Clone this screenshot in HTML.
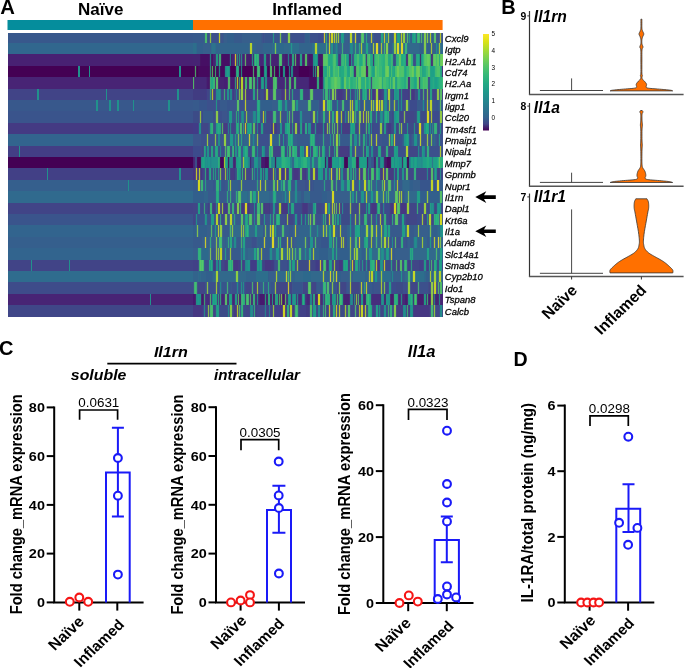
<!DOCTYPE html>
<html><head><meta charset="utf-8">
<style>
html,body{margin:0;padding:0;background:#fff;}
body{width:685px;height:668px;overflow:hidden;position:relative;}
svg{position:absolute;left:0;top:0;will-change:transform;}
text{font-family:"Liberation Sans",sans-serif;}
.b{font-weight:bold;}
.gl text{font-style:italic;font-size:8.4px;stroke:#000;stroke-width:0.25px;}
.tk{font-weight:bold;font-size:13.6px;}
.pv{font-size:12.2px;}
.yl{font-weight:bold;font-size:15.6px;}
.xl{font-weight:bold;font-size:14.6px;}
.bi{font-weight:bold;font-style:italic;}
</style></head><body>
<svg width="685" height="668" viewBox="0 0 685 668">
<text class="b" x="0.2" y="14.2" style="font-size:20.3px">A</text>
<text class="b" x="100.7" y="15" text-anchor="middle" style="font-size:17px">Naïve</text>
<text class="b" x="307.1" y="14.6" text-anchor="middle" style="font-size:17px">Inflamed</text>
<rect x="7.5" y="20" width="185.5" height="10" fill="#058d9c"/>
<rect x="193" y="20" width="249.6" height="10" fill="#ff7000"/>
<g shape-rendering="crispEdges"><path fill="#38588c" d="M7.5 32.50h185.5v10.40h-185.5zM7.5 99.92h185.5v11.40h-185.5z"/><path fill="#31678e" d="M7.5 42.90h185.5v11.40h-185.5z"/><path fill="#482173" d="M7.5 54.30h185.5v11.40h-185.5z"/><path fill="#440154" d="M7.5 65.71h185.5v11.40h-185.5zM7.5 156.94h185.5v11.40h-185.5z"/><path fill="#482475" d="M7.5 77.11h185.5v11.40h-185.5zM7.5 293.79h185.5v11.40h-185.5z"/><path fill="#414487" d="M7.5 88.52h185.5v11.40h-185.5zM7.5 202.56h185.5v11.40h-185.5zM7.5 259.58h185.5v11.40h-185.5z"/><path fill="#3a548c" d="M7.5 111.33h185.5v11.40h-185.5zM7.5 213.96h185.5v11.40h-185.5z"/><path fill="#443a83" d="M7.5 122.73h185.5v11.40h-185.5z"/><path fill="#32648e" d="M7.5 134.13h185.5v11.40h-185.5zM7.5 225.37h185.5v11.40h-185.5zM7.5 248.18h185.5v11.40h-185.5z"/><path fill="#433e85" d="M7.5 145.54h185.5v11.40h-185.5z"/><path fill="#424086" d="M7.5 168.35h185.5v11.40h-185.5z"/><path fill="#355f8d" d="M7.5 179.75h185.5v11.40h-185.5zM7.5 236.77h185.5v11.40h-185.5z"/><path fill="#306a8e" d="M7.5 191.15h185.5v11.40h-185.5z"/><path fill="#2f6c8e" d="M7.5 270.98h185.5v11.40h-185.5z"/><path fill="#3e4c8a" d="M7.5 282.39h185.5v11.40h-185.5z"/><path fill="#404688" d="M7.5 305.20h185.5v11.40h-185.5z"/><path fill="#375a8c" d="M193.0 32.50h11.0v10.40h-11.0zM223.0 32.50h1.0v10.40h-1.0zM234.0 32.50h8.0v10.40h-8.0zM261.0 32.50h1.0v10.40h-1.0zM272.0 32.50h1.0v10.40h-1.0zM274.0 32.50h1.0v10.40h-1.0zM340.0 32.50h1.0v10.40h-1.0zM348.0 32.50h1.0v10.40h-1.0zM353.0 32.50h1.0v10.40h-1.0zM373.0 32.50h1.0v10.40h-1.0zM380.0 32.50h1.0v10.40h-1.0zM392.0 32.50h1.0v10.40h-1.0zM429.0 77.11h1.0v11.40h-1.0zM193.0 99.92h6.0v11.40h-6.0zM220.0 99.92h7.0v11.40h-7.0zM256.0 99.92h1.0v11.40h-1.0zM288.0 99.92h3.0v11.40h-3.0zM338.0 99.92h1.0v11.40h-1.0zM360.0 99.92h1.0v11.40h-1.0zM387.0 99.92h1.0v11.40h-1.0zM391.0 99.92h2.0v11.40h-2.0zM396.0 99.92h1.0v11.40h-1.0zM409.0 99.92h1.0v11.40h-1.0zM417.0 99.92h5.0v11.40h-5.0zM438.0 99.92h1.0v11.40h-1.0zM442.0 99.92h0.6v11.40h-0.6zM203.0 111.33h10.0v11.40h-10.0zM228.0 111.33h1.0v11.40h-1.0zM232.0 111.33h1.0v11.40h-1.0zM248.0 111.33h4.0v11.40h-4.0zM260.0 111.33h1.0v11.40h-1.0zM286.0 111.33h1.0v11.40h-1.0zM303.0 111.33h7.0v11.40h-7.0zM316.0 111.33h1.0v11.40h-1.0zM318.0 111.33h1.0v11.40h-1.0zM321.0 111.33h1.0v11.40h-1.0zM326.0 111.33h2.0v11.40h-2.0zM346.0 111.33h1.0v11.40h-1.0zM357.0 111.33h1.0v11.40h-1.0zM372.0 111.33h1.0v11.40h-1.0zM375.0 111.33h1.0v11.40h-1.0zM377.0 111.33h1.0v11.40h-1.0zM379.0 111.33h1.0v11.40h-1.0zM431.0 122.73h1.0v11.40h-1.0zM220.0 134.13h1.0v11.40h-1.0zM229.0 134.13h1.0v11.40h-1.0zM286.0 134.13h1.0v11.40h-1.0zM297.0 134.13h12.0v11.40h-12.0zM315.0 134.13h1.0v11.40h-1.0zM329.0 134.13h1.0v11.40h-1.0zM331.0 134.13h1.0v11.40h-1.0zM341.0 134.13h8.0v11.40h-8.0zM353.0 134.13h1.0v11.40h-1.0zM357.0 134.13h1.0v11.40h-1.0zM402.0 134.13h1.0v11.40h-1.0zM409.0 134.13h1.0v11.40h-1.0zM438.0 134.13h1.0v11.40h-1.0zM440.0 134.13h1.0v11.40h-1.0zM242.0 145.54h1.0v11.40h-1.0zM261.0 145.54h1.0v11.40h-1.0zM325.0 145.54h1.0v11.40h-1.0zM419.0 145.54h1.0v11.40h-1.0zM421.0 145.54h1.0v11.40h-1.0zM193.0 179.75h4.0v11.40h-4.0zM207.0 179.75h6.0v11.40h-6.0zM221.0 179.75h1.0v11.40h-1.0zM238.0 179.75h2.0v11.40h-2.0zM243.0 179.75h13.0v11.40h-13.0zM262.0 179.75h2.0v11.40h-2.0zM267.0 179.75h1.0v11.40h-1.0zM294.0 179.75h1.0v11.40h-1.0zM297.0 179.75h1.0v11.40h-1.0zM314.0 179.75h9.0v11.40h-9.0zM392.0 179.75h1.0v11.40h-1.0zM399.0 179.75h3.0v11.40h-3.0zM208.0 191.15h7.0v11.40h-7.0zM220.0 191.15h6.0v11.40h-6.0zM232.0 191.15h3.0v11.40h-3.0zM301.0 191.15h3.0v11.40h-3.0zM310.0 191.15h12.0v11.40h-12.0zM358.0 191.15h2.0v11.40h-2.0zM403.0 191.15h1.0v11.40h-1.0zM197.0 213.96h1.0v11.40h-1.0zM207.0 213.96h1.0v11.40h-1.0zM210.0 213.96h1.0v11.40h-1.0zM214.0 213.96h1.0v11.40h-1.0zM228.0 213.96h1.0v11.40h-1.0zM236.0 213.96h4.0v11.40h-4.0zM263.0 213.96h1.0v11.40h-1.0zM265.0 213.96h1.0v11.40h-1.0zM269.0 213.96h1.0v11.40h-1.0zM271.0 213.96h1.0v11.40h-1.0zM321.0 213.96h1.0v11.40h-1.0zM351.0 213.96h1.0v11.40h-1.0zM401.0 213.96h1.0v11.40h-1.0zM404.0 213.96h1.0v11.40h-1.0zM213.0 225.37h1.0v11.40h-1.0zM223.0 225.37h6.0v11.40h-6.0zM263.0 225.37h1.0v11.40h-1.0zM289.0 225.37h4.0v11.40h-4.0zM338.0 225.37h1.0v11.40h-1.0zM342.0 225.37h5.0v11.40h-5.0zM352.0 225.37h2.0v11.40h-2.0zM391.0 225.37h10.0v11.40h-10.0zM410.0 225.37h4.0v11.40h-4.0zM193.0 236.77h9.0v11.40h-9.0zM237.0 236.77h3.0v11.40h-3.0zM246.0 236.77h5.0v11.40h-5.0zM309.0 236.77h1.0v11.40h-1.0zM313.0 236.77h1.0v11.40h-1.0zM317.0 236.77h4.0v11.40h-4.0zM328.0 236.77h1.0v11.40h-1.0zM391.0 236.77h1.0v11.40h-1.0zM407.0 236.77h1.0v11.40h-1.0zM410.0 236.77h3.0v11.40h-3.0zM427.0 236.77h2.0v11.40h-2.0zM432.0 236.77h1.0v11.40h-1.0zM212.0 248.18h3.0v11.40h-3.0zM223.0 248.18h1.0v11.40h-1.0zM227.0 248.18h2.0v11.40h-2.0zM232.0 248.18h8.0v11.40h-8.0zM263.0 248.18h6.0v11.40h-6.0zM393.0 248.18h2.0v11.40h-2.0zM219.0 282.39h1.0v11.40h-1.0zM236.0 282.39h1.0v11.40h-1.0zM238.0 282.39h1.0v11.40h-1.0zM260.0 282.39h2.0v11.40h-2.0zM265.0 282.39h2.0v11.40h-2.0zM270.0 282.39h1.0v11.40h-1.0zM317.0 282.39h3.0v11.40h-3.0zM368.0 282.39h4.0v11.40h-4.0z"/><path fill="#376487" d="M204.0 32.50h1.0v10.40h-1.0zM416.0 32.50h1.0v10.40h-1.0z"/><path fill="#4bb96e" d="M205.0 32.50h2.0v10.40h-2.0zM251.0 191.15h1.0v11.40h-1.0zM282.0 225.37h2.0v11.40h-2.0zM355.0 236.77h2.0v11.40h-2.0z"/><path fill="#3c5a87" d="M207.0 32.50h1.0v10.40h-1.0zM353.0 54.30h1.0v11.40h-1.0zM428.0 77.11h1.0v11.40h-1.0zM235.0 111.33h1.0v11.40h-1.0zM389.0 111.33h1.0v11.40h-1.0zM213.0 122.73h1.0v11.40h-1.0zM280.0 134.13h1.0v11.40h-1.0zM362.0 134.13h1.0v11.40h-1.0zM251.0 145.54h1.0v11.40h-1.0zM255.0 145.54h1.0v11.40h-1.0zM288.0 145.54h1.0v11.40h-1.0zM320.0 145.54h1.0v11.40h-1.0zM328.0 145.54h1.0v11.40h-1.0zM362.0 145.54h1.0v11.40h-1.0zM426.0 145.54h1.0v11.40h-1.0zM429.0 145.54h1.0v11.40h-1.0zM253.0 168.35h1.0v11.40h-1.0zM274.0 213.96h1.0v11.40h-1.0zM307.0 213.96h1.0v11.40h-1.0zM367.0 213.96h1.0v11.40h-1.0zM383.0 213.96h1.0v11.40h-1.0zM386.0 213.96h1.0v11.40h-1.0zM393.0 213.96h1.0v11.40h-1.0zM400.0 236.77h1.0v11.40h-1.0zM204.0 259.58h1.0v11.40h-1.0zM277.0 259.58h1.0v11.40h-1.0zM280.0 259.58h1.0v11.40h-1.0zM419.0 282.39h1.0v11.40h-1.0zM312.0 305.20h1.0v11.40h-1.0z"/><path fill="#3c508c" d="M208.0 32.50h1.0v10.40h-1.0zM212.0 32.50h6.0v10.40h-6.0zM263.0 32.50h1.0v10.40h-1.0zM283.0 32.50h4.0v10.40h-4.0zM291.0 32.50h13.0v10.40h-13.0zM310.0 32.50h8.0v10.40h-8.0zM374.0 32.50h6.0v10.40h-6.0zM391.0 88.52h2.0v11.40h-2.0zM417.0 88.52h1.0v11.40h-1.0zM420.0 88.52h1.0v11.40h-1.0zM207.0 99.92h8.0v11.40h-8.0zM218.0 99.92h2.0v11.40h-2.0zM240.0 99.92h4.0v11.40h-4.0zM247.0 99.92h9.0v11.40h-9.0zM319.0 99.92h1.0v11.40h-1.0zM403.0 99.92h2.0v11.40h-2.0zM213.0 111.33h2.0v11.40h-2.0zM219.0 111.33h3.0v11.40h-3.0zM261.0 111.33h1.0v11.40h-1.0zM282.0 111.33h4.0v11.40h-4.0zM310.0 111.33h2.0v11.40h-2.0zM319.0 111.33h1.0v11.40h-1.0zM373.0 111.33h2.0v11.40h-2.0zM378.0 111.33h1.0v11.40h-1.0zM390.0 111.33h2.0v11.40h-2.0zM214.0 122.73h1.0v11.40h-1.0zM422.0 122.73h1.0v11.40h-1.0zM201.0 134.13h5.0v11.40h-5.0zM209.0 134.13h5.0v11.40h-5.0zM259.0 134.13h10.0v11.40h-10.0zM281.0 134.13h1.0v11.40h-1.0zM285.0 134.13h1.0v11.40h-1.0zM316.0 134.13h3.0v11.40h-3.0zM361.0 134.13h1.0v11.40h-1.0zM373.0 134.13h2.0v11.40h-2.0zM396.0 134.13h6.0v11.40h-6.0zM410.0 134.13h1.0v11.40h-1.0zM437.0 134.13h1.0v11.40h-1.0zM441.0 134.13h1.6v11.40h-1.6zM219.0 145.54h1.0v11.40h-1.0zM221.0 145.54h1.0v11.40h-1.0zM259.0 145.54h2.0v11.40h-2.0zM266.0 145.54h2.0v11.40h-2.0zM326.0 145.54h2.0v11.40h-2.0zM353.0 145.54h1.0v11.40h-1.0zM357.0 145.54h5.0v11.40h-5.0zM370.0 145.54h1.0v11.40h-1.0zM373.0 145.54h1.0v11.40h-1.0zM399.0 145.54h6.0v11.40h-6.0zM420.0 145.54h1.0v11.40h-1.0zM430.0 145.54h9.0v11.40h-9.0zM442.0 145.54h0.6v11.40h-0.6zM252.0 156.94h1.0v11.40h-1.0zM305.0 179.75h3.0v11.40h-3.0zM311.0 179.75h1.0v11.40h-1.0zM343.0 202.56h1.0v11.40h-1.0zM261.0 213.96h2.0v11.40h-2.0zM281.0 213.96h4.0v11.40h-4.0zM316.0 213.96h5.0v11.40h-5.0zM352.0 213.96h2.0v11.40h-2.0zM357.0 213.96h1.0v11.40h-1.0zM361.0 213.96h2.0v11.40h-2.0zM368.0 213.96h2.0v11.40h-2.0zM373.0 213.96h2.0v11.40h-2.0zM378.0 213.96h1.0v11.40h-1.0zM399.0 213.96h2.0v11.40h-2.0zM405.0 213.96h1.0v11.40h-1.0zM252.0 236.77h4.0v11.40h-4.0zM397.0 236.77h3.0v11.40h-3.0zM205.0 259.58h3.0v11.40h-3.0zM275.0 259.58h2.0v11.40h-2.0zM281.0 259.58h6.0v11.40h-6.0zM205.0 282.39h1.0v11.40h-1.0zM209.0 282.39h6.0v11.40h-6.0zM218.0 282.39h1.0v11.40h-1.0zM232.0 282.39h4.0v11.40h-4.0zM239.0 282.39h1.0v11.40h-1.0zM346.0 282.39h1.0v11.40h-1.0zM403.0 282.39h4.0v11.40h-4.0zM420.0 282.39h8.0v11.40h-8.0z"/><path fill="#465f82" d="M209.0 32.50h1.0v10.40h-1.0zM211.0 32.50h1.0v10.40h-1.0zM287.0 32.50h1.0v10.40h-1.0zM290.0 32.50h1.0v10.40h-1.0zM390.0 88.52h1.0v11.40h-1.0zM388.0 99.92h1.0v11.40h-1.0zM405.0 99.92h1.0v11.40h-1.0zM215.0 111.33h1.0v11.40h-1.0zM218.0 111.33h1.0v11.40h-1.0zM279.0 111.33h1.0v11.40h-1.0zM281.0 111.33h1.0v11.40h-1.0zM312.0 111.33h1.0v11.40h-1.0zM315.0 111.33h1.0v11.40h-1.0zM347.0 111.33h1.0v11.40h-1.0zM369.0 111.33h1.0v11.40h-1.0zM206.0 134.13h1.0v11.40h-1.0zM208.0 134.13h1.0v11.40h-1.0zM214.0 134.13h1.0v11.40h-1.0zM216.0 134.13h1.0v11.40h-1.0zM223.0 134.13h1.0v11.40h-1.0zM226.0 134.13h1.0v11.40h-1.0zM256.0 134.13h1.0v11.40h-1.0zM258.0 134.13h1.0v11.40h-1.0zM335.0 134.13h1.0v11.40h-1.0zM372.0 134.13h1.0v11.40h-1.0zM219.0 168.35h1.0v11.40h-1.0zM308.0 179.75h1.0v11.40h-1.0zM310.0 179.75h1.0v11.40h-1.0zM311.0 213.96h1.0v11.40h-1.0zM354.0 213.96h1.0v11.40h-1.0zM356.0 213.96h1.0v11.40h-1.0zM292.0 236.77h1.0v11.40h-1.0zM344.0 236.77h1.0v11.40h-1.0zM206.0 282.39h1.0v11.40h-1.0zM208.0 282.39h1.0v11.40h-1.0zM215.0 282.39h1.0v11.40h-1.0zM217.0 282.39h1.0v11.40h-1.0zM349.0 282.39h1.0v11.40h-1.0zM382.0 282.39h1.0v11.40h-1.0zM407.0 282.39h1.0v11.40h-1.0z"/><path fill="#91be46" d="M210.0 32.50h1.0v10.40h-1.0zM336.0 32.50h1.0v10.40h-1.0zM346.0 88.52h1.0v11.40h-1.0zM246.0 111.33h1.0v11.40h-1.0zM366.0 111.33h1.0v11.40h-1.0zM401.0 122.73h1.0v11.40h-1.0zM287.0 213.96h1.0v11.40h-1.0zM355.0 213.96h1.0v11.40h-1.0zM434.0 305.20h1.0v11.40h-1.0z"/><path fill="#4b5f7d" d="M218.0 32.50h1.0v10.40h-1.0zM244.0 99.92h1.0v11.40h-1.0zM246.0 99.92h1.0v11.40h-1.0zM262.0 111.33h1.0v11.40h-1.0zM264.0 111.33h1.0v11.40h-1.0zM328.0 122.73h1.0v11.40h-1.0zM340.0 168.35h1.0v11.40h-1.0zM428.0 213.96h1.0v11.40h-1.0z"/><path fill="#bec82d" d="M219.0 32.50h1.0v10.40h-1.0zM245.0 99.92h1.0v11.40h-1.0zM350.0 99.92h1.0v11.40h-1.0zM329.0 111.33h1.0v11.40h-1.0z"/><path fill="#4b6482" d="M220.0 32.50h1.0v10.40h-1.0zM439.0 32.50h1.0v10.40h-1.0zM441.0 32.50h1.0v10.40h-1.0zM325.0 99.92h1.0v11.40h-1.0zM349.0 99.92h1.0v11.40h-1.0zM328.0 111.33h1.0v11.40h-1.0zM330.0 111.33h1.0v11.40h-1.0zM335.0 111.33h1.0v11.40h-1.0zM338.0 111.33h1.0v11.40h-1.0zM375.0 134.13h1.0v11.40h-1.0zM377.0 134.13h1.0v11.40h-1.0zM421.0 134.13h1.0v11.40h-1.0zM197.0 179.75h1.0v11.40h-1.0zM259.0 179.75h1.0v11.40h-1.0zM351.0 179.75h1.0v11.40h-1.0zM354.0 179.75h1.0v11.40h-1.0zM436.0 179.75h1.0v11.40h-1.0zM442.0 213.96h0.6v11.40h-0.6zM286.0 236.77h1.0v11.40h-1.0zM288.0 236.77h1.0v11.40h-1.0zM360.0 282.39h1.0v11.40h-1.0z"/><path fill="#3c558c" d="M221.0 32.50h2.0v10.40h-2.0zM262.0 32.50h1.0v10.40h-1.0zM264.0 32.50h1.0v10.40h-1.0zM304.0 32.50h1.0v10.40h-1.0zM437.0 32.50h2.0v10.40h-2.0zM442.0 32.50h0.6v10.40h-0.6zM352.0 54.30h1.0v11.40h-1.0zM354.0 88.52h1.0v11.40h-1.0zM215.0 99.92h1.0v11.40h-1.0zM217.0 99.92h1.0v11.40h-1.0zM230.0 99.92h6.0v11.40h-6.0zM339.0 99.92h2.0v11.40h-2.0zM433.0 99.92h3.0v11.40h-3.0zM222.0 111.33h5.0v11.40h-5.0zM239.0 111.33h2.0v11.40h-2.0zM244.0 111.33h1.0v11.40h-1.0zM299.0 111.33h1.0v11.40h-1.0zM339.0 111.33h1.0v11.40h-1.0zM215.0 122.73h1.0v11.40h-1.0zM423.0 122.73h1.0v11.40h-1.0zM439.0 122.73h1.0v11.40h-1.0zM193.0 134.13h8.0v11.40h-8.0zM221.0 134.13h2.0v11.40h-2.0zM227.0 134.13h2.0v11.40h-2.0zM325.0 134.13h4.0v11.40h-4.0zM378.0 134.13h4.0v11.40h-4.0zM411.0 134.13h1.0v11.40h-1.0zM422.0 134.13h4.0v11.40h-4.0zM429.0 134.13h1.0v11.40h-1.0zM436.0 134.13h1.0v11.40h-1.0zM398.0 145.54h1.0v11.40h-1.0zM327.0 168.35h2.0v11.40h-2.0zM225.0 179.75h2.0v11.40h-2.0zM292.0 179.75h2.0v11.40h-2.0zM298.0 179.75h7.0v11.40h-7.0zM312.0 179.75h1.0v11.40h-1.0zM326.0 179.75h4.0v11.40h-4.0zM355.0 179.75h3.0v11.40h-3.0zM289.0 202.56h1.0v11.40h-1.0zM330.0 202.56h1.0v11.40h-1.0zM384.0 202.56h1.0v11.40h-1.0zM208.0 213.96h2.0v11.40h-2.0zM253.0 213.96h1.0v11.40h-1.0zM255.0 213.96h1.0v11.40h-1.0zM266.0 213.96h3.0v11.40h-3.0zM294.0 213.96h1.0v11.40h-1.0zM297.0 213.96h1.0v11.40h-1.0zM375.0 213.96h1.0v11.40h-1.0zM377.0 213.96h1.0v11.40h-1.0zM251.0 236.77h1.0v11.40h-1.0zM256.0 236.77h1.0v11.40h-1.0zM293.0 236.77h1.0v11.40h-1.0zM308.0 236.77h1.0v11.40h-1.0zM345.0 236.77h1.0v11.40h-1.0zM404.0 236.77h2.0v11.40h-2.0zM360.0 259.58h2.0v11.40h-2.0zM363.0 259.58h1.0v11.40h-1.0zM231.0 282.39h1.0v11.40h-1.0zM240.0 282.39h1.0v11.40h-1.0zM244.0 282.39h1.0v11.40h-1.0zM292.0 282.39h1.0v11.40h-1.0zM302.0 282.39h1.0v11.40h-1.0zM336.0 282.39h1.0v11.40h-1.0zM347.0 282.39h2.0v11.40h-2.0zM374.0 282.39h6.0v11.40h-6.0zM388.0 282.39h1.0v11.40h-1.0zM391.0 282.39h1.0v11.40h-1.0z"/><path fill="#375f8c" d="M224.0 32.50h3.0v10.40h-3.0zM242.0 32.50h19.0v10.40h-19.0zM309.0 32.50h1.0v10.40h-1.0zM345.0 32.50h3.0v10.40h-3.0zM368.0 32.50h2.0v10.40h-2.0zM203.0 42.90h8.0v11.40h-8.0zM256.0 42.90h7.0v11.40h-7.0zM339.0 42.90h2.0v11.40h-2.0zM344.0 42.90h5.0v11.40h-5.0zM433.0 42.90h2.0v11.40h-2.0zM272.0 99.92h5.0v11.40h-5.0zM283.0 99.92h1.0v11.40h-1.0zM299.0 99.92h8.0v11.40h-8.0zM318.0 99.92h1.0v11.40h-1.0zM332.0 99.92h1.0v11.40h-1.0zM336.0 99.92h1.0v11.40h-1.0zM354.0 99.92h1.0v11.40h-1.0zM252.0 111.33h1.0v11.40h-1.0zM302.0 111.33h1.0v11.40h-1.0zM322.0 111.33h1.0v11.40h-1.0zM325.0 111.33h1.0v11.40h-1.0zM331.0 111.33h1.0v11.40h-1.0zM334.0 111.33h1.0v11.40h-1.0zM383.0 111.33h1.0v11.40h-1.0zM294.0 134.13h3.0v11.40h-3.0zM322.0 134.13h1.0v11.40h-1.0zM324.0 134.13h1.0v11.40h-1.0zM340.0 134.13h1.0v11.40h-1.0zM349.0 134.13h1.0v11.40h-1.0zM365.0 134.13h1.0v11.40h-1.0zM412.0 134.13h1.0v11.40h-1.0zM237.0 145.54h1.0v11.40h-1.0zM241.0 156.94h1.0v11.40h-1.0zM204.0 179.75h1.0v11.40h-1.0zM206.0 179.75h1.0v11.40h-1.0zM215.0 179.75h1.0v11.40h-1.0zM227.0 179.75h1.0v11.40h-1.0zM291.0 179.75h1.0v11.40h-1.0zM323.0 179.75h1.0v11.40h-1.0zM325.0 179.75h1.0v11.40h-1.0zM340.0 179.75h1.0v11.40h-1.0zM350.0 179.75h1.0v11.40h-1.0zM358.0 179.75h1.0v11.40h-1.0zM361.0 179.75h2.0v11.40h-2.0zM373.0 179.75h2.0v11.40h-2.0zM378.0 179.75h3.0v11.40h-3.0zM386.0 179.75h1.0v11.40h-1.0zM393.0 179.75h1.0v11.40h-1.0zM395.0 179.75h1.0v11.40h-1.0zM413.0 179.75h7.0v11.40h-7.0zM440.0 179.75h2.6v11.40h-2.6zM215.0 191.15h1.0v11.40h-1.0zM219.0 191.15h1.0v11.40h-1.0zM327.0 191.15h4.0v11.40h-4.0zM335.0 191.15h14.0v11.40h-14.0zM204.0 213.96h1.0v11.40h-1.0zM244.0 213.96h1.0v11.40h-1.0zM322.0 213.96h1.0v11.40h-1.0zM207.0 225.37h3.0v11.40h-3.0zM278.0 225.37h3.0v11.40h-3.0zM285.0 225.37h4.0v11.40h-4.0zM293.0 225.37h1.0v11.40h-1.0zM297.0 225.37h2.0v11.40h-2.0zM336.0 225.37h2.0v11.40h-2.0zM390.0 225.37h1.0v11.40h-1.0zM401.0 225.37h1.0v11.40h-1.0zM414.0 225.37h3.0v11.40h-3.0zM420.0 225.37h8.0v11.40h-8.0zM202.0 236.77h2.0v11.40h-2.0zM207.0 236.77h2.0v11.40h-2.0zM212.0 236.77h3.0v11.40h-3.0zM223.0 236.77h2.0v11.40h-2.0zM257.0 236.77h1.0v11.40h-1.0zM275.0 236.77h2.0v11.40h-2.0zM281.0 236.77h1.0v11.40h-1.0zM294.0 236.77h3.0v11.40h-3.0zM335.0 236.77h1.0v11.40h-1.0zM337.0 236.77h1.0v11.40h-1.0zM352.0 236.77h2.0v11.40h-2.0zM361.0 236.77h2.0v11.40h-2.0zM369.0 236.77h1.0v11.40h-1.0zM373.0 236.77h1.0v11.40h-1.0zM403.0 236.77h1.0v11.40h-1.0zM408.0 236.77h2.0v11.40h-2.0zM420.0 236.77h1.0v11.40h-1.0zM193.0 248.18h4.0v11.40h-4.0zM224.0 248.18h1.0v11.40h-1.0zM226.0 248.18h1.0v11.40h-1.0zM240.0 248.18h1.0v11.40h-1.0zM338.0 248.18h2.0v11.40h-2.0zM395.0 248.18h14.0v11.40h-14.0zM358.0 259.58h1.0v11.40h-1.0zM269.0 270.98h6.0v11.40h-6.0zM341.0 270.98h8.0v11.40h-8.0zM352.0 270.98h1.0v11.40h-1.0zM394.0 270.98h6.0v11.40h-6.0zM403.0 270.98h1.0v11.40h-1.0zM221.0 282.39h1.0v11.40h-1.0zM242.0 282.39h1.0v11.40h-1.0zM262.0 282.39h1.0v11.40h-1.0zM264.0 282.39h1.0v11.40h-1.0zM267.0 282.39h1.0v11.40h-1.0zM269.0 282.39h1.0v11.40h-1.0zM322.0 282.39h1.0v11.40h-1.0zM363.0 282.39h1.0v11.40h-1.0z"/><path fill="#325f8c" d="M227.0 32.50h7.0v10.40h-7.0zM305.0 32.50h4.0v10.40h-4.0zM390.0 32.50h2.0v10.40h-2.0zM411.0 32.50h1.0v10.40h-1.0zM432.0 32.50h1.0v10.40h-1.0zM197.0 42.90h6.0v11.40h-6.0zM338.0 42.90h1.0v11.40h-1.0zM371.0 42.90h1.0v11.40h-1.0zM379.0 42.90h1.0v11.40h-1.0zM389.0 42.90h3.0v11.40h-3.0zM420.0 42.90h3.0v11.40h-3.0zM427.0 42.90h3.0v11.40h-3.0zM261.0 99.92h11.0v11.40h-11.0zM312.0 99.92h6.0v11.40h-6.0zM366.0 99.92h4.0v11.40h-4.0zM397.0 99.92h1.0v11.40h-1.0zM399.0 99.92h2.0v11.40h-2.0zM424.0 99.92h1.0v11.40h-1.0zM243.0 134.13h1.0v11.40h-1.0zM273.0 134.13h5.0v11.40h-5.0zM418.0 134.13h1.0v11.40h-1.0zM433.0 134.13h1.0v11.40h-1.0zM435.0 134.13h1.0v11.40h-1.0zM232.0 179.75h6.0v11.40h-6.0zM279.0 179.75h1.0v11.40h-1.0zM286.0 179.75h1.0v11.40h-1.0zM410.0 179.75h3.0v11.40h-3.0zM193.0 191.15h11.0v11.40h-11.0zM322.0 191.15h5.0v11.40h-5.0zM354.0 191.15h1.0v11.40h-1.0zM421.0 191.15h5.0v11.40h-5.0zM429.0 191.15h10.0v11.40h-10.0zM193.0 225.37h3.0v11.40h-3.0zM199.0 225.37h8.0v11.40h-8.0zM267.0 225.37h2.0v11.40h-2.0zM277.0 225.37h1.0v11.40h-1.0zM428.0 225.37h1.0v11.40h-1.0zM432.0 225.37h5.0v11.40h-5.0zM225.0 236.77h1.0v11.40h-1.0zM258.0 236.77h5.0v11.40h-5.0zM266.0 236.77h5.0v11.40h-5.0zM307.0 236.77h1.0v11.40h-1.0zM436.0 236.77h1.0v11.40h-1.0zM319.0 248.18h9.0v11.40h-9.0zM340.0 248.18h9.0v11.40h-9.0zM362.0 248.18h3.0v11.40h-3.0zM206.0 270.98h6.0v11.40h-6.0zM268.0 270.98h1.0v11.40h-1.0zM338.0 270.98h3.0v11.40h-3.0zM426.0 270.98h3.0v11.40h-3.0z"/><path fill="#37558c" d="M265.0 32.50h7.0v10.40h-7.0zM275.0 32.50h4.0v10.40h-4.0zM282.0 32.50h1.0v10.40h-1.0zM357.0 32.50h3.0v10.40h-3.0zM199.0 99.92h8.0v11.40h-8.0zM227.0 99.92h3.0v11.40h-3.0zM333.0 99.92h3.0v11.40h-3.0zM345.0 99.92h4.0v11.40h-4.0zM361.0 99.92h2.0v11.40h-2.0zM402.0 99.92h1.0v11.40h-1.0zM425.0 99.92h1.0v11.40h-1.0zM436.0 99.92h2.0v11.40h-2.0zM227.0 111.33h1.0v11.40h-1.0zM233.0 111.33h2.0v11.40h-2.0zM277.0 111.33h2.0v11.40h-2.0zM320.0 111.33h1.0v11.40h-1.0zM217.0 134.13h1.0v11.40h-1.0zM282.0 134.13h1.0v11.40h-1.0zM284.0 134.13h1.0v11.40h-1.0zM319.0 134.13h3.0v11.40h-3.0zM367.0 134.13h2.0v11.40h-2.0zM382.0 134.13h6.0v11.40h-6.0zM256.0 145.54h1.0v11.40h-1.0zM258.0 145.54h1.0v11.40h-1.0zM265.0 145.54h1.0v11.40h-1.0zM352.0 145.54h1.0v11.40h-1.0zM425.0 145.54h1.0v11.40h-1.0zM253.0 156.94h1.0v11.40h-1.0zM371.0 156.94h2.0v11.40h-2.0zM255.0 168.35h2.0v11.40h-2.0zM258.0 168.35h2.0v11.40h-2.0zM213.0 179.75h2.0v11.40h-2.0zM222.0 179.75h3.0v11.40h-3.0zM268.0 179.75h4.0v11.40h-4.0zM313.0 179.75h1.0v11.40h-1.0zM334.0 179.75h1.0v11.40h-1.0zM338.0 179.75h2.0v11.40h-2.0zM420.0 179.75h10.0v11.40h-10.0zM434.0 179.75h2.0v11.40h-2.0zM198.0 213.96h6.0v11.40h-6.0zM304.0 213.96h1.0v11.40h-1.0zM306.0 213.96h1.0v11.40h-1.0zM282.0 236.77h4.0v11.40h-4.0zM289.0 236.77h1.0v11.40h-1.0zM321.0 236.77h7.0v11.40h-7.0zM338.0 236.77h2.0v11.40h-2.0zM346.0 236.77h1.0v11.40h-1.0zM390.0 236.77h1.0v11.40h-1.0zM393.0 236.77h1.0v11.40h-1.0zM406.0 236.77h1.0v11.40h-1.0zM222.0 282.39h4.0v11.40h-4.0zM229.0 282.39h2.0v11.40h-2.0zM259.0 282.39h1.0v11.40h-1.0zM271.0 282.39h3.0v11.40h-3.0zM293.0 282.39h9.0v11.40h-9.0zM316.0 282.39h1.0v11.40h-1.0zM320.0 282.39h2.0v11.40h-2.0zM330.0 282.39h1.0v11.40h-1.0zM334.0 282.39h2.0v11.40h-2.0zM372.0 282.39h2.0v11.40h-2.0z"/><path fill="#289682" d="M273.0 32.50h1.0v10.40h-1.0zM329.0 88.52h1.0v11.40h-1.0zM287.0 145.54h1.0v11.40h-1.0zM213.0 168.35h1.0v11.40h-1.0z"/><path fill="#416487" d="M279.0 32.50h1.0v10.40h-1.0zM281.0 32.50h1.0v10.40h-1.0zM358.0 111.33h1.0v11.40h-1.0zM432.0 134.13h1.0v11.40h-1.0zM227.0 213.96h1.0v11.40h-1.0zM264.0 225.37h1.0v11.40h-1.0zM211.0 248.18h1.0v11.40h-1.0z"/><path fill="#7dbe55" d="M280.0 32.50h1.0v10.40h-1.0zM238.0 134.13h1.0v11.40h-1.0zM431.0 134.13h1.0v11.40h-1.0zM408.0 191.15h1.0v11.40h-1.0zM265.0 225.37h1.0v11.40h-1.0zM210.0 248.18h1.0v11.40h-1.0zM350.0 270.98h1.0v11.40h-1.0z"/><path fill="#87c84b" d="M288.0 32.50h2.0v10.40h-2.0zM359.0 111.33h2.0v11.40h-2.0z"/><path fill="#3c4b8c" d="M318.0 32.50h5.0v10.40h-5.0zM414.0 54.30h1.0v11.40h-1.0zM261.0 88.52h2.0v11.40h-2.0zM294.0 88.52h5.0v11.40h-5.0zM314.0 88.52h8.0v11.40h-8.0zM353.0 88.52h1.0v11.40h-1.0zM320.0 99.92h2.0v11.40h-2.0zM410.0 99.92h7.0v11.40h-7.0zM202.0 111.33h1.0v11.40h-1.0zM294.0 111.33h5.0v11.40h-5.0zM433.0 111.33h6.0v11.40h-6.0zM208.0 122.73h1.0v11.40h-1.0zM361.0 122.73h4.0v11.40h-4.0zM374.0 122.73h5.0v11.40h-5.0zM403.0 122.73h3.0v11.40h-3.0zM438.0 122.73h1.0v11.40h-1.0zM193.0 145.54h8.0v11.40h-8.0zM222.0 145.54h2.0v11.40h-2.0zM249.0 145.54h2.0v11.40h-2.0zM333.0 168.35h1.0v11.40h-1.0zM201.0 202.56h2.0v11.40h-2.0zM206.0 202.56h1.0v11.40h-1.0zM295.0 202.56h6.0v11.40h-6.0zM322.0 202.56h2.0v11.40h-2.0zM385.0 202.56h4.0v11.40h-4.0zM419.0 202.56h4.0v11.40h-4.0zM427.0 202.56h2.0v11.40h-2.0zM285.0 213.96h1.0v11.40h-1.0zM293.0 213.96h1.0v11.40h-1.0zM298.0 213.96h2.0v11.40h-2.0zM303.0 213.96h1.0v11.40h-1.0zM382.0 213.96h1.0v11.40h-1.0zM387.0 213.96h2.0v11.40h-2.0zM417.0 213.96h4.0v11.40h-4.0zM274.0 259.58h1.0v11.40h-1.0zM287.0 259.58h1.0v11.40h-1.0zM245.0 282.39h1.0v11.40h-1.0zM386.0 282.39h2.0v11.40h-2.0zM392.0 282.39h4.0v11.40h-4.0z"/><path fill="#505a7d" d="M323.0 32.50h1.0v10.40h-1.0zM322.0 99.92h1.0v11.40h-1.0zM426.0 111.33h1.0v11.40h-1.0zM429.0 111.33h1.0v11.40h-1.0zM418.0 122.73h1.0v11.40h-1.0zM305.0 145.54h1.0v11.40h-1.0zM308.0 145.54h1.0v11.40h-1.0zM324.0 202.56h1.0v11.40h-1.0zM328.0 213.96h1.0v11.40h-1.0zM330.0 213.96h1.0v11.40h-1.0zM308.0 259.58h1.0v11.40h-1.0zM310.0 259.58h1.0v11.40h-1.0zM385.0 259.58h1.0v11.40h-1.0zM337.0 305.20h1.0v11.40h-1.0zM364.0 305.20h1.0v11.40h-1.0z"/><path fill="#c8c832" d="M324.0 32.50h1.0v10.40h-1.0zM355.0 32.50h1.0v10.40h-1.0zM205.0 236.77h1.0v11.40h-1.0zM264.0 236.77h1.0v11.40h-1.0zM287.0 236.77h1.0v11.40h-1.0zM391.0 248.18h1.0v11.40h-1.0z"/><path fill="#4b647d" d="M325.0 32.50h1.0v10.40h-1.0zM439.0 88.52h1.0v11.40h-1.0zM400.0 122.73h1.0v11.40h-1.0zM330.0 168.35h1.0v11.40h-1.0zM327.0 202.56h1.0v11.40h-1.0zM335.0 305.20h1.0v11.40h-1.0z"/><path fill="#2d9b82" d="M326.0 32.50h1.0v10.40h-1.0zM210.0 88.52h1.0v11.40h-1.0zM292.0 88.52h1.0v11.40h-1.0zM323.0 88.52h1.0v11.40h-1.0zM357.0 88.52h1.0v11.40h-1.0zM324.0 179.75h1.0v11.40h-1.0zM323.0 213.96h1.0v11.40h-1.0zM391.0 259.58h1.0v11.40h-1.0z"/><path fill="#3c5587" d="M327.0 32.50h1.0v10.40h-1.0zM393.0 54.30h1.0v11.40h-1.0zM395.0 54.30h1.0v11.40h-1.0zM413.0 54.30h1.0v11.40h-1.0zM415.0 54.30h1.0v11.40h-1.0zM291.0 88.52h1.0v11.40h-1.0zM293.0 88.52h1.0v11.40h-1.0zM299.0 88.52h1.0v11.40h-1.0zM322.0 88.52h1.0v11.40h-1.0zM330.0 88.52h1.0v11.40h-1.0zM399.0 111.33h1.0v11.40h-1.0zM416.0 111.33h1.0v11.40h-1.0zM420.0 111.33h1.0v11.40h-1.0zM209.0 122.73h1.0v11.40h-1.0zM263.0 122.73h1.0v11.40h-1.0zM307.0 122.73h1.0v11.40h-1.0zM355.0 122.73h1.0v11.40h-1.0zM437.0 122.73h1.0v11.40h-1.0zM213.0 145.54h2.0v11.40h-2.0zM218.0 145.54h1.0v11.40h-1.0zM248.0 145.54h1.0v11.40h-1.0zM297.0 145.54h1.0v11.40h-1.0zM304.0 145.54h1.0v11.40h-1.0zM321.0 145.54h1.0v11.40h-1.0zM349.0 145.54h1.0v11.40h-1.0zM369.0 145.54h1.0v11.40h-1.0zM377.0 145.54h1.0v11.40h-1.0zM211.0 168.35h2.0v11.40h-2.0zM216.0 168.35h1.0v11.40h-1.0zM236.0 168.35h1.0v11.40h-1.0zM307.0 168.35h1.0v11.40h-1.0zM310.0 168.35h1.0v11.40h-1.0zM356.0 168.35h1.0v11.40h-1.0zM203.0 202.56h1.0v11.40h-1.0zM205.0 202.56h1.0v11.40h-1.0zM290.0 202.56h1.0v11.40h-1.0zM294.0 202.56h1.0v11.40h-1.0zM312.0 202.56h1.0v11.40h-1.0zM316.0 202.56h1.0v11.40h-1.0zM367.0 202.56h1.0v11.40h-1.0zM416.0 202.56h1.0v11.40h-1.0zM418.0 202.56h1.0v11.40h-1.0zM429.0 202.56h1.0v11.40h-1.0zM219.0 213.96h1.0v11.40h-1.0zM221.0 213.96h1.0v11.40h-1.0zM275.0 213.96h1.0v11.40h-1.0zM280.0 213.96h1.0v11.40h-1.0zM300.0 213.96h1.0v11.40h-1.0zM302.0 213.96h1.0v11.40h-1.0zM326.0 213.96h1.0v11.40h-1.0zM363.0 213.96h1.0v11.40h-1.0zM433.0 213.96h1.0v11.40h-1.0zM208.0 259.58h1.0v11.40h-1.0zM218.0 259.58h1.0v11.40h-1.0zM288.0 259.58h1.0v11.40h-1.0zM365.0 259.58h1.0v11.40h-1.0zM367.0 259.58h1.0v11.40h-1.0zM369.0 259.58h1.0v11.40h-1.0zM390.0 259.58h1.0v11.40h-1.0zM392.0 259.58h1.0v11.40h-1.0zM243.0 305.20h1.0v11.40h-1.0zM253.0 305.20h1.0v11.40h-1.0zM298.0 305.20h1.0v11.40h-1.0zM367.0 305.20h1.0v11.40h-1.0zM380.0 305.20h1.0v11.40h-1.0zM392.0 305.20h1.0v11.40h-1.0z"/><path fill="#4b5a7d" d="M328.0 32.50h1.0v10.40h-1.0zM430.0 111.33h1.0v11.40h-1.0zM432.0 111.33h1.0v11.40h-1.0zM274.0 168.35h1.0v11.40h-1.0zM331.0 202.56h1.0v11.40h-1.0zM335.0 202.56h1.0v11.40h-1.0zM215.0 213.96h1.0v11.40h-1.0zM218.0 213.96h1.0v11.40h-1.0zM209.0 305.20h1.0v11.40h-1.0zM338.0 305.20h1.0v11.40h-1.0zM340.0 305.20h1.0v11.40h-1.0zM344.0 305.20h1.0v11.40h-1.0zM346.0 305.20h1.0v11.40h-1.0zM366.0 305.20h1.0v11.40h-1.0z"/><path fill="#b9c332" d="M329.0 32.50h1.0v10.40h-1.0zM263.0 111.33h1.0v11.40h-1.0zM365.0 305.20h1.0v11.40h-1.0z"/><path fill="#5a6973" d="M330.0 32.50h1.0v10.40h-1.0z"/><path fill="#cdd223" d="M331.0 32.50h1.0v10.40h-1.0zM318.0 293.79h2.0v11.40h-2.0zM283.0 305.20h2.0v11.40h-2.0z"/><path fill="#c8d723" d="M332.0 32.50h1.0v10.40h-1.0z"/><path fill="#5a7373" d="M333.0 32.50h1.0v10.40h-1.0z"/><path fill="#afc832" d="M334.0 32.50h1.0v10.40h-1.0zM430.0 32.50h1.0v10.40h-1.0zM371.0 99.92h1.0v11.40h-1.0zM384.0 179.75h1.0v11.40h-1.0zM340.0 225.37h1.0v11.40h-1.0zM381.0 225.37h1.0v11.40h-1.0zM313.0 248.18h1.0v11.40h-1.0zM323.0 270.98h1.0v11.40h-1.0z"/><path fill="#557378" d="M335.0 32.50h1.0v10.40h-1.0zM342.0 236.77h1.0v11.40h-1.0z"/><path fill="#507378" d="M337.0 32.50h1.0v10.40h-1.0zM402.0 32.50h1.0v10.40h-1.0zM400.0 191.15h1.0v11.40h-1.0zM219.0 225.37h1.0v11.40h-1.0zM219.0 248.18h1.0v11.40h-1.0z"/><path fill="#96c341" d="M338.0 32.50h1.0v10.40h-1.0zM388.0 32.50h1.0v10.40h-1.0zM389.0 99.92h1.0v11.40h-1.0zM348.0 111.33h1.0v11.40h-1.0zM371.0 134.13h1.0v11.40h-1.0zM241.0 225.37h1.0v11.40h-1.0zM350.0 236.77h1.0v11.40h-1.0zM422.0 236.77h1.0v11.40h-1.0zM216.0 248.18h1.0v11.40h-1.0zM230.0 248.18h1.0v11.40h-1.0z"/><path fill="#466482" d="M339.0 32.50h1.0v10.40h-1.0zM387.0 88.52h1.0v11.40h-1.0zM353.0 99.92h1.0v11.40h-1.0zM426.0 99.92h1.0v11.40h-1.0zM428.0 99.92h2.0v11.40h-2.0zM432.0 99.92h1.0v11.40h-1.0zM340.0 111.33h1.0v11.40h-1.0zM370.0 134.13h1.0v11.40h-1.0zM388.0 134.13h1.0v11.40h-1.0zM426.0 134.13h1.0v11.40h-1.0zM428.0 134.13h1.0v11.40h-1.0zM242.0 156.94h1.0v11.40h-1.0zM231.0 179.75h1.0v11.40h-1.0zM276.0 179.75h1.0v11.40h-1.0zM396.0 179.75h1.0v11.40h-1.0zM398.0 179.75h1.0v11.40h-1.0zM430.0 179.75h1.0v11.40h-1.0zM433.0 179.75h1.0v11.40h-1.0zM402.0 191.15h1.0v11.40h-1.0zM339.0 225.37h1.0v11.40h-1.0zM341.0 225.37h1.0v11.40h-1.0zM409.0 225.37h1.0v11.40h-1.0zM290.0 236.77h1.0v11.40h-1.0zM340.0 236.77h1.0v11.40h-1.0zM386.0 236.77h2.0v11.40h-2.0zM389.0 236.77h1.0v11.40h-1.0zM215.0 248.18h1.0v11.40h-1.0zM222.0 248.18h1.0v11.40h-1.0zM229.0 248.18h1.0v11.40h-1.0zM231.0 248.18h1.0v11.40h-1.0zM274.0 282.39h1.0v11.40h-1.0zM362.0 282.39h1.0v11.40h-1.0zM367.0 282.39h1.0v11.40h-1.0zM380.0 282.39h1.0v11.40h-1.0z"/><path fill="#239b87" d="M341.0 32.50h1.0v10.40h-1.0zM397.0 32.50h1.0v10.40h-1.0zM399.0 32.50h1.0v10.40h-1.0zM430.0 77.11h1.0v11.40h-1.0zM394.0 88.52h1.0v11.40h-1.0zM398.0 88.52h1.0v11.40h-1.0zM384.0 111.33h1.0v11.40h-1.0zM216.0 122.73h1.0v11.40h-1.0zM247.0 122.73h1.0v11.40h-1.0zM261.0 122.73h2.0v11.40h-2.0zM285.0 122.73h1.0v11.40h-1.0zM262.0 145.54h1.0v11.40h-1.0zM300.0 145.54h1.0v11.40h-1.0zM317.0 145.54h1.0v11.40h-1.0zM324.0 145.54h1.0v11.40h-1.0zM350.0 145.54h2.0v11.40h-2.0zM394.0 145.54h1.0v11.40h-1.0zM397.0 145.54h1.0v11.40h-1.0zM431.0 156.94h1.0v11.40h-1.0zM433.0 156.94h1.0v11.40h-1.0zM209.0 168.35h1.0v11.40h-1.0zM325.0 168.35h2.0v11.40h-2.0zM397.0 168.35h2.0v11.40h-2.0zM255.0 191.15h1.0v11.40h-1.0zM417.0 191.15h1.0v11.40h-1.0zM419.0 191.15h1.0v11.40h-1.0zM198.0 202.56h2.0v11.40h-2.0zM369.0 202.56h1.0v11.40h-1.0zM430.0 202.56h1.0v11.40h-1.0zM211.0 213.96h1.0v11.40h-1.0zM213.0 213.96h1.0v11.40h-1.0zM255.0 225.37h2.0v11.40h-2.0zM329.0 225.37h2.0v11.40h-2.0zM402.0 225.37h1.0v11.40h-1.0zM404.0 225.37h1.0v11.40h-1.0zM364.0 236.77h1.0v11.40h-1.0zM332.0 248.18h2.0v11.40h-2.0zM411.0 248.18h1.0v11.40h-1.0zM347.0 259.58h1.0v11.40h-1.0zM439.0 259.58h1.0v11.40h-1.0zM389.0 282.39h2.0v11.40h-2.0zM276.0 293.79h1.0v11.40h-1.0zM218.0 305.20h1.0v11.40h-1.0zM315.0 305.20h1.0v11.40h-1.0zM376.0 305.20h2.0v11.40h-2.0z"/><path fill="#1e9b8c" d="M342.0 32.50h1.0v10.40h-1.0zM228.0 65.71h1.0v11.40h-1.0zM385.0 88.52h1.0v11.40h-1.0zM396.0 111.33h1.0v11.40h-1.0zM231.0 134.13h1.0v11.40h-1.0zM367.0 145.54h1.0v11.40h-1.0zM308.0 156.94h1.0v11.40h-1.0zM335.0 156.94h3.0v11.40h-3.0zM398.0 156.94h1.0v11.40h-1.0zM320.0 168.35h1.0v11.40h-1.0zM438.0 202.56h1.0v11.40h-1.0zM277.0 248.18h1.0v11.40h-1.0z"/><path fill="#239687" d="M343.0 32.50h1.0v10.40h-1.0zM412.0 32.50h1.0v10.40h-1.0zM415.0 32.50h1.0v10.40h-1.0zM264.0 54.30h1.0v11.40h-1.0zM337.0 54.30h1.0v11.40h-1.0zM417.0 111.33h1.0v11.40h-1.0zM419.0 111.33h1.0v11.40h-1.0zM300.0 122.73h1.0v11.40h-1.0zM384.0 122.73h2.0v11.40h-2.0zM235.0 134.13h1.0v11.40h-1.0zM243.0 145.54h1.0v11.40h-1.0zM303.0 145.54h1.0v11.40h-1.0zM422.0 145.54h1.0v11.40h-1.0zM236.0 156.94h1.0v11.40h-1.0zM332.0 156.94h1.0v11.40h-1.0zM260.0 168.35h2.0v11.40h-2.0zM322.0 168.35h1.0v11.40h-1.0zM351.0 168.35h1.0v11.40h-1.0zM379.0 168.35h1.0v11.40h-1.0zM403.0 168.35h1.0v11.40h-1.0zM313.0 202.56h1.0v11.40h-1.0zM368.0 202.56h1.0v11.40h-1.0zM205.0 213.96h1.0v11.40h-1.0zM338.0 213.96h1.0v11.40h-1.0zM215.0 225.37h1.0v11.40h-1.0zM430.0 236.77h1.0v11.40h-1.0zM386.0 248.18h1.0v11.40h-1.0zM388.0 248.18h1.0v11.40h-1.0zM220.0 259.58h1.0v11.40h-1.0zM257.0 259.58h1.0v11.40h-1.0zM261.0 259.58h1.0v11.40h-1.0zM292.0 259.58h1.0v11.40h-1.0zM294.0 259.58h1.0v11.40h-1.0zM329.0 259.58h1.0v11.40h-1.0zM331.0 259.58h1.0v11.40h-1.0zM424.0 259.58h2.0v11.40h-2.0zM441.0 259.58h1.0v11.40h-1.0zM229.0 293.79h1.0v11.40h-1.0zM235.0 293.79h2.0v11.40h-2.0zM361.0 293.79h2.0v11.40h-2.0zM216.0 305.20h1.0v11.40h-1.0z"/><path fill="#32648c" d="M344.0 32.50h1.0v10.40h-1.0zM365.0 32.50h1.0v10.40h-1.0zM367.0 32.50h1.0v10.40h-1.0zM410.0 32.50h1.0v10.40h-1.0zM216.0 42.90h33.0v11.40h-33.0zM253.0 42.90h3.0v11.40h-3.0zM263.0 42.90h9.0v11.40h-9.0zM299.0 42.90h13.0v11.40h-13.0zM333.0 42.90h1.0v11.40h-1.0zM419.0 42.90h1.0v11.40h-1.0zM435.0 42.90h1.0v11.40h-1.0zM277.0 99.92h1.0v11.40h-1.0zM282.0 99.92h1.0v11.40h-1.0zM284.0 99.92h1.0v11.40h-1.0zM287.0 99.92h1.0v11.40h-1.0zM298.0 99.92h1.0v11.40h-1.0zM422.0 99.92h1.0v11.40h-1.0zM256.0 111.33h1.0v11.40h-1.0zM233.0 134.13h2.0v11.40h-2.0zM236.0 134.13h1.0v11.40h-1.0zM244.0 134.13h4.0v11.40h-4.0zM251.0 134.13h1.0v11.40h-1.0zM255.0 134.13h1.0v11.40h-1.0zM293.0 134.13h1.0v11.40h-1.0zM309.0 134.13h1.0v11.40h-1.0zM403.0 134.13h1.0v11.40h-1.0zM413.0 134.13h1.0v11.40h-1.0zM417.0 134.13h1.0v11.40h-1.0zM434.0 134.13h1.0v11.40h-1.0zM369.0 156.94h2.0v11.40h-2.0zM345.0 179.75h1.0v11.40h-1.0zM360.0 179.75h1.0v11.40h-1.0zM375.0 179.75h1.0v11.40h-1.0zM377.0 179.75h1.0v11.40h-1.0zM402.0 179.75h1.0v11.40h-1.0zM409.0 179.75h1.0v11.40h-1.0zM204.0 191.15h4.0v11.40h-4.0zM256.0 191.15h1.0v11.40h-1.0zM269.0 191.15h3.0v11.40h-3.0zM277.0 191.15h5.0v11.40h-5.0zM291.0 191.15h3.0v11.40h-3.0zM298.0 191.15h3.0v11.40h-3.0zM360.0 191.15h1.0v11.40h-1.0zM364.0 191.15h1.0v11.40h-1.0zM390.0 191.15h4.0v11.40h-4.0zM404.0 191.15h1.0v11.40h-1.0zM420.0 191.15h1.0v11.40h-1.0zM214.0 225.37h1.0v11.40h-1.0zM216.0 225.37h1.0v11.40h-1.0zM299.0 225.37h10.0v11.40h-10.0zM312.0 225.37h4.0v11.40h-4.0zM319.0 225.37h3.0v11.40h-3.0zM347.0 225.37h2.0v11.40h-2.0zM351.0 225.37h1.0v11.40h-1.0zM360.0 225.37h1.0v11.40h-1.0zM374.0 225.37h1.0v11.40h-1.0zM378.0 225.37h2.0v11.40h-2.0zM437.0 225.37h1.0v11.40h-1.0zM226.0 236.77h1.0v11.40h-1.0zM232.0 236.77h2.0v11.40h-2.0zM236.0 236.77h1.0v11.40h-1.0zM245.0 236.77h1.0v11.40h-1.0zM297.0 236.77h7.0v11.40h-7.0zM347.0 236.77h2.0v11.40h-2.0zM363.0 236.77h1.0v11.40h-1.0zM368.0 236.77h1.0v11.40h-1.0zM374.0 236.77h1.0v11.40h-1.0zM378.0 236.77h2.0v11.40h-2.0zM413.0 236.77h1.0v11.40h-1.0zM418.0 236.77h2.0v11.40h-2.0zM424.0 236.77h3.0v11.40h-3.0zM429.0 236.77h1.0v11.40h-1.0zM431.0 236.77h1.0v11.40h-1.0zM442.0 236.77h0.6v11.40h-0.6zM242.0 248.18h1.0v11.40h-1.0zM246.0 248.18h2.0v11.40h-2.0zM273.0 248.18h2.0v11.40h-2.0zM297.0 248.18h1.0v11.40h-1.0zM302.0 248.18h2.0v11.40h-2.0zM307.0 248.18h1.0v11.40h-1.0zM315.0 248.18h4.0v11.40h-4.0zM334.0 248.18h1.0v11.40h-1.0zM352.0 248.18h1.0v11.40h-1.0zM361.0 248.18h1.0v11.40h-1.0zM389.0 248.18h1.0v11.40h-1.0zM193.0 270.98h5.0v11.40h-5.0zM201.0 270.98h5.0v11.40h-5.0zM212.0 270.98h1.0v11.40h-1.0zM246.0 270.98h10.0v11.40h-10.0zM292.0 270.98h3.0v11.40h-3.0zM325.0 270.98h4.0v11.40h-4.0zM365.0 270.98h3.0v11.40h-3.0zM378.0 270.98h2.0v11.40h-2.0zM391.0 270.98h1.0v11.40h-1.0zM393.0 270.98h1.0v11.40h-1.0zM400.0 270.98h1.0v11.40h-1.0zM402.0 270.98h1.0v11.40h-1.0zM404.0 270.98h1.0v11.40h-1.0zM425.0 270.98h1.0v11.40h-1.0zM432.0 270.98h1.0v11.40h-1.0zM437.0 270.98h1.0v11.40h-1.0zM442.0 270.98h0.6v11.40h-0.6z"/><path fill="#466982" d="M349.0 32.50h1.0v10.40h-1.0zM352.0 32.50h1.0v10.40h-1.0zM370.0 32.50h1.0v10.40h-1.0zM372.0 32.50h1.0v10.40h-1.0zM393.0 32.50h1.0v10.40h-1.0zM383.0 99.92h1.0v11.40h-1.0zM393.0 99.92h1.0v11.40h-1.0zM395.0 99.92h1.0v11.40h-1.0zM229.0 179.75h1.0v11.40h-1.0zM261.0 179.75h1.0v11.40h-1.0zM363.0 179.75h1.0v11.40h-1.0zM366.0 179.75h1.0v11.40h-1.0zM385.0 179.75h1.0v11.40h-1.0zM439.0 179.75h1.0v11.40h-1.0zM331.0 191.15h1.0v11.40h-1.0zM334.0 191.15h1.0v11.40h-1.0zM229.0 213.96h1.0v11.40h-1.0zM232.0 213.96h1.0v11.40h-1.0zM309.0 213.96h1.0v11.40h-1.0zM217.0 225.37h1.0v11.40h-1.0zM294.0 225.37h1.0v11.40h-1.0zM296.0 225.37h1.0v11.40h-1.0zM335.0 225.37h1.0v11.40h-1.0zM358.0 236.77h1.0v11.40h-1.0zM360.0 236.77h1.0v11.40h-1.0zM433.0 236.77h1.0v11.40h-1.0zM435.0 236.77h1.0v11.40h-1.0zM260.0 248.18h1.0v11.40h-1.0zM262.0 248.18h1.0v11.40h-1.0zM275.0 270.98h1.0v11.40h-1.0z"/><path fill="#b9d22d" d="M350.0 32.50h2.0v10.40h-2.0zM430.0 99.92h2.0v11.40h-2.0zM279.0 168.35h2.0v11.40h-2.0zM230.0 213.96h2.0v11.40h-2.0zM407.0 225.37h2.0v11.40h-2.0z"/><path fill="#4b6982" d="M354.0 32.50h1.0v10.40h-1.0zM356.0 32.50h1.0v10.40h-1.0zM392.0 248.18h1.0v11.40h-1.0z"/><path fill="#3c5f87" d="M360.0 32.50h1.0v10.40h-1.0zM324.0 88.52h1.0v11.40h-1.0zM328.0 88.52h1.0v11.40h-1.0zM236.0 99.92h1.0v11.40h-1.0zM239.0 99.92h1.0v11.40h-1.0zM341.0 99.92h1.0v11.40h-1.0zM344.0 99.92h1.0v11.40h-1.0zM276.0 111.33h1.0v11.40h-1.0zM288.0 111.33h1.0v11.40h-1.0zM239.0 122.73h1.0v11.40h-1.0zM433.0 122.73h1.0v11.40h-1.0zM332.0 134.13h1.0v11.40h-1.0zM334.0 134.13h1.0v11.40h-1.0zM352.0 168.35h1.0v11.40h-1.0zM354.0 168.35h1.0v11.40h-1.0zM272.0 179.75h1.0v11.40h-1.0zM275.0 179.75h1.0v11.40h-1.0zM330.0 179.75h1.0v11.40h-1.0zM335.0 179.75h1.0v11.40h-1.0zM337.0 179.75h1.0v11.40h-1.0zM243.0 213.96h1.0v11.40h-1.0zM272.0 213.96h1.0v11.40h-1.0zM291.0 259.58h1.0v11.40h-1.0zM226.0 282.39h1.0v11.40h-1.0zM228.0 282.39h1.0v11.40h-1.0zM329.0 282.39h1.0v11.40h-1.0zM240.0 305.20h1.0v11.40h-1.0zM389.0 305.20h1.0v11.40h-1.0z"/><path fill="#55b969" d="M361.0 32.50h1.0v10.40h-1.0zM440.0 88.52h1.0v11.40h-1.0zM431.0 168.35h2.0v11.40h-2.0zM331.0 179.75h2.0v11.40h-2.0zM228.0 202.56h2.0v11.40h-2.0zM261.0 202.56h2.0v11.40h-2.0zM332.0 213.96h2.0v11.40h-2.0zM400.0 259.58h2.0v11.40h-2.0zM308.0 282.39h1.0v11.40h-1.0zM310.0 282.39h1.0v11.40h-1.0zM225.0 293.79h2.0v11.40h-2.0zM348.0 305.20h2.0v11.40h-2.0z"/><path fill="#55c869" d="M362.0 32.50h1.0v10.40h-1.0zM324.0 54.30h2.0v11.40h-2.0zM363.0 54.30h1.0v11.40h-1.0zM425.0 54.30h1.0v11.40h-1.0zM202.0 259.58h1.0v11.40h-1.0zM309.0 282.39h1.0v11.40h-1.0z"/><path fill="#50be69" d="M363.0 32.50h1.0v10.40h-1.0zM299.0 248.18h2.0v11.40h-2.0zM408.0 270.98h2.0v11.40h-2.0z"/><path fill="#376987" d="M364.0 32.50h1.0v10.40h-1.0zM422.0 32.50h1.0v10.40h-1.0zM433.0 32.50h1.0v10.40h-1.0zM295.0 99.92h1.0v11.40h-1.0zM307.0 99.92h1.0v11.40h-1.0zM311.0 99.92h1.0v11.40h-1.0zM381.0 179.75h1.0v11.40h-1.0zM387.0 179.75h1.0v11.40h-1.0zM349.0 191.15h1.0v11.40h-1.0zM439.0 191.15h1.0v11.40h-1.0zM442.0 191.15h0.6v11.40h-0.6zM324.0 213.96h1.0v11.40h-1.0zM210.0 225.37h1.0v11.40h-1.0zM212.0 225.37h1.0v11.40h-1.0zM277.0 236.77h1.0v11.40h-1.0z"/><path fill="#2da082" d="M366.0 32.50h1.0v10.40h-1.0zM376.0 111.33h1.0v11.40h-1.0zM241.0 134.13h1.0v11.40h-1.0zM228.0 179.75h1.0v11.40h-1.0zM359.0 179.75h1.0v11.40h-1.0zM234.0 213.96h1.0v11.40h-1.0zM336.0 248.18h1.0v11.40h-1.0zM268.0 282.39h1.0v11.40h-1.0z"/><path fill="#c3c832" d="M371.0 32.50h1.0v10.40h-1.0zM329.0 42.90h1.0v11.40h-1.0zM364.0 99.92h1.0v11.40h-1.0zM270.0 225.37h1.0v11.40h-1.0z"/><path fill="#28a082" d="M381.0 32.50h1.0v10.40h-1.0zM405.0 54.30h1.0v11.40h-1.0zM416.0 54.30h1.0v11.40h-1.0zM253.0 88.52h2.0v11.40h-2.0zM366.0 88.52h1.0v11.40h-1.0zM430.0 88.52h2.0v11.40h-2.0zM398.0 111.33h1.0v11.40h-1.0zM210.0 122.73h1.0v11.40h-1.0zM220.0 122.73h1.0v11.40h-1.0zM236.0 122.73h1.0v11.40h-1.0zM238.0 122.73h1.0v11.40h-1.0zM301.0 122.73h1.0v11.40h-1.0zM314.0 134.13h1.0v11.40h-1.0zM204.0 145.54h1.0v11.40h-1.0zM211.0 145.54h2.0v11.40h-2.0zM215.0 145.54h1.0v11.40h-1.0zM217.0 145.54h1.0v11.40h-1.0zM247.0 145.54h1.0v11.40h-1.0zM284.0 145.54h1.0v11.40h-1.0zM366.0 145.54h1.0v11.40h-1.0zM378.0 145.54h1.0v11.40h-1.0zM380.0 145.54h1.0v11.40h-1.0zM291.0 202.56h1.0v11.40h-1.0zM293.0 202.56h1.0v11.40h-1.0zM245.0 225.37h1.0v11.40h-1.0zM209.0 259.58h1.0v11.40h-1.0zM289.0 259.58h1.0v11.40h-1.0zM355.0 259.58h1.0v11.40h-1.0zM357.0 259.58h1.0v11.40h-1.0zM374.0 259.58h1.0v11.40h-1.0zM339.0 293.79h1.0v11.40h-1.0zM371.0 305.20h1.0v11.40h-1.0z"/><path fill="#23a082" d="M382.0 32.50h1.0v10.40h-1.0zM354.0 122.73h1.0v11.40h-1.0zM377.0 156.94h1.0v11.40h-1.0zM245.0 213.96h1.0v11.40h-1.0zM247.0 213.96h1.0v11.40h-1.0z"/><path fill="#417382" d="M383.0 32.50h1.0v10.40h-1.0zM385.0 32.50h1.0v10.40h-1.0zM328.0 42.90h1.0v11.40h-1.0zM385.0 42.90h1.0v11.40h-1.0zM288.0 191.15h1.0v11.40h-1.0zM290.0 191.15h1.0v11.40h-1.0zM365.0 191.15h1.0v11.40h-1.0zM274.0 225.37h1.0v11.40h-1.0zM322.0 225.37h1.0v11.40h-1.0zM375.0 225.37h1.0v11.40h-1.0zM377.0 225.37h1.0v11.40h-1.0zM380.0 225.37h1.0v11.40h-1.0zM382.0 225.37h1.0v11.40h-1.0zM406.0 225.37h1.0v11.40h-1.0zM280.0 248.18h1.0v11.40h-1.0zM286.0 248.18h1.0v11.40h-1.0zM290.0 248.18h1.0v11.40h-1.0zM353.0 248.18h1.0v11.40h-1.0zM373.0 270.98h1.0v11.40h-1.0zM431.0 270.98h1.0v11.40h-1.0zM438.0 270.98h1.0v11.40h-1.0zM441.0 270.98h1.0v11.40h-1.0z"/><path fill="#b9c832" d="M384.0 32.50h1.0v10.40h-1.0zM379.0 99.92h1.0v11.40h-1.0zM376.0 134.13h1.0v11.40h-1.0zM218.0 225.37h1.0v11.40h-1.0zM295.0 225.37h1.0v11.40h-1.0zM376.0 225.37h1.0v11.40h-1.0zM369.0 270.98h1.0v11.40h-1.0zM361.0 282.39h1.0v11.40h-1.0z"/><path fill="#23918c" d="M386.0 32.50h1.0v10.40h-1.0zM331.0 42.90h2.0v11.40h-2.0zM226.0 65.71h1.0v11.40h-1.0zM219.0 88.52h1.0v11.40h-1.0zM227.0 88.52h2.0v11.40h-2.0zM384.0 88.52h1.0v11.40h-1.0zM386.0 88.52h1.0v11.40h-1.0zM396.0 88.52h1.0v11.40h-1.0zM418.0 88.52h2.0v11.40h-2.0zM285.0 99.92h2.0v11.40h-2.0zM296.0 99.92h2.0v11.40h-2.0zM398.0 99.92h1.0v11.40h-1.0zM242.0 111.33h1.0v11.40h-1.0zM300.0 111.33h2.0v11.40h-2.0zM381.0 111.33h1.0v11.40h-1.0zM394.0 111.33h1.0v11.40h-1.0zM280.0 122.73h2.0v11.40h-2.0zM308.0 122.73h2.0v11.40h-2.0zM394.0 122.73h2.0v11.40h-2.0zM424.0 122.73h1.0v11.40h-1.0zM404.0 134.13h1.0v11.40h-1.0zM414.0 134.13h1.0v11.40h-1.0zM416.0 134.13h1.0v11.40h-1.0zM205.0 145.54h1.0v11.40h-1.0zM207.0 145.54h2.0v11.40h-2.0zM263.0 145.54h1.0v11.40h-1.0zM368.0 145.54h1.0v11.40h-1.0zM206.0 156.94h1.0v11.40h-1.0zM212.0 156.94h6.0v11.40h-6.0zM254.0 156.94h1.0v11.40h-1.0zM338.0 156.94h1.0v11.40h-1.0zM351.0 156.94h1.0v11.40h-1.0zM381.0 156.94h2.0v11.40h-2.0zM400.0 156.94h1.0v11.40h-1.0zM413.0 156.94h1.0v11.40h-1.0zM418.0 156.94h3.0v11.40h-3.0zM422.0 156.94h1.0v11.40h-1.0zM319.0 168.35h1.0v11.40h-1.0zM402.0 168.35h1.0v11.40h-1.0zM341.0 179.75h1.0v11.40h-1.0zM343.0 179.75h1.0v11.40h-1.0zM285.0 191.15h1.0v11.40h-1.0zM361.0 191.15h1.0v11.40h-1.0zM363.0 191.15h1.0v11.40h-1.0zM273.0 202.56h2.0v11.40h-2.0zM328.0 202.56h2.0v11.40h-2.0zM432.0 202.56h1.0v11.40h-1.0zM437.0 202.56h1.0v11.40h-1.0zM295.0 213.96h2.0v11.40h-2.0zM441.0 225.37h1.0v11.40h-1.0zM310.0 236.77h1.0v11.40h-1.0zM312.0 236.77h1.0v11.40h-1.0zM243.0 248.18h2.0v11.40h-2.0zM369.0 248.18h1.0v11.40h-1.0zM371.0 248.18h1.0v11.40h-1.0zM382.0 248.18h1.0v11.40h-1.0zM219.0 259.58h1.0v11.40h-1.0zM249.0 259.58h1.0v11.40h-1.0zM401.0 270.98h1.0v11.40h-1.0zM382.0 293.79h1.0v11.40h-1.0zM388.0 293.79h1.0v11.40h-1.0zM313.0 305.20h1.0v11.40h-1.0zM384.0 305.20h2.0v11.40h-2.0z"/><path fill="#3c7382" d="M387.0 32.50h1.0v10.40h-1.0zM240.0 225.37h1.0v11.40h-1.0zM283.0 248.18h1.0v11.40h-1.0zM215.0 270.98h1.0v11.40h-1.0zM380.0 270.98h1.0v11.40h-1.0zM433.0 270.98h1.0v11.40h-1.0zM436.0 270.98h1.0v11.40h-1.0z"/><path fill="#416e82" d="M389.0 32.50h1.0v10.40h-1.0zM396.0 32.50h1.0v10.40h-1.0zM429.0 32.50h1.0v10.40h-1.0zM431.0 32.50h1.0v10.40h-1.0zM249.0 42.90h1.0v11.40h-1.0zM252.0 42.90h1.0v11.40h-1.0zM372.0 42.90h1.0v11.40h-1.0zM374.0 42.90h1.0v11.40h-1.0zM380.0 42.90h1.0v11.40h-1.0zM382.0 42.90h1.0v11.40h-1.0zM338.0 134.13h1.0v11.40h-1.0zM390.0 134.13h1.0v11.40h-1.0zM259.0 191.15h1.0v11.40h-1.0zM384.0 191.15h1.0v11.40h-1.0zM426.0 191.15h1.0v11.40h-1.0zM428.0 191.15h1.0v11.40h-1.0zM244.0 225.37h1.0v11.40h-1.0zM349.0 236.77h1.0v11.40h-1.0zM351.0 236.77h1.0v11.40h-1.0zM383.0 236.77h1.0v11.40h-1.0zM423.0 236.77h1.0v11.40h-1.0zM312.0 248.18h1.0v11.40h-1.0zM314.0 248.18h1.0v11.40h-1.0zM324.0 270.98h1.0v11.40h-1.0zM429.0 270.98h1.0v11.40h-1.0z"/><path fill="#bed228" d="M394.0 32.50h2.0v10.40h-2.0zM431.0 179.75h2.0v11.40h-2.0zM272.0 225.37h2.0v11.40h-2.0zM220.0 248.18h2.0v11.40h-2.0zM361.0 305.20h2.0v11.40h-2.0z"/><path fill="#1ea087" d="M398.0 32.50h1.0v10.40h-1.0zM413.0 32.50h1.0v10.40h-1.0zM315.0 54.30h2.0v11.40h-2.0zM347.0 54.30h1.0v11.40h-1.0zM227.0 65.71h1.0v11.40h-1.0zM265.0 65.71h1.0v11.40h-1.0zM373.0 65.71h1.0v11.40h-1.0zM431.0 65.71h3.0v11.40h-3.0zM262.0 77.11h1.0v11.40h-1.0zM342.0 77.11h1.0v11.40h-1.0zM435.0 77.11h2.0v11.40h-2.0zM397.0 111.33h1.0v11.40h-1.0zM418.0 111.33h1.0v11.40h-1.0zM248.0 122.73h2.0v11.40h-2.0zM286.0 122.73h1.0v11.40h-1.0zM352.0 122.73h2.0v11.40h-2.0zM406.0 134.13h1.0v11.40h-1.0zM244.0 145.54h1.0v11.40h-1.0zM395.0 145.54h1.0v11.40h-1.0zM202.0 156.94h1.0v11.40h-1.0zM204.0 156.94h1.0v11.40h-1.0zM237.0 156.94h1.0v11.40h-1.0zM245.0 156.94h2.0v11.40h-2.0zM333.0 156.94h2.0v11.40h-2.0zM341.0 156.94h1.0v11.40h-1.0zM360.0 156.94h6.0v11.40h-6.0zM392.0 156.94h2.0v11.40h-2.0zM395.0 156.94h2.0v11.40h-2.0zM411.0 156.94h2.0v11.40h-2.0zM414.0 156.94h1.0v11.40h-1.0zM416.0 156.94h1.0v11.40h-1.0zM423.0 156.94h3.0v11.40h-3.0zM429.0 156.94h2.0v11.40h-2.0zM434.0 156.94h3.0v11.40h-3.0zM238.0 168.35h1.0v11.40h-1.0zM418.0 191.15h1.0v11.40h-1.0zM212.0 213.96h1.0v11.40h-1.0zM356.0 225.37h1.0v11.40h-1.0zM403.0 225.37h1.0v11.40h-1.0zM387.0 248.18h1.0v11.40h-1.0zM260.0 259.58h1.0v11.40h-1.0zM293.0 259.58h1.0v11.40h-1.0zM330.0 259.58h1.0v11.40h-1.0zM345.0 259.58h1.0v11.40h-1.0zM440.0 259.58h1.0v11.40h-1.0zM214.0 293.79h1.0v11.40h-1.0zM230.0 293.79h1.0v11.40h-1.0zM289.0 293.79h1.0v11.40h-1.0zM409.0 293.79h1.0v11.40h-1.0zM217.0 305.20h1.0v11.40h-1.0z"/><path fill="#466e82" d="M400.0 32.50h1.0v10.40h-1.0zM375.0 42.90h1.0v11.40h-1.0zM378.0 42.90h1.0v11.40h-1.0zM363.0 99.92h1.0v11.40h-1.0zM365.0 99.92h1.0v11.40h-1.0zM370.0 99.92h1.0v11.40h-1.0zM375.0 99.92h1.0v11.40h-1.0zM354.0 111.33h1.0v11.40h-1.0zM269.0 134.13h1.0v11.40h-1.0zM272.0 134.13h1.0v11.40h-1.0zM419.0 134.13h1.0v11.40h-1.0zM278.0 179.75h1.0v11.40h-1.0zM269.0 225.37h1.0v11.40h-1.0zM204.0 236.77h1.0v11.40h-1.0zM206.0 236.77h1.0v11.40h-1.0zM263.0 236.77h1.0v11.40h-1.0zM265.0 236.77h1.0v11.40h-1.0zM271.0 236.77h1.0v11.40h-1.0zM274.0 236.77h1.0v11.40h-1.0zM437.0 236.77h1.0v11.40h-1.0zM390.0 248.18h1.0v11.40h-1.0zM329.0 270.98h1.0v11.40h-1.0zM331.0 270.98h1.0v11.40h-1.0zM335.0 270.98h1.0v11.40h-1.0zM337.0 270.98h1.0v11.40h-1.0zM368.0 270.98h1.0v11.40h-1.0zM365.0 282.39h1.0v11.40h-1.0z"/><path fill="#b4c832" d="M401.0 32.50h1.0v10.40h-1.0zM277.0 179.75h1.0v11.40h-1.0zM366.0 191.15h1.0v11.40h-1.0zM434.0 236.77h1.0v11.40h-1.0zM366.0 282.39h1.0v11.40h-1.0z"/><path fill="#91cd41" d="M403.0 32.50h2.0v10.40h-2.0zM394.0 42.90h2.0v11.40h-2.0zM356.0 248.18h2.0v11.40h-2.0zM408.0 282.39h2.0v11.40h-2.0z"/><path fill="#416982" d="M405.0 32.50h1.0v10.40h-1.0zM430.0 42.90h1.0v11.40h-1.0zM432.0 42.90h1.0v11.40h-1.0zM390.0 99.92h1.0v11.40h-1.0zM408.0 99.92h1.0v11.40h-1.0zM247.0 111.33h1.0v11.40h-1.0zM240.0 179.75h1.0v11.40h-1.0zM242.0 179.75h1.0v11.40h-1.0zM264.0 179.75h1.0v11.40h-1.0zM266.0 179.75h1.0v11.40h-1.0zM257.0 191.15h1.0v11.40h-1.0zM417.0 225.37h1.0v11.40h-1.0zM419.0 225.37h1.0v11.40h-1.0zM370.0 236.77h1.0v11.40h-1.0zM372.0 236.77h1.0v11.40h-1.0zM421.0 236.77h1.0v11.40h-1.0zM218.0 270.98h1.0v11.40h-1.0z"/><path fill="#3c6487" d="M406.0 32.50h1.0v10.40h-1.0zM291.0 99.92h1.0v11.40h-1.0zM326.0 99.92h1.0v11.40h-1.0zM439.0 99.92h1.0v11.40h-1.0zM441.0 99.92h1.0v11.40h-1.0zM333.0 179.75h1.0v11.40h-1.0zM391.0 179.75h1.0v11.40h-1.0zM394.0 191.15h1.0v11.40h-1.0zM240.0 213.96h1.0v11.40h-1.0zM334.0 213.96h1.0v11.40h-1.0zM314.0 236.77h1.0v11.40h-1.0zM316.0 236.77h1.0v11.40h-1.0zM334.0 236.77h1.0v11.40h-1.0z"/><path fill="#55b46e" d="M407.0 32.50h1.0v10.40h-1.0z"/><path fill="#376e87" d="M408.0 32.50h1.0v10.40h-1.0zM351.0 191.15h1.0v11.40h-1.0zM389.0 191.15h1.0v11.40h-1.0zM229.0 225.37h1.0v11.40h-1.0zM242.0 236.77h1.0v11.40h-1.0z"/><path fill="#239187" d="M409.0 32.50h1.0v10.40h-1.0zM348.0 54.30h1.0v11.40h-1.0zM421.0 54.30h1.0v11.40h-1.0zM261.0 77.11h1.0v11.40h-1.0zM263.0 77.11h1.0v11.40h-1.0zM362.0 88.52h1.0v11.40h-1.0zM216.0 99.92h1.0v11.40h-1.0zM337.0 99.92h1.0v11.40h-1.0zM238.0 111.33h1.0v11.40h-1.0zM287.0 111.33h1.0v11.40h-1.0zM251.0 122.73h1.0v11.40h-1.0zM407.0 122.73h1.0v11.40h-1.0zM235.0 145.54h1.0v11.40h-1.0zM359.0 156.94h1.0v11.40h-1.0zM366.0 156.94h1.0v11.40h-1.0zM240.0 168.35h1.0v11.40h-1.0zM318.0 168.35h1.0v11.40h-1.0zM329.0 168.35h1.0v11.40h-1.0zM350.0 168.35h1.0v11.40h-1.0zM305.0 213.96h1.0v11.40h-1.0zM376.0 213.96h1.0v11.40h-1.0zM350.0 225.37h1.0v11.40h-1.0zM212.0 259.58h1.0v11.40h-1.0zM343.0 259.58h1.0v11.40h-1.0zM436.0 259.58h1.0v11.40h-1.0zM241.0 282.39h1.0v11.40h-1.0zM200.0 293.79h1.0v11.40h-1.0zM288.0 293.79h1.0v11.40h-1.0zM290.0 293.79h1.0v11.40h-1.0zM295.0 293.79h1.0v11.40h-1.0zM304.0 293.79h1.0v11.40h-1.0zM332.0 293.79h1.0v11.40h-1.0zM335.0 293.79h1.0v11.40h-1.0zM389.0 293.79h1.0v11.40h-1.0z"/><path fill="#23a587" d="M414.0 32.50h1.0v10.40h-1.0zM371.0 54.30h1.0v11.40h-1.0zM422.0 54.30h1.0v11.40h-1.0zM324.0 65.71h1.0v11.40h-1.0zM331.0 65.71h1.0v11.40h-1.0zM347.0 65.71h1.0v11.40h-1.0zM405.0 65.71h1.0v11.40h-1.0zM423.0 65.71h1.0v11.40h-1.0zM434.0 65.71h1.0v11.40h-1.0zM341.0 77.11h1.0v11.40h-1.0zM414.0 77.11h1.0v11.40h-1.0zM432.0 77.11h1.0v11.40h-1.0zM364.0 88.52h1.0v11.40h-1.0zM280.0 99.92h1.0v11.40h-1.0zM258.0 111.33h1.0v11.40h-1.0zM219.0 122.73h1.0v11.40h-1.0zM351.0 122.73h1.0v11.40h-1.0zM290.0 134.13h1.0v11.40h-1.0zM239.0 156.94h1.0v11.40h-1.0zM281.0 156.94h1.0v11.40h-1.0zM288.0 156.94h2.0v11.40h-2.0zM295.0 156.94h1.0v11.40h-1.0zM321.0 156.94h3.0v11.40h-3.0zM404.0 156.94h2.0v11.40h-2.0zM437.0 156.94h1.0v11.40h-1.0zM292.0 202.56h1.0v11.40h-1.0zM385.0 225.37h1.0v11.40h-1.0z"/><path fill="#3caf78" d="M417.0 32.50h1.0v10.40h-1.0zM419.0 32.50h1.0v10.40h-1.0zM325.0 88.52h1.0v11.40h-1.0zM327.0 88.52h1.0v11.40h-1.0zM233.0 145.54h1.0v11.40h-1.0zM368.0 179.75h2.0v11.40h-2.0zM210.0 202.56h2.0v11.40h-2.0zM257.0 202.56h1.0v11.40h-1.0zM259.0 202.56h1.0v11.40h-1.0z"/><path fill="#3cb978" d="M418.0 32.50h1.0v10.40h-1.0zM336.0 65.71h1.0v11.40h-1.0zM344.0 65.71h1.0v11.40h-1.0zM346.0 65.71h1.0v11.40h-1.0zM427.0 65.71h1.0v11.40h-1.0zM406.0 77.11h1.0v11.40h-1.0zM442.0 77.11h0.6v11.40h-0.6z"/><path fill="#3c6987" d="M420.0 32.50h1.0v10.40h-1.0zM248.0 213.96h1.0v11.40h-1.0zM332.0 236.77h1.0v11.40h-1.0zM349.0 270.98h1.0v11.40h-1.0zM351.0 270.98h1.0v11.40h-1.0zM326.0 282.39h1.0v11.40h-1.0z"/><path fill="#50af6e" d="M421.0 32.50h1.0v10.40h-1.0zM225.0 145.54h1.0v11.40h-1.0zM315.0 236.77h1.0v11.40h-1.0z"/><path fill="#3c6e87" d="M423.0 32.50h1.0v10.40h-1.0zM428.0 32.50h1.0v10.40h-1.0zM388.0 42.90h1.0v11.40h-1.0zM423.0 42.90h1.0v11.40h-1.0zM426.0 42.90h1.0v11.40h-1.0zM374.0 99.92h1.0v11.40h-1.0zM237.0 134.13h1.0v11.40h-1.0zM239.0 134.13h1.0v11.40h-1.0zM196.0 225.37h1.0v11.40h-1.0zM198.0 225.37h1.0v11.40h-1.0zM266.0 225.37h1.0v11.40h-1.0zM373.0 225.37h1.0v11.40h-1.0zM429.0 225.37h1.0v11.40h-1.0zM431.0 225.37h1.0v11.40h-1.0zM304.0 236.77h1.0v11.40h-1.0zM306.0 236.77h1.0v11.40h-1.0zM380.0 236.77h1.0v11.40h-1.0zM382.0 236.77h1.0v11.40h-1.0zM441.0 236.77h1.0v11.40h-1.0zM293.0 248.18h1.0v11.40h-1.0zM349.0 248.18h1.0v11.40h-1.0zM351.0 248.18h1.0v11.40h-1.0zM365.0 248.18h1.0v11.40h-1.0zM367.0 248.18h1.0v11.40h-1.0zM291.0 270.98h1.0v11.40h-1.0zM332.0 270.98h1.0v11.40h-1.0zM334.0 270.98h1.0v11.40h-1.0z"/><path fill="#82c850" d="M424.0 32.50h2.0v10.40h-2.0zM424.0 42.90h2.0v11.40h-2.0zM332.0 88.52h2.0v11.40h-2.0zM237.0 202.56h2.0v11.40h-2.0z"/><path fill="#46787d" d="M426.0 32.50h1.0v10.40h-1.0z"/><path fill="#82c350" d="M427.0 32.50h1.0v10.40h-1.0z"/><path fill="#5abe69" d="M434.0 32.50h2.0v10.40h-2.0zM275.0 88.52h1.0v11.40h-1.0zM237.0 99.92h2.0v11.40h-2.0zM406.0 168.35h1.0v11.40h-1.0zM395.0 213.96h1.0v11.40h-1.0zM397.0 213.96h1.0v11.40h-1.0z"/><path fill="#415a87" d="M436.0 32.50h1.0v10.40h-1.0zM313.0 88.52h1.0v11.40h-1.0zM290.0 111.33h2.0v11.40h-2.0zM293.0 111.33h1.0v11.40h-1.0zM365.0 122.73h1.0v11.40h-1.0zM224.0 145.54h1.0v11.40h-1.0zM252.0 213.96h1.0v11.40h-1.0zM256.0 213.96h1.0v11.40h-1.0zM260.0 213.96h1.0v11.40h-1.0zM312.0 213.96h1.0v11.40h-1.0zM315.0 213.96h1.0v11.40h-1.0zM370.0 213.96h1.0v11.40h-1.0zM372.0 213.96h1.0v11.40h-1.0zM394.0 213.96h1.0v11.40h-1.0zM398.0 213.96h1.0v11.40h-1.0zM394.0 236.77h1.0v11.40h-1.0zM396.0 236.77h1.0v11.40h-1.0z"/><path fill="#b4c332" d="M440.0 32.50h1.0v10.40h-1.0zM273.0 122.73h1.0v11.40h-1.0zM339.0 168.35h1.0v11.40h-1.0zM339.0 305.20h1.0v11.40h-1.0z"/><path fill="#2d6e8c" d="M193.0 42.90h3.0v11.40h-3.0zM211.0 42.90h1.0v11.40h-1.0zM215.0 42.90h1.0v11.40h-1.0zM289.0 42.90h1.0v11.40h-1.0zM293.0 42.90h6.0v11.40h-6.0zM312.0 42.90h2.0v11.40h-2.0zM318.0 42.90h6.0v11.40h-6.0zM334.0 42.90h1.0v11.40h-1.0zM363.0 42.90h2.0v11.40h-2.0zM369.0 42.90h2.0v11.40h-2.0zM392.0 42.90h1.0v11.40h-1.0zM437.0 42.90h1.0v11.40h-1.0zM258.0 156.94h2.0v11.40h-2.0zM242.0 191.15h5.0v11.40h-5.0zM284.0 191.15h1.0v11.40h-1.0zM286.0 191.15h1.0v11.40h-1.0zM370.0 191.15h1.0v11.40h-1.0zM373.0 191.15h1.0v11.40h-1.0zM379.0 191.15h3.0v11.40h-3.0zM416.0 191.15h1.0v11.40h-1.0zM249.0 225.37h1.0v11.40h-1.0zM254.0 225.37h1.0v11.40h-1.0zM257.0 225.37h1.0v11.40h-1.0zM328.0 225.37h1.0v11.40h-1.0zM331.0 225.37h1.0v11.40h-1.0zM405.0 225.37h1.0v11.40h-1.0zM253.0 248.18h1.0v11.40h-1.0zM372.0 248.18h1.0v11.40h-1.0zM426.0 248.18h1.0v11.40h-1.0zM429.0 248.18h1.0v11.40h-1.0zM439.0 248.18h1.0v11.40h-1.0zM442.0 248.18h0.6v11.40h-0.6zM256.0 270.98h12.0v11.40h-12.0zM383.0 270.98h8.0v11.40h-8.0zM416.0 270.98h8.0v11.40h-8.0z"/><path fill="#2d698c" d="M196.0 42.90h1.0v11.40h-1.0zM273.0 42.90h1.0v11.40h-1.0zM277.0 42.90h7.0v11.40h-7.0zM441.0 42.90h1.6v11.40h-1.6zM247.0 191.15h1.0v11.40h-1.0zM283.0 191.15h1.0v11.40h-1.0zM362.0 225.37h3.0v11.40h-3.0zM369.0 225.37h1.0v11.40h-1.0zM439.0 225.37h1.0v11.40h-1.0zM202.0 248.18h6.0v11.40h-6.0zM199.0 270.98h1.0v11.40h-1.0zM303.0 270.98h8.0v11.40h-8.0zM411.0 270.98h1.0v11.40h-1.0zM424.0 270.98h1.0v11.40h-1.0z"/><path fill="#2d738c" d="M212.0 42.90h3.0v11.40h-3.0zM290.0 42.90h1.0v11.40h-1.0zM292.0 42.90h1.0v11.40h-1.0zM335.0 42.90h1.0v11.40h-1.0zM337.0 42.90h1.0v11.40h-1.0zM365.0 42.90h1.0v11.40h-1.0zM368.0 42.90h1.0v11.40h-1.0zM413.0 248.18h1.0v11.40h-1.0z"/><path fill="#b4d22d" d="M250.0 42.90h2.0v11.40h-2.0zM315.0 42.90h2.0v11.40h-2.0zM313.0 168.35h1.0v11.40h-1.0zM216.0 213.96h2.0v11.40h-2.0zM429.0 213.96h2.0v11.40h-2.0z"/><path fill="#32698c" d="M272.0 42.90h1.0v11.40h-1.0zM284.0 42.90h5.0v11.40h-5.0zM324.0 42.90h1.0v11.40h-1.0zM349.0 42.90h1.0v11.40h-1.0zM353.0 42.90h1.0v11.40h-1.0zM357.0 42.90h1.0v11.40h-1.0zM408.0 42.90h11.0v11.40h-11.0zM260.0 99.92h1.0v11.40h-1.0zM240.0 134.13h1.0v11.40h-1.0zM242.0 134.13h1.0v11.40h-1.0zM252.0 134.13h1.0v11.40h-1.0zM254.0 134.13h1.0v11.40h-1.0zM292.0 156.94h2.0v11.40h-2.0zM310.0 156.94h2.0v11.40h-2.0zM315.0 156.94h2.0v11.40h-2.0zM280.0 179.75h1.0v11.40h-1.0zM287.0 179.75h1.0v11.40h-1.0zM344.0 179.75h1.0v11.40h-1.0zM346.0 179.75h1.0v11.40h-1.0zM403.0 179.75h6.0v11.40h-6.0zM248.0 191.15h1.0v11.40h-1.0zM260.0 191.15h9.0v11.40h-9.0zM282.0 191.15h1.0v11.40h-1.0zM287.0 191.15h1.0v11.40h-1.0zM294.0 191.15h1.0v11.40h-1.0zM297.0 191.15h1.0v11.40h-1.0zM304.0 191.15h6.0v11.40h-6.0zM368.0 191.15h2.0v11.40h-2.0zM374.0 191.15h1.0v11.40h-1.0zM385.0 191.15h1.0v11.40h-1.0zM405.0 191.15h2.0v11.40h-2.0zM410.0 191.15h6.0v11.40h-6.0zM234.0 225.37h6.0v11.40h-6.0zM250.0 225.37h4.0v11.40h-4.0zM258.0 225.37h5.0v11.40h-5.0zM276.0 225.37h1.0v11.40h-1.0zM316.0 225.37h1.0v11.40h-1.0zM318.0 225.37h1.0v11.40h-1.0zM349.0 225.37h1.0v11.40h-1.0zM361.0 225.37h1.0v11.40h-1.0zM383.0 225.37h1.0v11.40h-1.0zM438.0 225.37h1.0v11.40h-1.0zM227.0 236.77h1.0v11.40h-1.0zM417.0 236.77h1.0v11.40h-1.0zM197.0 248.18h1.0v11.40h-1.0zM208.0 248.18h1.0v11.40h-1.0zM245.0 248.18h1.0v11.40h-1.0zM248.0 248.18h5.0v11.40h-5.0zM269.0 248.18h1.0v11.40h-1.0zM272.0 248.18h1.0v11.40h-1.0zM275.0 248.18h1.0v11.40h-1.0zM279.0 248.18h1.0v11.40h-1.0zM284.0 248.18h2.0v11.40h-2.0zM304.0 248.18h1.0v11.40h-1.0zM306.0 248.18h1.0v11.40h-1.0zM308.0 248.18h1.0v11.40h-1.0zM311.0 248.18h1.0v11.40h-1.0zM328.0 248.18h4.0v11.40h-4.0zM335.0 248.18h1.0v11.40h-1.0zM337.0 248.18h1.0v11.40h-1.0zM359.0 248.18h2.0v11.40h-2.0zM368.0 248.18h1.0v11.40h-1.0zM373.0 248.18h4.0v11.40h-4.0zM384.0 248.18h2.0v11.40h-2.0zM409.0 248.18h1.0v11.40h-1.0zM414.0 248.18h12.0v11.40h-12.0zM430.0 248.18h5.0v11.40h-5.0zM438.0 248.18h1.0v11.40h-1.0zM198.0 270.98h1.0v11.40h-1.0zM200.0 270.98h1.0v11.40h-1.0zM213.0 270.98h2.0v11.40h-2.0zM219.0 270.98h16.0v11.40h-16.0zM239.0 270.98h7.0v11.40h-7.0zM278.0 270.98h7.0v11.40h-7.0zM295.0 270.98h8.0v11.40h-8.0zM311.0 270.98h11.0v11.40h-11.0zM353.0 270.98h12.0v11.40h-12.0zM374.0 270.98h1.0v11.40h-1.0zM377.0 270.98h1.0v11.40h-1.0zM405.0 270.98h2.0v11.40h-2.0z"/><path fill="#377887" d="M274.0 42.90h1.0v11.40h-1.0zM276.0 42.90h1.0v11.40h-1.0zM393.0 42.90h1.0v11.40h-1.0zM378.0 191.15h1.0v11.40h-1.0zM387.0 191.15h1.0v11.40h-1.0z"/><path fill="#7dc350" d="M275.0 42.90h1.0v11.40h-1.0z"/><path fill="#23968c" d="M291.0 42.90h1.0v11.40h-1.0zM229.0 111.33h1.0v11.40h-1.0zM231.0 111.33h1.0v11.40h-1.0zM230.0 134.13h1.0v11.40h-1.0zM232.0 134.13h1.0v11.40h-1.0zM408.0 134.13h1.0v11.40h-1.0zM309.0 156.94h1.0v11.40h-1.0zM337.0 213.96h1.0v11.40h-1.0zM329.0 236.77h1.0v11.40h-1.0zM331.0 236.77h1.0v11.40h-1.0zM276.0 248.18h1.0v11.40h-1.0zM278.0 248.18h1.0v11.40h-1.0z"/><path fill="#3c7d82" d="M314.0 42.90h1.0v11.40h-1.0zM317.0 42.90h1.0v11.40h-1.0zM362.0 42.90h1.0v11.40h-1.0z"/><path fill="#326e8c" d="M325.0 42.90h1.0v11.40h-1.0zM327.0 42.90h1.0v11.40h-1.0zM354.0 42.90h1.0v11.40h-1.0zM356.0 42.90h1.0v11.40h-1.0zM358.0 42.90h1.0v11.40h-1.0zM314.0 156.94h1.0v11.40h-1.0zM317.0 156.94h1.0v11.40h-1.0zM272.0 191.15h1.0v11.40h-1.0zM276.0 191.15h1.0v11.40h-1.0zM309.0 225.37h1.0v11.40h-1.0zM311.0 225.37h1.0v11.40h-1.0zM387.0 225.37h1.0v11.40h-1.0zM229.0 236.77h1.0v11.40h-1.0z"/><path fill="#4baf73" d="M326.0 42.90h1.0v11.40h-1.0zM333.0 134.13h1.0v11.40h-1.0z"/><path fill="#467382" d="M330.0 42.90h1.0v11.40h-1.0zM248.0 134.13h1.0v11.40h-1.0zM250.0 134.13h1.0v11.40h-1.0z"/><path fill="#23878c" d="M336.0 42.90h1.0v11.40h-1.0zM350.0 42.90h1.0v11.40h-1.0zM352.0 42.90h1.0v11.40h-1.0zM216.0 88.52h1.0v11.40h-1.0zM230.0 88.52h2.0v11.40h-2.0zM359.0 99.92h1.0v11.40h-1.0zM384.0 99.92h1.0v11.40h-1.0zM386.0 99.92h1.0v11.40h-1.0zM241.0 111.33h1.0v11.40h-1.0zM243.0 111.33h1.0v11.40h-1.0zM253.0 111.33h1.0v11.40h-1.0zM255.0 111.33h1.0v11.40h-1.0zM380.0 111.33h1.0v11.40h-1.0zM382.0 111.33h1.0v11.40h-1.0zM430.0 122.73h1.0v11.40h-1.0zM218.0 134.13h2.0v11.40h-2.0zM253.0 134.13h1.0v11.40h-1.0zM257.0 145.54h1.0v11.40h-1.0zM264.0 145.54h1.0v11.40h-1.0zM424.0 145.54h1.0v11.40h-1.0zM210.0 156.94h1.0v11.40h-1.0zM248.0 156.94h1.0v11.40h-1.0zM272.0 156.94h1.0v11.40h-1.0zM290.0 156.94h1.0v11.40h-1.0zM380.0 156.94h1.0v11.40h-1.0zM410.0 156.94h1.0v11.40h-1.0zM254.0 168.35h1.0v11.40h-1.0zM434.0 168.35h1.0v11.40h-1.0zM254.0 202.56h1.0v11.40h-1.0zM433.0 202.56h1.0v11.40h-1.0zM254.0 213.96h1.0v11.40h-1.0zM392.0 236.77h1.0v11.40h-1.0zM414.0 236.77h1.0v11.40h-1.0zM416.0 236.77h1.0v11.40h-1.0zM216.0 259.58h2.0v11.40h-2.0zM392.0 270.98h1.0v11.40h-1.0zM220.0 282.39h1.0v11.40h-1.0zM237.0 282.39h1.0v11.40h-1.0zM381.0 293.79h1.0v11.40h-1.0zM383.0 293.79h1.0v11.40h-1.0zM228.0 305.20h1.0v11.40h-1.0zM252.0 305.20h1.0v11.40h-1.0zM318.0 305.20h2.0v11.40h-2.0zM403.0 305.20h1.0v11.40h-1.0zM405.0 305.20h1.0v11.40h-1.0zM440.0 305.20h1.0v11.40h-1.0z"/><path fill="#37698c" d="M341.0 42.90h1.0v11.40h-1.0zM343.0 42.90h1.0v11.40h-1.0zM383.0 42.90h1.0v11.40h-1.0zM278.0 134.13h1.0v11.40h-1.0zM358.0 134.13h1.0v11.40h-1.0zM360.0 134.13h1.0v11.40h-1.0zM285.0 179.75h1.0v11.40h-1.0zM367.0 179.75h1.0v11.40h-1.0zM372.0 179.75h1.0v11.40h-1.0zM281.0 225.37h1.0v11.40h-1.0zM284.0 225.37h1.0v11.40h-1.0zM209.0 236.77h1.0v11.40h-1.0zM211.0 236.77h1.0v11.40h-1.0zM218.0 236.77h1.0v11.40h-1.0zM222.0 236.77h1.0v11.40h-1.0zM354.0 236.77h1.0v11.40h-1.0zM357.0 236.77h1.0v11.40h-1.0z"/><path fill="#41aa78" d="M342.0 42.90h1.0v11.40h-1.0zM336.0 179.75h1.0v11.40h-1.0zM230.0 191.15h1.0v11.40h-1.0zM356.0 191.15h1.0v11.40h-1.0zM227.0 282.39h1.0v11.40h-1.0z"/><path fill="#238c8c" d="M351.0 42.90h1.0v11.40h-1.0zM436.0 42.90h1.0v11.40h-1.0zM217.0 88.52h2.0v11.40h-2.0zM385.0 99.92h1.0v11.40h-1.0zM401.0 99.92h1.0v11.40h-1.0zM423.0 99.92h1.0v11.40h-1.0zM254.0 111.33h1.0v11.40h-1.0zM199.0 122.73h2.0v11.40h-2.0zM310.0 122.73h1.0v11.40h-1.0zM350.0 122.73h1.0v11.40h-1.0zM330.0 134.13h1.0v11.40h-1.0zM354.0 134.13h1.0v11.40h-1.0zM356.0 134.13h1.0v11.40h-1.0zM236.0 145.54h1.0v11.40h-1.0zM371.0 145.54h2.0v11.40h-2.0zM211.0 156.94h1.0v11.40h-1.0zM230.0 156.94h2.0v11.40h-2.0zM271.0 156.94h1.0v11.40h-1.0zM273.0 156.94h1.0v11.40h-1.0zM349.0 156.94h2.0v11.40h-2.0zM394.0 156.94h1.0v11.40h-1.0zM421.0 156.94h1.0v11.40h-1.0zM257.0 168.35h1.0v11.40h-1.0zM265.0 168.35h1.0v11.40h-1.0zM267.0 168.35h1.0v11.40h-1.0zM341.0 168.35h2.0v11.40h-2.0zM436.0 168.35h1.0v11.40h-1.0zM220.0 179.75h1.0v11.40h-1.0zM295.0 179.75h2.0v11.40h-2.0zM376.0 179.75h1.0v11.40h-1.0zM394.0 179.75h1.0v11.40h-1.0zM295.0 191.15h2.0v11.40h-2.0zM352.0 191.15h2.0v11.40h-2.0zM431.0 202.56h1.0v11.40h-1.0zM440.0 202.56h1.0v11.40h-1.0zM196.0 213.96h1.0v11.40h-1.0zM206.0 213.96h1.0v11.40h-1.0zM350.0 213.96h1.0v11.40h-1.0zM317.0 225.37h1.0v11.40h-1.0zM440.0 225.37h1.0v11.40h-1.0zM234.0 236.77h2.0v11.40h-2.0zM415.0 236.77h1.0v11.40h-1.0zM270.0 248.18h2.0v11.40h-2.0zM305.0 248.18h1.0v11.40h-1.0zM381.0 248.18h1.0v11.40h-1.0zM383.0 248.18h1.0v11.40h-1.0zM246.0 259.58h2.0v11.40h-2.0zM259.0 259.58h1.0v11.40h-1.0zM380.0 259.58h1.0v11.40h-1.0zM382.0 259.58h1.0v11.40h-1.0zM243.0 282.39h1.0v11.40h-1.0zM351.0 293.79h1.0v11.40h-1.0zM251.0 305.20h1.0v11.40h-1.0zM404.0 305.20h1.0v11.40h-1.0zM410.0 305.20h1.0v11.40h-1.0zM412.0 305.20h1.0v11.40h-1.0zM441.0 305.20h1.0v11.40h-1.0z"/><path fill="#3caa78" d="M355.0 42.90h1.0v11.40h-1.0zM219.0 54.30h1.0v11.40h-1.0zM210.0 77.11h1.0v11.40h-1.0zM253.0 293.79h1.0v11.40h-1.0z"/><path fill="#2da582" d="M359.0 42.90h1.0v11.40h-1.0zM305.0 122.73h2.0v11.40h-2.0zM232.0 145.54h1.0v11.40h-1.0zM240.0 145.54h1.0v11.40h-1.0zM349.0 179.75h1.0v11.40h-1.0zM315.0 202.56h1.0v11.40h-1.0zM279.0 213.96h1.0v11.40h-1.0zM404.0 259.58h1.0v11.40h-1.0zM434.0 259.58h1.0v11.40h-1.0zM241.0 305.20h1.0v11.40h-1.0zM334.0 305.20h1.0v11.40h-1.0z"/><path fill="#417882" d="M360.0 42.90h1.0v11.40h-1.0zM399.0 42.90h2.0v11.40h-2.0zM403.0 42.90h1.0v11.40h-1.0zM367.0 191.15h1.0v11.40h-1.0zM324.0 225.37h1.0v11.40h-1.0zM332.0 225.37h1.0v11.40h-1.0zM277.0 270.98h1.0v11.40h-1.0zM285.0 270.98h1.0v11.40h-1.0zM289.0 270.98h1.0v11.40h-1.0zM322.0 270.98h1.0v11.40h-1.0zM412.0 270.98h1.0v11.40h-1.0zM415.0 270.98h1.0v11.40h-1.0z"/><path fill="#a5c837" d="M361.0 42.90h1.0v11.40h-1.0zM439.0 42.90h1.0v11.40h-1.0zM354.0 248.18h1.0v11.40h-1.0zM430.0 270.98h1.0v11.40h-1.0z"/><path fill="#23a582" d="M366.0 42.90h2.0v11.40h-2.0zM336.0 54.30h1.0v11.40h-1.0zM346.0 54.30h1.0v11.40h-1.0zM326.0 65.71h1.0v11.40h-1.0zM340.0 65.71h1.0v11.40h-1.0zM349.0 65.71h1.0v11.40h-1.0zM390.0 65.71h1.0v11.40h-1.0zM394.0 65.71h1.0v11.40h-1.0zM422.0 65.71h1.0v11.40h-1.0zM430.0 65.71h1.0v11.40h-1.0zM217.0 122.73h1.0v11.40h-1.0zM407.0 134.13h1.0v11.40h-1.0zM378.0 168.35h1.0v11.40h-1.0zM365.0 236.77h1.0v11.40h-1.0zM344.0 259.58h1.0v11.40h-1.0zM346.0 259.58h1.0v11.40h-1.0zM410.0 293.79h1.0v11.40h-1.0z"/><path fill="#aac837" d="M373.0 42.90h1.0v11.40h-1.0zM323.0 225.37h1.0v11.40h-1.0zM276.0 270.98h1.0v11.40h-1.0z"/><path fill="#dcd728" d="M376.0 42.90h2.0v11.40h-2.0zM401.0 42.90h2.0v11.40h-2.0zM376.0 99.92h1.0v11.40h-1.0zM270.0 134.13h2.0v11.40h-2.0zM306.0 145.54h2.0v11.40h-2.0zM437.0 179.75h2.0v11.40h-2.0zM272.0 236.77h2.0v11.40h-2.0z"/><path fill="#a0c33c" d="M381.0 42.90h1.0v11.40h-1.0zM431.0 42.90h1.0v11.40h-1.0zM394.0 99.92h1.0v11.40h-1.0zM230.0 179.75h1.0v11.40h-1.0zM258.0 191.15h1.0v11.40h-1.0zM401.0 191.15h1.0v11.40h-1.0zM422.0 213.96h1.0v11.40h-1.0zM343.0 236.77h1.0v11.40h-1.0zM371.0 236.77h1.0v11.40h-1.0zM216.0 282.39h1.0v11.40h-1.0z"/><path fill="#41af73" d="M384.0 42.90h1.0v11.40h-1.0zM214.0 77.11h1.0v11.40h-1.0zM289.0 145.54h2.0v11.40h-2.0zM199.0 259.58h1.0v11.40h-1.0zM232.0 259.58h1.0v11.40h-1.0zM194.0 282.39h1.0v11.40h-1.0zM196.0 282.39h1.0v11.40h-1.0zM295.0 305.20h1.0v11.40h-1.0zM297.0 305.20h1.0v11.40h-1.0z"/><path fill="#87cd4b" d="M386.0 42.90h2.0v11.40h-2.0z"/><path fill="#4b8278" d="M396.0 42.90h1.0v11.40h-1.0z"/><path fill="#d7d723" d="M397.0 42.90h2.0v11.40h-2.0zM427.0 111.33h2.0v11.40h-2.0zM419.0 122.73h2.0v11.40h-2.0z"/><path fill="#32738c" d="M404.0 42.90h1.0v11.40h-1.0zM407.0 42.90h1.0v11.40h-1.0zM282.0 179.75h1.0v11.40h-1.0zM241.0 191.15h1.0v11.40h-1.0zM201.0 248.18h1.0v11.40h-1.0zM377.0 248.18h1.0v11.40h-1.0zM435.0 248.18h1.0v11.40h-1.0zM437.0 248.18h1.0v11.40h-1.0zM410.0 270.98h1.0v11.40h-1.0z"/><path fill="#3cb478" d="M405.0 42.90h2.0v11.40h-2.0zM201.0 179.75h2.0v11.40h-2.0zM283.0 179.75h2.0v11.40h-2.0z"/><path fill="#3c7882" d="M438.0 42.90h1.0v11.40h-1.0zM440.0 42.90h1.0v11.40h-1.0z"/><path fill="#462373" d="M193.0 54.30h7.0v11.40h-7.0zM213.0 54.30h2.0v11.40h-2.0zM232.0 54.30h1.0v11.40h-1.0zM267.0 54.30h2.0v11.40h-2.0zM272.0 54.30h6.0v11.40h-6.0zM283.0 54.30h2.0v11.40h-2.0zM206.0 77.11h1.0v11.40h-1.0zM219.0 77.11h5.0v11.40h-5.0zM287.0 77.11h1.0v11.40h-1.0zM292.0 77.11h1.0v11.40h-1.0zM193.0 156.94h1.0v11.40h-1.0zM234.0 156.94h1.0v11.40h-1.0zM374.0 156.94h1.0v11.40h-1.0zM344.0 293.79h5.0v11.40h-5.0zM364.0 293.79h1.0v11.40h-1.0zM436.0 293.79h2.0v11.40h-2.0zM441.0 293.79h1.6v11.40h-1.6z"/><path fill="#461464" d="M200.0 54.30h1.0v11.40h-1.0zM212.0 54.30h1.0v11.40h-1.0zM309.0 77.11h1.0v11.40h-1.0z"/><path fill="#460f64" d="M201.0 54.30h8.0v11.40h-8.0zM222.0 54.30h7.0v11.40h-7.0zM310.0 77.11h6.0v11.40h-6.0zM320.0 77.11h2.0v11.40h-2.0zM265.0 156.94h3.0v11.40h-3.0z"/><path fill="#411e69" d="M209.0 54.30h1.0v11.40h-1.0zM211.0 54.30h1.0v11.40h-1.0zM229.0 54.30h1.0v11.40h-1.0zM231.0 54.30h1.0v11.40h-1.0z"/><path fill="#287882" d="M210.0 54.30h1.0v11.40h-1.0zM230.0 54.30h1.0v11.40h-1.0zM289.0 65.71h1.0v11.40h-1.0z"/><path fill="#463273" d="M215.0 54.30h1.0v11.40h-1.0zM266.0 54.30h1.0v11.40h-1.0zM269.0 54.30h1.0v11.40h-1.0zM271.0 54.30h1.0v11.40h-1.0zM278.0 54.30h1.0v11.40h-1.0zM282.0 54.30h1.0v11.40h-1.0zM244.0 77.11h1.0v11.40h-1.0zM247.0 77.11h2.0v11.40h-2.0zM286.0 77.11h1.0v11.40h-1.0zM293.0 77.11h1.0v11.40h-1.0zM343.0 293.79h1.0v11.40h-1.0z"/><path fill="#239682" d="M216.0 54.30h2.0v11.40h-2.0zM265.0 54.30h1.0v11.40h-1.0zM419.0 54.30h1.0v11.40h-1.0zM324.0 156.94h1.0v11.40h-1.0zM403.0 156.94h1.0v11.40h-1.0zM386.0 293.79h1.0v11.40h-1.0zM408.0 293.79h1.0v11.40h-1.0zM412.0 293.79h1.0v11.40h-1.0zM424.0 293.79h2.0v11.40h-2.0z"/><path fill="#414178" d="M218.0 54.30h1.0v11.40h-1.0zM219.0 293.79h1.0v11.40h-1.0zM312.0 293.79h1.0v11.40h-1.0z"/><path fill="#3caa73" d="M220.0 54.30h1.0v11.40h-1.0zM416.0 293.79h1.0v11.40h-1.0z"/><path fill="#462364" d="M221.0 54.30h1.0v11.40h-1.0zM316.0 77.11h1.0v11.40h-1.0zM319.0 77.11h1.0v11.40h-1.0z"/><path fill="#462378" d="M233.0 54.30h1.0v11.40h-1.0zM243.0 54.30h1.0v11.40h-1.0zM259.0 77.11h1.0v11.40h-1.0zM308.0 77.11h1.0v11.40h-1.0zM233.0 293.79h1.0v11.40h-1.0zM259.0 293.79h1.0v11.40h-1.0z"/><path fill="#5a376e" d="M234.0 54.30h1.0v11.40h-1.0z"/><path fill="#c8be2d" d="M235.0 54.30h1.0v11.40h-1.0z"/><path fill="#55466e" d="M236.0 54.30h1.0v11.40h-1.0z"/><path fill="#288782" d="M237.0 54.30h1.0v11.40h-1.0zM252.0 54.30h1.0v11.40h-1.0z"/><path fill="#413c78" d="M238.0 54.30h1.0v11.40h-1.0zM240.0 54.30h1.0v11.40h-1.0zM373.0 54.30h1.0v11.40h-1.0zM264.0 77.11h1.0v11.40h-1.0z"/><path fill="#288c82" d="M239.0 54.30h1.0v11.40h-1.0zM272.0 293.79h1.0v11.40h-1.0z"/><path fill="#288787" d="M241.0 54.30h1.0v11.40h-1.0zM230.0 122.73h1.0v11.40h-1.0zM368.0 168.35h1.0v11.40h-1.0zM394.0 168.35h1.0v11.40h-1.0zM401.0 293.79h1.0v11.40h-1.0zM204.0 305.20h1.0v11.40h-1.0z"/><path fill="#463278" d="M242.0 54.30h1.0v11.40h-1.0zM349.0 54.30h2.0v11.40h-2.0zM354.0 65.71h1.0v11.40h-1.0zM256.0 77.11h1.0v11.40h-1.0zM258.0 77.11h1.0v11.40h-1.0zM260.0 77.11h1.0v11.40h-1.0zM267.0 77.11h1.0v11.40h-1.0zM235.0 156.94h1.0v11.40h-1.0zM228.0 293.79h1.0v11.40h-1.0zM232.0 293.79h1.0v11.40h-1.0zM234.0 293.79h1.0v11.40h-1.0zM256.0 293.79h1.0v11.40h-1.0zM258.0 293.79h1.0v11.40h-1.0zM309.0 293.79h1.0v11.40h-1.0zM315.0 293.79h1.0v11.40h-1.0zM331.0 293.79h1.0v11.40h-1.0zM360.0 293.79h1.0v11.40h-1.0zM363.0 293.79h1.0v11.40h-1.0z"/><path fill="#4b3773" d="M244.0 54.30h1.0v11.40h-1.0zM355.0 65.71h1.0v11.40h-1.0zM194.0 77.11h1.0v11.40h-1.0zM272.0 77.11h1.0v11.40h-1.0z"/><path fill="#5faa64" d="M245.0 54.30h1.0v11.40h-1.0z"/><path fill="#4b2d6e" d="M246.0 54.30h1.0v11.40h-1.0zM304.0 54.30h1.0v11.40h-1.0zM307.0 54.30h1.0v11.40h-1.0zM239.0 293.79h1.0v11.40h-1.0z"/><path fill="#461e6e" d="M247.0 54.30h4.0v11.40h-4.0zM285.0 54.30h2.0v11.40h-2.0zM290.0 54.30h1.0v11.40h-1.0zM303.0 54.30h1.0v11.40h-1.0zM308.0 54.30h1.0v11.40h-1.0zM329.0 156.94h2.0v11.40h-2.0zM391.0 293.79h2.0v11.40h-2.0zM406.0 293.79h1.0v11.40h-1.0zM418.0 293.79h5.0v11.40h-5.0zM429.0 293.79h1.0v11.40h-1.0z"/><path fill="#462d73" d="M251.0 54.30h1.0v11.40h-1.0zM302.0 54.30h1.0v11.40h-1.0zM234.0 77.11h1.0v11.40h-1.0zM375.0 156.94h1.0v11.40h-1.0zM365.0 293.79h1.0v11.40h-1.0zM384.0 293.79h2.0v11.40h-2.0zM390.0 293.79h1.0v11.40h-1.0zM407.0 293.79h1.0v11.40h-1.0zM417.0 293.79h1.0v11.40h-1.0zM423.0 293.79h1.0v11.40h-1.0zM428.0 293.79h1.0v11.40h-1.0zM435.0 293.79h1.0v11.40h-1.0zM438.0 293.79h1.0v11.40h-1.0zM440.0 293.79h1.0v11.40h-1.0z"/><path fill="#413773" d="M253.0 54.30h1.0v11.40h-1.0z"/><path fill="#2da07d" d="M254.0 54.30h1.0v11.40h-1.0zM292.0 54.30h2.0v11.40h-2.0zM374.0 54.30h1.0v11.40h-1.0zM353.0 65.71h1.0v11.40h-1.0zM269.0 156.94h1.0v11.40h-1.0zM355.0 156.94h1.0v11.40h-1.0zM268.0 293.79h1.0v11.40h-1.0zM313.0 293.79h2.0v11.40h-2.0zM397.0 293.79h1.0v11.40h-1.0z"/><path fill="#37b978" d="M255.0 54.30h1.0v11.40h-1.0zM342.0 54.30h2.0v11.40h-2.0zM379.0 54.30h2.0v11.40h-2.0zM391.0 54.30h1.0v11.40h-1.0zM398.0 54.30h1.0v11.40h-1.0zM359.0 65.71h2.0v11.40h-2.0zM379.0 65.71h1.0v11.40h-1.0zM407.0 65.71h2.0v11.40h-2.0zM426.0 65.71h1.0v11.40h-1.0zM346.0 77.11h1.0v11.40h-1.0zM348.0 77.11h1.0v11.40h-1.0zM386.0 77.11h2.0v11.40h-2.0zM400.0 77.11h1.0v11.40h-1.0zM422.0 77.11h1.0v11.40h-1.0zM328.0 99.92h1.0v11.40h-1.0zM253.0 145.54h1.0v11.40h-1.0zM271.0 145.54h1.0v11.40h-1.0zM282.0 145.54h2.0v11.40h-2.0zM293.0 145.54h1.0v11.40h-1.0zM365.0 213.96h1.0v11.40h-1.0zM230.0 259.58h1.0v11.40h-1.0zM324.0 282.39h1.0v11.40h-1.0zM242.0 293.79h1.0v11.40h-1.0zM341.0 293.79h1.0v11.40h-1.0zM368.0 293.79h1.0v11.40h-1.0z"/><path fill="#28aa82" d="M256.0 54.30h1.0v11.40h-1.0zM328.0 54.30h1.0v11.40h-1.0zM370.0 54.30h1.0v11.40h-1.0zM388.0 54.30h1.0v11.40h-1.0zM390.0 54.30h1.0v11.40h-1.0zM401.0 54.30h1.0v11.40h-1.0zM330.0 65.71h1.0v11.40h-1.0zM332.0 65.71h1.0v11.40h-1.0zM339.0 65.71h1.0v11.40h-1.0zM389.0 65.71h1.0v11.40h-1.0zM392.0 65.71h1.0v11.40h-1.0zM425.0 65.71h1.0v11.40h-1.0zM440.0 65.71h1.0v11.40h-1.0zM324.0 77.11h1.0v11.40h-1.0zM382.0 77.11h1.0v11.40h-1.0zM389.0 77.11h1.0v11.40h-1.0zM404.0 77.11h2.0v11.40h-2.0zM416.0 77.11h1.0v11.40h-1.0zM433.0 77.11h1.0v11.40h-1.0zM363.0 88.52h1.0v11.40h-1.0zM218.0 122.73h1.0v11.40h-1.0zM250.0 122.73h1.0v11.40h-1.0zM287.0 122.73h1.0v11.40h-1.0zM289.0 134.13h1.0v11.40h-1.0zM246.0 145.54h1.0v11.40h-1.0zM286.0 156.94h1.0v11.40h-1.0zM339.0 156.94h2.0v11.40h-2.0zM435.0 213.96h1.0v11.40h-1.0zM366.0 236.77h1.0v11.40h-1.0zM211.0 259.58h1.0v11.40h-1.0z"/><path fill="#32b47d" d="M257.0 54.30h1.0v11.40h-1.0zM362.0 54.30h1.0v11.40h-1.0zM381.0 54.30h1.0v11.40h-1.0zM423.0 54.30h1.0v11.40h-1.0zM414.0 65.71h2.0v11.40h-2.0zM420.0 65.71h1.0v11.40h-1.0zM213.0 77.11h1.0v11.40h-1.0zM353.0 77.11h2.0v11.40h-2.0zM401.0 77.11h1.0v11.40h-1.0zM411.0 77.11h1.0v11.40h-1.0zM239.0 145.54h1.0v11.40h-1.0zM438.0 156.94h1.0v11.40h-1.0zM377.0 168.35h1.0v11.40h-1.0zM277.0 213.96h1.0v11.40h-1.0zM247.0 225.37h1.0v11.40h-1.0zM373.0 259.58h1.0v11.40h-1.0zM369.0 305.20h1.0v11.40h-1.0z"/><path fill="#32aa78" d="M258.0 54.30h1.0v11.40h-1.0z"/><path fill="#463778" d="M259.0 54.30h1.0v11.40h-1.0zM431.0 54.30h1.0v11.40h-1.0zM442.0 65.71h0.6v11.40h-0.6zM277.0 77.11h1.0v11.40h-1.0zM284.0 77.11h1.0v11.40h-1.0zM296.0 77.11h1.0v11.40h-1.0zM408.0 77.11h2.0v11.40h-2.0zM221.0 293.79h1.0v11.40h-1.0zM251.0 293.79h2.0v11.40h-2.0zM255.0 293.79h1.0v11.40h-1.0zM330.0 293.79h1.0v11.40h-1.0zM359.0 293.79h1.0v11.40h-1.0zM398.0 293.79h1.0v11.40h-1.0zM400.0 293.79h1.0v11.40h-1.0zM402.0 293.79h1.0v11.40h-1.0z"/><path fill="#462878" d="M260.0 54.30h3.0v11.40h-3.0zM195.0 77.11h11.0v11.40h-11.0zM268.0 77.11h4.0v11.40h-4.0zM278.0 77.11h6.0v11.40h-6.0zM297.0 77.11h11.0v11.40h-11.0zM194.0 156.94h1.0v11.40h-1.0zM222.0 293.79h2.0v11.40h-2.0zM307.0 293.79h2.0v11.40h-2.0zM316.0 293.79h1.0v11.40h-1.0zM399.0 293.79h1.0v11.40h-1.0zM403.0 293.79h2.0v11.40h-2.0z"/><path fill="#46377d" d="M263.0 54.30h1.0v11.40h-1.0z"/><path fill="#41a073" d="M270.0 54.30h1.0v11.40h-1.0z"/><path fill="#4bb46e" d="M279.0 54.30h1.0v11.40h-1.0zM281.0 54.30h1.0v11.40h-1.0zM249.0 77.11h1.0v11.40h-1.0zM289.0 77.11h2.0v11.40h-2.0zM325.0 259.58h1.0v11.40h-1.0z"/><path fill="#4bc36e" d="M280.0 54.30h1.0v11.40h-1.0zM334.0 54.30h1.0v11.40h-1.0zM350.0 65.71h1.0v11.40h-1.0zM369.0 65.71h1.0v11.40h-1.0zM400.0 65.71h1.0v11.40h-1.0zM439.0 65.71h1.0v11.40h-1.0zM250.0 77.11h1.0v11.40h-1.0zM332.0 77.11h2.0v11.40h-2.0zM338.0 77.11h2.0v11.40h-2.0zM201.0 259.58h1.0v11.40h-1.0z"/><path fill="#462873" d="M287.0 54.30h1.0v11.40h-1.0zM289.0 54.30h1.0v11.40h-1.0zM328.0 156.94h1.0v11.40h-1.0zM331.0 156.94h1.0v11.40h-1.0z"/><path fill="#287887" d="M288.0 54.30h1.0v11.40h-1.0zM229.0 156.94h1.0v11.40h-1.0zM409.0 156.94h1.0v11.40h-1.0zM434.0 293.79h1.0v11.40h-1.0z"/><path fill="#462d6e" d="M291.0 54.30h1.0v11.40h-1.0zM240.0 293.79h1.0v11.40h-1.0zM393.0 293.79h1.0v11.40h-1.0z"/><path fill="#463c6e" d="M294.0 54.30h1.0v11.40h-1.0zM252.0 77.11h1.0v11.40h-1.0z"/><path fill="#5aa564" d="M295.0 54.30h1.0v11.40h-1.0z"/><path fill="#4b2d69" d="M296.0 54.30h1.0v11.40h-1.0z"/><path fill="#46196e" d="M297.0 54.30h2.0v11.40h-2.0zM207.0 77.11h1.0v11.40h-1.0zM262.0 156.94h3.0v11.40h-3.0zM385.0 156.94h1.0v11.40h-1.0zM193.0 293.79h2.0v11.40h-2.0zM202.0 293.79h1.0v11.40h-1.0zM260.0 293.79h4.0v11.40h-4.0z"/><path fill="#46286e" d="M299.0 54.30h1.0v11.40h-1.0zM261.0 156.94h1.0v11.40h-1.0zM384.0 156.94h1.0v11.40h-1.0zM195.0 293.79h1.0v11.40h-1.0zM201.0 293.79h1.0v11.40h-1.0zM203.0 293.79h1.0v11.40h-1.0zM264.0 293.79h1.0v11.40h-1.0zM266.0 293.79h2.0v11.40h-2.0zM270.0 293.79h2.0v11.40h-2.0zM273.0 293.79h2.0v11.40h-2.0z"/><path fill="#289b82" d="M300.0 54.30h2.0v11.40h-2.0zM372.0 54.30h1.0v11.40h-1.0zM441.0 65.71h1.0v11.40h-1.0zM376.0 156.94h1.0v11.40h-1.0zM205.0 179.75h1.0v11.40h-1.0zM377.0 202.56h1.0v11.40h-1.0zM364.0 282.39h1.0v11.40h-1.0zM216.0 293.79h1.0v11.40h-1.0zM277.0 293.79h1.0v11.40h-1.0zM342.0 293.79h1.0v11.40h-1.0zM370.0 293.79h1.0v11.40h-1.0z"/><path fill="#55b464" d="M305.0 54.30h2.0v11.40h-2.0z"/><path fill="#461969" d="M309.0 54.30h3.0v11.40h-3.0zM319.0 54.30h3.0v11.40h-3.0zM208.0 77.11h1.0v11.40h-1.0zM357.0 156.94h1.0v11.40h-1.0zM386.0 156.94h1.0v11.40h-1.0zM283.0 293.79h1.0v11.40h-1.0z"/><path fill="#46236e" d="M312.0 54.30h1.0v11.40h-1.0zM318.0 54.30h1.0v11.40h-1.0zM358.0 156.94h1.0v11.40h-1.0z"/><path fill="#238c87" d="M313.0 54.30h1.0v11.40h-1.0zM265.0 77.11h2.0v11.40h-2.0zM414.0 122.73h1.0v11.40h-1.0zM440.0 122.73h1.0v11.40h-1.0zM288.0 202.56h1.0v11.40h-1.0zM366.0 202.56h1.0v11.40h-1.0zM196.0 293.79h1.0v11.40h-1.0zM212.0 293.79h1.0v11.40h-1.0zM379.0 305.20h1.0v11.40h-1.0z"/><path fill="#1e968c" d="M314.0 54.30h1.0v11.40h-1.0zM395.0 88.52h1.0v11.40h-1.0zM395.0 111.33h1.0v11.40h-1.0zM425.0 122.73h1.0v11.40h-1.0zM405.0 134.13h1.0v11.40h-1.0zM415.0 134.13h1.0v11.40h-1.0zM208.0 156.94h2.0v11.40h-2.0zM255.0 156.94h2.0v11.40h-2.0zM277.0 156.94h4.0v11.40h-4.0zM266.0 168.35h1.0v11.40h-1.0zM321.0 168.35h1.0v11.40h-1.0zM342.0 179.75h1.0v11.40h-1.0zM362.0 191.15h1.0v11.40h-1.0zM371.0 191.15h2.0v11.40h-2.0zM439.0 202.56h1.0v11.40h-1.0zM442.0 225.37h0.6v11.40h-0.6zM311.0 236.77h1.0v11.40h-1.0zM370.0 248.18h1.0v11.40h-1.0zM248.0 259.58h1.0v11.40h-1.0zM258.0 259.58h1.0v11.40h-1.0zM381.0 259.58h1.0v11.40h-1.0zM375.0 270.98h2.0v11.40h-2.0zM198.0 293.79h1.0v11.40h-1.0zM293.0 293.79h1.0v11.40h-1.0zM333.0 293.79h1.0v11.40h-1.0zM387.0 293.79h1.0v11.40h-1.0zM411.0 305.20h1.0v11.40h-1.0z"/><path fill="#238787" d="M317.0 54.30h1.0v11.40h-1.0zM225.0 65.71h1.0v11.40h-1.0zM401.0 156.94h1.0v11.40h-1.0z"/><path fill="#4b2864" d="M322.0 54.30h1.0v11.40h-1.0z"/><path fill="#5fb964" d="M323.0 54.30h1.0v11.40h-1.0zM408.0 54.30h1.0v11.40h-1.0z"/><path fill="#5ac864" d="M326.0 54.30h1.0v11.40h-1.0zM410.0 54.30h1.0v11.40h-1.0zM435.0 54.30h1.0v11.40h-1.0zM329.0 65.71h1.0v11.40h-1.0zM361.0 65.71h1.0v11.40h-1.0zM385.0 65.71h1.0v11.40h-1.0zM379.0 77.11h1.0v11.40h-1.0zM274.0 88.52h1.0v11.40h-1.0zM309.0 99.92h1.0v11.40h-1.0zM364.0 168.35h1.0v11.40h-1.0zM239.0 191.15h1.0v11.40h-1.0zM396.0 213.96h1.0v11.40h-1.0zM200.0 259.58h1.0v11.40h-1.0z"/><path fill="#55c369" d="M327.0 54.30h1.0v11.40h-1.0zM364.0 54.30h1.0v11.40h-1.0zM386.0 54.30h1.0v11.40h-1.0zM338.0 65.71h1.0v11.40h-1.0zM376.0 65.71h1.0v11.40h-1.0zM410.0 65.71h1.0v11.40h-1.0zM428.0 65.71h1.0v11.40h-1.0zM365.0 77.11h1.0v11.40h-1.0zM381.0 77.11h1.0v11.40h-1.0zM389.0 179.75h1.0v11.40h-1.0zM398.0 202.56h1.0v11.40h-1.0zM250.0 213.96h1.0v11.40h-1.0z"/><path fill="#23aa82" d="M329.0 54.30h3.0v11.40h-3.0zM360.0 54.30h2.0v11.40h-2.0zM389.0 54.30h1.0v11.40h-1.0zM402.0 54.30h1.0v11.40h-1.0zM417.0 54.30h2.0v11.40h-2.0zM341.0 65.71h3.0v11.40h-3.0zM393.0 65.71h1.0v11.40h-1.0zM424.0 65.71h1.0v11.40h-1.0zM211.0 77.11h2.0v11.40h-2.0zM367.0 77.11h1.0v11.40h-1.0zM438.0 77.11h1.0v11.40h-1.0zM288.0 122.73h1.0v11.40h-1.0zM426.0 122.73h2.0v11.40h-2.0zM216.0 145.54h1.0v11.40h-1.0zM316.0 145.54h1.0v11.40h-1.0zM379.0 145.54h1.0v11.40h-1.0zM287.0 156.94h1.0v11.40h-1.0zM296.0 156.94h2.0v11.40h-2.0zM301.0 156.94h2.0v11.40h-2.0zM427.0 156.94h2.0v11.40h-2.0zM442.0 156.94h0.6v11.40h-0.6zM246.0 213.96h1.0v11.40h-1.0zM246.0 225.37h1.0v11.40h-1.0zM356.0 259.58h1.0v11.40h-1.0zM435.0 259.58h1.0v11.40h-1.0zM369.0 293.79h1.0v11.40h-1.0z"/><path fill="#2daf7d" d="M332.0 54.30h1.0v11.40h-1.0zM344.0 54.30h1.0v11.40h-1.0zM384.0 54.30h1.0v11.40h-1.0zM371.0 65.71h1.0v11.40h-1.0zM384.0 65.71h1.0v11.40h-1.0zM406.0 65.71h1.0v11.40h-1.0zM352.0 77.11h1.0v11.40h-1.0zM361.0 77.11h1.0v11.40h-1.0zM364.0 77.11h1.0v11.40h-1.0zM413.0 77.11h1.0v11.40h-1.0zM439.0 77.11h1.0v11.40h-1.0zM330.0 99.92h1.0v11.40h-1.0zM211.0 122.73h1.0v11.40h-1.0zM270.0 145.54h1.0v11.40h-1.0zM294.0 145.54h1.0v11.40h-1.0zM218.0 156.94h1.0v11.40h-1.0zM303.0 156.94h1.0v11.40h-1.0zM306.0 156.94h1.0v11.40h-1.0zM320.0 156.94h1.0v11.40h-1.0zM441.0 156.94h1.0v11.40h-1.0zM289.0 179.75h1.0v11.40h-1.0zM328.0 293.79h1.0v11.40h-1.0zM411.0 293.79h1.0v11.40h-1.0z"/><path fill="#46be6e" d="M333.0 54.30h1.0v11.40h-1.0zM335.0 54.30h1.0v11.40h-1.0zM358.0 54.30h1.0v11.40h-1.0zM368.0 54.30h1.0v11.40h-1.0zM436.0 54.30h1.0v11.40h-1.0zM333.0 65.71h1.0v11.40h-1.0zM370.0 65.71h1.0v11.40h-1.0zM391.0 65.71h1.0v11.40h-1.0zM395.0 65.71h1.0v11.40h-1.0zM436.0 65.71h1.0v11.40h-1.0zM274.0 77.11h1.0v11.40h-1.0zM326.0 77.11h1.0v11.40h-1.0zM331.0 77.11h1.0v11.40h-1.0zM373.0 77.11h2.0v11.40h-2.0zM384.0 77.11h2.0v11.40h-2.0zM424.0 77.11h2.0v11.40h-2.0zM211.0 305.20h1.0v11.40h-1.0z"/><path fill="#414682" d="M338.0 54.30h1.0v11.40h-1.0zM340.0 54.30h1.0v11.40h-1.0zM206.0 168.35h1.0v11.40h-1.0zM208.0 168.35h1.0v11.40h-1.0zM230.0 168.35h1.0v11.40h-1.0zM380.0 168.35h1.0v11.40h-1.0zM393.0 168.35h1.0v11.40h-1.0zM241.0 202.56h1.0v11.40h-1.0zM376.0 202.56h1.0v11.40h-1.0zM227.0 259.58h1.0v11.40h-1.0zM286.0 305.20h1.0v11.40h-1.0z"/><path fill="#463782" d="M339.0 54.30h1.0v11.40h-1.0zM247.0 88.52h3.0v11.40h-3.0zM269.0 88.52h1.0v11.40h-1.0zM282.0 88.52h2.0v11.40h-2.0zM287.0 88.52h1.0v11.40h-1.0zM338.0 88.52h4.0v11.40h-4.0zM373.0 88.52h2.0v11.40h-2.0zM379.0 88.52h2.0v11.40h-2.0zM412.0 88.52h2.0v11.40h-2.0zM193.0 168.35h2.0v11.40h-2.0zM201.0 168.35h1.0v11.40h-1.0zM207.0 168.35h1.0v11.40h-1.0zM294.0 168.35h4.0v11.40h-4.0zM242.0 202.56h2.0v11.40h-2.0zM248.0 202.56h1.0v11.40h-1.0zM282.0 202.56h5.0v11.40h-5.0zM303.0 202.56h4.0v11.40h-4.0zM372.0 202.56h4.0v11.40h-4.0zM391.0 202.56h2.0v11.40h-2.0zM401.0 202.56h5.0v11.40h-5.0zM214.0 259.58h1.0v11.40h-1.0zM234.0 259.58h4.0v11.40h-4.0zM265.0 259.58h6.0v11.40h-6.0zM339.0 259.58h3.0v11.40h-3.0zM378.0 259.58h1.0v11.40h-1.0zM193.0 305.20h9.0v11.40h-9.0zM280.0 305.20h2.0v11.40h-2.0zM414.0 305.20h15.0v11.40h-15.0z"/><path fill="#37aa78" d="M341.0 54.30h1.0v11.40h-1.0zM364.0 213.96h1.0v11.40h-1.0zM228.0 259.58h1.0v11.40h-1.0zM406.0 259.58h1.0v11.40h-1.0zM254.0 293.79h1.0v11.40h-1.0zM329.0 293.79h1.0v11.40h-1.0zM368.0 305.20h1.0v11.40h-1.0z"/><path fill="#4bbe6e" d="M345.0 54.30h1.0v11.40h-1.0zM327.0 65.71h1.0v11.40h-1.0zM390.0 77.11h1.0v11.40h-1.0z"/><path fill="#288c87" d="M351.0 54.30h1.0v11.40h-1.0zM371.0 88.52h1.0v11.40h-1.0zM401.0 88.52h1.0v11.40h-1.0zM292.0 122.73h1.0v11.40h-1.0zM227.0 168.35h1.0v11.40h-1.0zM229.0 168.35h1.0v11.40h-1.0zM263.0 168.35h1.0v11.40h-1.0zM429.0 259.58h1.0v11.40h-1.0z"/><path fill="#2daa7d" d="M354.0 54.30h1.0v11.40h-1.0zM439.0 54.30h1.0v11.40h-1.0zM332.0 111.33h2.0v11.40h-2.0zM371.0 111.33h1.0v11.40h-1.0zM288.0 134.13h1.0v11.40h-1.0zM318.0 156.94h1.0v11.40h-1.0zM288.0 179.75h1.0v11.40h-1.0zM290.0 179.75h1.0v11.40h-1.0z"/><path fill="#2db47d" d="M355.0 54.30h2.0v11.40h-2.0zM382.0 54.30h1.0v11.40h-1.0zM350.0 77.11h1.0v11.40h-1.0zM402.0 77.11h2.0v11.40h-2.0zM412.0 77.11h1.0v11.40h-1.0zM440.0 77.11h2.0v11.40h-2.0zM301.0 88.52h1.0v11.40h-1.0zM313.0 134.13h1.0v11.40h-1.0zM314.0 145.54h1.0v11.40h-1.0zM282.0 156.94h3.0v11.40h-3.0zM304.0 156.94h2.0v11.40h-2.0zM319.0 156.94h1.0v11.40h-1.0zM278.0 213.96h1.0v11.40h-1.0zM436.0 213.96h1.0v11.40h-1.0zM229.0 259.58h1.0v11.40h-1.0zM372.0 259.58h1.0v11.40h-1.0zM243.0 293.79h1.0v11.40h-1.0z"/><path fill="#46be73" d="M357.0 54.30h1.0v11.40h-1.0z"/><path fill="#28af82" d="M359.0 54.30h1.0v11.40h-1.0zM383.0 54.30h1.0v11.40h-1.0zM403.0 54.30h2.0v11.40h-2.0zM237.0 65.71h1.0v11.40h-1.0zM382.0 65.71h2.0v11.40h-2.0zM329.0 77.11h1.0v11.40h-1.0zM362.0 77.11h2.0v11.40h-2.0zM368.0 77.11h1.0v11.40h-1.0zM365.0 88.52h1.0v11.40h-1.0zM258.0 99.92h1.0v11.40h-1.0zM356.0 99.92h1.0v11.40h-1.0zM385.0 111.33h2.0v11.40h-2.0zM291.0 134.13h1.0v11.40h-1.0zM312.0 134.13h1.0v11.40h-1.0zM245.0 145.54h1.0v11.40h-1.0zM295.0 145.54h1.0v11.40h-1.0zM323.0 145.54h1.0v11.40h-1.0zM285.0 156.94h1.0v11.40h-1.0zM352.0 156.94h1.0v11.40h-1.0zM217.0 191.15h1.0v11.40h-1.0zM274.0 191.15h1.0v11.40h-1.0zM437.0 213.96h1.0v11.40h-1.0zM371.0 259.58h1.0v11.40h-1.0zM303.0 293.79h1.0v11.40h-1.0zM327.0 293.79h1.0v11.40h-1.0zM395.0 293.79h1.0v11.40h-1.0zM370.0 305.20h1.0v11.40h-1.0z"/><path fill="#32a07d" d="M365.0 54.30h1.0v11.40h-1.0zM236.0 111.33h1.0v11.40h-1.0zM257.0 179.75h1.0v11.40h-1.0zM335.0 213.96h1.0v11.40h-1.0zM392.0 213.96h1.0v11.40h-1.0z"/><path fill="#464173" d="M366.0 54.30h1.0v11.40h-1.0zM245.0 293.79h1.0v11.40h-1.0z"/><path fill="#46af73" d="M367.0 54.30h1.0v11.40h-1.0zM372.0 77.11h1.0v11.40h-1.0zM407.0 77.11h1.0v11.40h-1.0zM410.0 77.11h1.0v11.40h-1.0zM359.0 134.13h1.0v11.40h-1.0zM371.0 179.75h1.0v11.40h-1.0zM376.0 236.77h1.0v11.40h-1.0zM295.0 248.18h1.0v11.40h-1.0z"/><path fill="#50c369" d="M369.0 54.30h1.0v11.40h-1.0zM378.0 54.30h1.0v11.40h-1.0zM385.0 54.30h1.0v11.40h-1.0zM387.0 54.30h1.0v11.40h-1.0zM424.0 54.30h1.0v11.40h-1.0zM357.0 65.71h2.0v11.40h-2.0zM399.0 65.71h1.0v11.40h-1.0zM401.0 65.71h2.0v11.40h-2.0zM409.0 65.71h1.0v11.40h-1.0zM429.0 65.71h1.0v11.40h-1.0zM437.0 65.71h2.0v11.40h-2.0zM275.0 77.11h1.0v11.40h-1.0zM337.0 77.11h1.0v11.40h-1.0zM349.0 77.11h1.0v11.40h-1.0zM356.0 77.11h1.0v11.40h-1.0zM378.0 77.11h1.0v11.40h-1.0zM324.0 259.58h1.0v11.40h-1.0z"/><path fill="#3cb973" d="M375.0 54.30h1.0v11.40h-1.0zM335.0 65.71h1.0v11.40h-1.0zM337.0 65.71h1.0v11.40h-1.0zM380.0 65.71h2.0v11.40h-2.0zM421.0 65.71h1.0v11.40h-1.0zM369.0 77.11h1.0v11.40h-1.0zM397.0 77.11h1.0v11.40h-1.0zM326.0 88.52h1.0v11.40h-1.0zM258.0 202.56h1.0v11.40h-1.0zM405.0 259.58h1.0v11.40h-1.0z"/><path fill="#41be73" d="M376.0 54.30h2.0v11.40h-2.0zM258.0 65.71h1.0v11.40h-1.0zM351.0 65.71h1.0v11.40h-1.0zM377.0 65.71h1.0v11.40h-1.0zM325.0 77.11h1.0v11.40h-1.0zM327.0 77.11h1.0v11.40h-1.0zM383.0 77.11h1.0v11.40h-1.0zM398.0 77.11h1.0v11.40h-1.0zM329.0 99.92h1.0v11.40h-1.0zM274.0 111.33h1.0v11.40h-1.0zM228.0 145.54h1.0v11.40h-1.0zM195.0 282.39h1.0v11.40h-1.0zM340.0 293.79h1.0v11.40h-1.0zM296.0 305.20h1.0v11.40h-1.0z"/><path fill="#37af78" d="M392.0 54.30h1.0v11.40h-1.0zM323.0 111.33h2.0v11.40h-2.0zM212.0 122.73h1.0v11.40h-1.0zM350.0 134.13h2.0v11.40h-2.0zM252.0 145.54h1.0v11.40h-1.0zM254.0 145.54h1.0v11.40h-1.0zM232.0 202.56h2.0v11.40h-2.0zM366.0 213.96h1.0v11.40h-1.0zM384.0 213.96h2.0v11.40h-2.0zM434.0 213.96h1.0v11.40h-1.0zM438.0 213.96h1.0v11.40h-1.0zM290.0 259.58h1.0v11.40h-1.0zM242.0 305.20h1.0v11.40h-1.0z"/><path fill="#3c4b87" d="M394.0 54.30h1.0v11.40h-1.0zM221.0 88.52h1.0v11.40h-1.0zM235.0 88.52h1.0v11.40h-1.0zM237.0 88.52h1.0v11.40h-1.0zM260.0 88.52h1.0v11.40h-1.0zM263.0 88.52h1.0v11.40h-1.0zM349.0 88.52h1.0v11.40h-1.0zM351.0 88.52h1.0v11.40h-1.0zM383.0 88.52h1.0v11.40h-1.0zM393.0 88.52h1.0v11.40h-1.0zM416.0 88.52h1.0v11.40h-1.0zM421.0 88.52h1.0v11.40h-1.0zM425.0 88.52h1.0v11.40h-1.0zM193.0 111.33h6.0v11.40h-6.0zM392.0 111.33h1.0v11.40h-1.0zM414.0 111.33h2.0v11.40h-2.0zM421.0 111.33h5.0v11.40h-5.0zM201.0 122.73h1.0v11.40h-1.0zM229.0 122.73h1.0v11.40h-1.0zM264.0 122.73h6.0v11.40h-6.0zM279.0 122.73h1.0v11.40h-1.0zM282.0 122.73h1.0v11.40h-1.0zM316.0 122.73h1.0v11.40h-1.0zM322.0 122.73h1.0v11.40h-1.0zM324.0 122.73h1.0v11.40h-1.0zM356.0 122.73h2.0v11.40h-2.0zM373.0 122.73h1.0v11.40h-1.0zM383.0 122.73h1.0v11.40h-1.0zM392.0 122.73h1.0v11.40h-1.0zM396.0 122.73h1.0v11.40h-1.0zM409.0 122.73h4.0v11.40h-4.0zM416.0 122.73h2.0v11.40h-2.0zM285.0 145.54h1.0v11.40h-1.0zM298.0 145.54h1.0v11.40h-1.0zM309.0 145.54h1.0v11.40h-1.0zM311.0 145.54h1.0v11.40h-1.0zM333.0 145.54h1.0v11.40h-1.0zM365.0 145.54h1.0v11.40h-1.0zM374.0 145.54h3.0v11.40h-3.0zM417.0 145.54h1.0v11.40h-1.0zM195.0 156.94h2.0v11.40h-2.0zM251.0 156.94h1.0v11.40h-1.0zM379.0 156.94h1.0v11.40h-1.0zM235.0 168.35h1.0v11.40h-1.0zM276.0 168.35h1.0v11.40h-1.0zM395.0 168.35h2.0v11.40h-2.0zM399.0 168.35h1.0v11.40h-1.0zM441.0 168.35h1.0v11.40h-1.0zM207.0 202.56h1.0v11.40h-1.0zM253.0 202.56h1.0v11.40h-1.0zM255.0 202.56h1.0v11.40h-1.0zM301.0 202.56h1.0v11.40h-1.0zM309.0 202.56h3.0v11.40h-3.0zM321.0 202.56h1.0v11.40h-1.0zM344.0 202.56h5.0v11.40h-5.0zM352.0 202.56h5.0v11.40h-5.0zM365.0 202.56h1.0v11.40h-1.0zM370.0 202.56h1.0v11.40h-1.0zM382.0 202.56h1.0v11.40h-1.0zM389.0 202.56h1.0v11.40h-1.0zM222.0 213.96h2.0v11.40h-2.0zM342.0 213.96h7.0v11.40h-7.0zM221.0 259.58h1.0v11.40h-1.0zM262.0 259.58h1.0v11.40h-1.0zM299.0 259.58h9.0v11.40h-9.0zM328.0 259.58h1.0v11.40h-1.0zM332.0 259.58h1.0v11.40h-1.0zM364.0 259.58h1.0v11.40h-1.0zM368.0 259.58h1.0v11.40h-1.0zM386.0 259.58h4.0v11.40h-4.0zM393.0 259.58h2.0v11.40h-2.0zM403.0 259.58h1.0v11.40h-1.0zM396.0 282.39h7.0v11.40h-7.0zM220.0 305.20h7.0v11.40h-7.0zM244.0 305.20h2.0v11.40h-2.0zM249.0 305.20h1.0v11.40h-1.0zM317.0 305.20h1.0v11.40h-1.0zM320.0 305.20h1.0v11.40h-1.0zM341.0 305.20h3.0v11.40h-3.0z"/><path fill="#32aa7d" d="M396.0 54.30h1.0v11.40h-1.0zM412.0 54.30h1.0v11.40h-1.0zM300.0 88.52h1.0v11.40h-1.0zM302.0 88.52h1.0v11.40h-1.0zM388.0 111.33h1.0v11.40h-1.0zM289.0 122.73h1.0v11.40h-1.0zM292.0 145.54h1.0v11.40h-1.0zM296.0 145.54h1.0v11.40h-1.0zM313.0 145.54h1.0v11.40h-1.0zM322.0 145.54h1.0v11.40h-1.0zM386.0 145.54h2.0v11.40h-2.0zM428.0 145.54h1.0v11.40h-1.0zM225.0 156.94h1.0v11.40h-1.0zM289.0 168.35h1.0v11.40h-1.0zM291.0 168.35h1.0v11.40h-1.0zM376.0 168.35h1.0v11.40h-1.0zM379.0 202.56h1.0v11.40h-1.0zM401.0 236.77h1.0v11.40h-1.0zM323.0 259.58h1.0v11.40h-1.0zM287.0 305.20h2.0v11.40h-2.0zM390.0 305.20h2.0v11.40h-2.0z"/><path fill="#32b478" d="M397.0 54.30h1.0v11.40h-1.0zM411.0 54.30h1.0v11.40h-1.0zM330.0 77.11h1.0v11.40h-1.0zM347.0 77.11h1.0v11.40h-1.0zM388.0 77.11h1.0v11.40h-1.0zM421.0 77.11h1.0v11.40h-1.0zM435.0 122.73h1.0v11.40h-1.0zM311.0 134.13h1.0v11.40h-1.0zM315.0 145.54h1.0v11.40h-1.0zM440.0 156.94h1.0v11.40h-1.0zM290.0 168.35h1.0v11.40h-1.0zM217.0 179.75h1.0v11.40h-1.0zM378.0 202.56h1.0v11.40h-1.0zM199.0 248.18h1.0v11.40h-1.0zM326.0 293.79h1.0v11.40h-1.0zM367.0 293.79h1.0v11.40h-1.0z"/><path fill="#64c85f" d="M399.0 54.30h1.0v11.40h-1.0zM440.0 54.30h1.0v11.40h-1.0zM363.0 65.71h1.0v11.40h-1.0zM388.0 65.71h1.0v11.40h-1.0zM413.0 65.71h1.0v11.40h-1.0zM419.0 65.71h1.0v11.40h-1.0zM345.0 77.11h1.0v11.40h-1.0zM417.0 77.11h1.0v11.40h-1.0z"/><path fill="#5fc85f" d="M400.0 54.30h1.0v11.40h-1.0zM409.0 54.30h1.0v11.40h-1.0zM429.0 54.30h1.0v11.40h-1.0zM437.0 54.30h1.0v11.40h-1.0zM362.0 65.71h1.0v11.40h-1.0zM375.0 65.71h1.0v11.40h-1.0zM416.0 65.71h1.0v11.40h-1.0zM334.0 77.11h1.0v11.40h-1.0zM336.0 77.11h1.0v11.40h-1.0zM344.0 77.11h1.0v11.40h-1.0zM360.0 77.11h1.0v11.40h-1.0zM393.0 77.11h1.0v11.40h-1.0zM439.0 156.94h1.0v11.40h-1.0zM258.0 213.96h1.0v11.40h-1.0z"/><path fill="#463c7d" d="M406.0 54.30h1.0v11.40h-1.0zM205.0 293.79h1.0v11.40h-1.0z"/><path fill="#4b3c78" d="M407.0 54.30h1.0v11.40h-1.0zM432.0 54.30h1.0v11.40h-1.0zM286.0 293.79h1.0v11.40h-1.0z"/><path fill="#41326e" d="M420.0 54.30h1.0v11.40h-1.0zM402.0 156.94h1.0v11.40h-1.0z"/><path fill="#55c864" d="M426.0 54.30h1.0v11.40h-1.0zM411.0 65.71h1.0v11.40h-1.0z"/><path fill="#64cd5f" d="M427.0 54.30h2.0v11.40h-2.0zM364.0 65.71h1.0v11.40h-1.0zM335.0 77.11h1.0v11.40h-1.0zM359.0 77.11h1.0v11.40h-1.0z"/><path fill="#32a578" d="M430.0 54.30h1.0v11.40h-1.0zM317.0 77.11h2.0v11.40h-2.0zM420.0 77.11h1.0v11.40h-1.0zM269.0 293.79h1.0v11.40h-1.0z"/><path fill="#5ab964" d="M433.0 54.30h1.0v11.40h-1.0zM216.0 77.11h2.0v11.40h-2.0zM273.0 88.52h1.0v11.40h-1.0zM310.0 88.52h1.0v11.40h-1.0zM253.0 122.73h2.0v11.40h-2.0zM348.0 168.35h1.0v11.40h-1.0zM363.0 168.35h1.0v11.40h-1.0zM365.0 168.35h1.0v11.40h-1.0z"/><path fill="#5fc864" d="M434.0 54.30h1.0v11.40h-1.0zM438.0 54.30h1.0v11.40h-1.0zM358.0 77.11h1.0v11.40h-1.0zM380.0 77.11h1.0v11.40h-1.0zM394.0 77.11h1.0v11.40h-1.0zM311.0 88.52h1.0v11.40h-1.0zM293.0 99.92h1.0v11.40h-1.0zM396.0 191.15h1.0v11.40h-1.0z"/><path fill="#6ecd5a" d="M441.0 54.30h1.6v11.40h-1.6zM387.0 65.71h1.0v11.40h-1.0zM418.0 65.71h1.0v11.40h-1.0z"/><path fill="#21918c" d="M78.0 65.71h1.6v11.40h-1.6zM88.8 65.71h1.6v11.40h-1.6zM179.2 65.71h1.6v11.40h-1.6zM37.4 88.52h1.6v11.40h-1.6zM105.8 88.52h1.6v11.40h-1.6zM177.2 88.52h1.6v11.40h-1.6zM96.4 99.92h1.6v11.40h-1.6zM109.2 99.92h1.6v11.40h-1.6zM116.9 99.92h1.6v11.40h-1.6zM132.6 99.92h1.6v11.40h-1.6zM168.0 99.92h1.6v11.40h-1.6zM18.5 145.54h1.6v11.40h-1.6zM46.8 168.35h1.6v11.40h-1.6zM179.2 168.35h1.6v11.40h-1.6zM127.7 179.75h1.6v11.40h-1.6zM30.7 259.58h1.6v11.40h-1.6zM68.7 259.58h1.6v11.40h-1.6zM149.6 293.79h1.6v11.40h-1.6z"/><path fill="#460055" d="M193.0 65.71h1.0v11.40h-1.0zM197.0 65.71h1.0v11.40h-1.0zM231.0 65.71h4.0v11.40h-4.0zM243.0 65.71h9.0v11.40h-9.0zM268.0 65.71h1.0v11.40h-1.0zM276.0 65.71h2.0v11.40h-2.0zM281.0 65.71h1.0v11.40h-1.0zM286.0 65.71h2.0v11.40h-2.0zM299.0 65.71h10.0v11.40h-10.0z"/><path fill="#461455" d="M194.0 65.71h1.0v11.40h-1.0zM196.0 65.71h1.0v11.40h-1.0zM213.0 65.71h1.0v11.40h-1.0zM269.0 65.71h1.0v11.40h-1.0zM272.0 65.71h2.0v11.40h-2.0zM275.0 65.71h1.0v11.40h-1.0z"/><path fill="#4b9b69" d="M195.0 65.71h1.0v11.40h-1.0zM253.0 65.71h1.0v11.40h-1.0z"/><path fill="#460a5a" d="M198.0 65.71h1.0v11.40h-1.0zM217.0 65.71h1.0v11.40h-1.0zM198.0 156.94h2.0v11.40h-2.0z"/><path fill="#460a5f" d="M199.0 65.71h10.0v11.40h-10.0zM221.0 65.71h3.0v11.40h-3.0zM298.0 65.71h1.0v11.40h-1.0zM387.0 156.94h3.0v11.40h-3.0z"/><path fill="#41195f" d="M209.0 65.71h1.0v11.40h-1.0zM218.0 65.71h1.0v11.40h-1.0zM220.0 65.71h1.0v11.40h-1.0zM200.0 156.94h1.0v11.40h-1.0zM390.0 156.94h1.0v11.40h-1.0z"/><path fill="#2d8c78" d="M210.0 65.71h1.0v11.40h-1.0z"/><path fill="#46285a" d="M211.0 65.71h1.0v11.40h-1.0z"/><path fill="#55a05f" d="M212.0 65.71h1.0v11.40h-1.0z"/><path fill="#411455" d="M214.0 65.71h1.0v11.40h-1.0z"/><path fill="#3c966e" d="M215.0 65.71h1.0v11.40h-1.0z"/><path fill="#41145a" d="M216.0 65.71h1.0v11.40h-1.0zM235.0 65.71h1.0v11.40h-1.0zM239.0 65.71h1.0v11.40h-1.0zM322.0 65.71h1.0v11.40h-1.0zM220.0 156.94h1.0v11.40h-1.0zM347.0 156.94h1.0v11.40h-1.0zM407.0 156.94h1.0v11.40h-1.0z"/><path fill="#288282" d="M219.0 65.71h1.0v11.40h-1.0z"/><path fill="#411964" d="M224.0 65.71h1.0v11.40h-1.0zM293.0 65.71h1.0v11.40h-1.0z"/><path fill="#238c82" d="M229.0 65.71h1.0v11.40h-1.0zM264.0 65.71h1.0v11.40h-1.0zM266.0 65.71h1.0v11.40h-1.0zM283.0 65.71h2.0v11.40h-2.0zM406.0 156.94h1.0v11.40h-1.0z"/><path fill="#410f5a" d="M230.0 65.71h1.0v11.40h-1.0zM240.0 65.71h1.0v11.40h-1.0zM242.0 65.71h1.0v11.40h-1.0zM267.0 65.71h1.0v11.40h-1.0zM278.0 65.71h1.0v11.40h-1.0zM280.0 65.71h1.0v11.40h-1.0zM282.0 65.71h1.0v11.40h-1.0zM285.0 65.71h1.0v11.40h-1.0zM288.0 65.71h1.0v11.40h-1.0z"/><path fill="#2d9b7d" d="M236.0 65.71h1.0v11.40h-1.0zM238.0 65.71h1.0v11.40h-1.0zM275.0 293.79h1.0v11.40h-1.0z"/><path fill="#287d7d" d="M241.0 65.71h1.0v11.40h-1.0z"/><path fill="#46145a" d="M252.0 65.71h1.0v11.40h-1.0zM254.0 65.71h1.0v11.40h-1.0z"/><path fill="#460555" d="M255.0 65.71h1.0v11.40h-1.0z"/><path fill="#46195a" d="M256.0 65.71h1.0v11.40h-1.0zM260.0 65.71h1.0v11.40h-1.0z"/><path fill="#41aa73" d="M257.0 65.71h1.0v11.40h-1.0zM259.0 65.71h1.0v11.40h-1.0zM241.0 293.79h1.0v11.40h-1.0z"/><path fill="#46055a" d="M261.0 65.71h2.0v11.40h-2.0zM309.0 65.71h3.0v11.40h-3.0zM320.0 65.71h2.0v11.40h-2.0zM221.0 156.94h2.0v11.40h-2.0zM345.0 156.94h2.0v11.40h-2.0z"/><path fill="#41145f" d="M263.0 65.71h1.0v11.40h-1.0zM312.0 65.71h1.0v11.40h-1.0zM344.0 156.94h1.0v11.40h-1.0z"/><path fill="#50af69" d="M270.0 65.71h2.0v11.40h-2.0z"/><path fill="#419669" d="M274.0 65.71h1.0v11.40h-1.0z"/><path fill="#28827d" d="M279.0 65.71h1.0v11.40h-1.0z"/><path fill="#3c1e5f" d="M290.0 65.71h1.0v11.40h-1.0z"/><path fill="#238287" d="M291.0 65.71h2.0v11.40h-2.0zM383.0 156.94h1.0v11.40h-1.0z"/><path fill="#460f5f" d="M294.0 65.71h4.0v11.40h-4.0zM197.0 156.94h1.0v11.40h-1.0z"/><path fill="#287382" d="M313.0 65.71h1.0v11.40h-1.0z"/><path fill="#3c2364" d="M314.0 65.71h1.0v11.40h-1.0zM325.0 156.94h1.0v11.40h-1.0z"/><path fill="#28877d" d="M315.0 65.71h1.0v11.40h-1.0z"/><path fill="#4b285a" d="M316.0 65.71h1.0v11.40h-1.0z"/><path fill="#87c346" d="M317.0 65.71h2.0v11.40h-2.0zM431.0 293.79h2.0v11.40h-2.0z"/><path fill="#4b1955" d="M319.0 65.71h1.0v11.40h-1.0z"/><path fill="#32a078" d="M323.0 65.71h1.0v11.40h-1.0z"/><path fill="#1ea587" d="M325.0 65.71h1.0v11.40h-1.0zM348.0 65.71h1.0v11.40h-1.0zM372.0 65.71h1.0v11.40h-1.0zM415.0 77.11h1.0v11.40h-1.0zM431.0 77.11h1.0v11.40h-1.0zM434.0 77.11h1.0v11.40h-1.0zM437.0 77.11h1.0v11.40h-1.0zM203.0 156.94h1.0v11.40h-1.0zM226.0 156.94h1.0v11.40h-1.0zM238.0 156.94h1.0v11.40h-1.0zM415.0 156.94h1.0v11.40h-1.0zM426.0 156.94h1.0v11.40h-1.0zM254.0 191.15h1.0v11.40h-1.0zM357.0 225.37h2.0v11.40h-2.0zM213.0 293.79h1.0v11.40h-1.0zM215.0 293.79h1.0v11.40h-1.0z"/><path fill="#37b478" d="M328.0 65.71h1.0v11.40h-1.0zM340.0 77.11h1.0v11.40h-1.0zM355.0 77.11h1.0v11.40h-1.0zM392.0 77.11h1.0v11.40h-1.0z"/><path fill="#46c36e" d="M334.0 65.71h1.0v11.40h-1.0zM378.0 65.71h1.0v11.40h-1.0zM375.0 77.11h2.0v11.40h-2.0zM426.0 77.11h1.0v11.40h-1.0zM372.0 168.35h1.0v11.40h-1.0zM220.0 236.77h1.0v11.40h-1.0zM247.0 293.79h1.0v11.40h-1.0z"/><path fill="#3cbe73" d="M345.0 65.71h1.0v11.40h-1.0zM352.0 65.71h1.0v11.40h-1.0zM399.0 77.11h1.0v11.40h-1.0z"/><path fill="#50b469" d="M356.0 65.71h1.0v11.40h-1.0zM193.0 77.11h1.0v11.40h-1.0zM228.0 77.11h2.0v11.40h-2.0zM273.0 77.11h1.0v11.40h-1.0z"/><path fill="#5fb95f" d="M365.0 65.71h1.0v11.40h-1.0z"/><path fill="#4b2869" d="M366.0 65.71h1.0v11.40h-1.0zM284.0 293.79h1.0v11.40h-1.0z"/><path fill="#462869" d="M367.0 65.71h1.0v11.40h-1.0zM209.0 77.11h1.0v11.40h-1.0zM356.0 156.94h1.0v11.40h-1.0z"/><path fill="#4baf6e" d="M368.0 65.71h1.0v11.40h-1.0zM251.0 77.11h1.0v11.40h-1.0zM278.0 236.77h1.0v11.40h-1.0z"/><path fill="#28a582" d="M374.0 65.71h1.0v11.40h-1.0zM343.0 77.11h1.0v11.40h-1.0zM391.0 77.11h1.0v11.40h-1.0zM395.0 77.11h1.0v11.40h-1.0zM257.0 99.92h1.0v11.40h-1.0zM259.0 99.92h1.0v11.40h-1.0zM278.0 99.92h1.0v11.40h-1.0zM355.0 99.92h1.0v11.40h-1.0zM357.0 99.92h1.0v11.40h-1.0zM310.0 134.13h1.0v11.40h-1.0zM391.0 134.13h2.0v11.40h-2.0zM238.0 145.54h1.0v11.40h-1.0zM240.0 156.94h1.0v11.40h-1.0zM312.0 156.94h2.0v11.40h-2.0zM210.0 168.35h1.0v11.40h-1.0zM216.0 191.15h1.0v11.40h-1.0zM218.0 191.15h1.0v11.40h-1.0zM273.0 191.15h1.0v11.40h-1.0zM275.0 191.15h1.0v11.40h-1.0zM276.0 213.96h1.0v11.40h-1.0zM230.0 236.77h2.0v11.40h-2.0zM367.0 236.77h1.0v11.40h-1.0zM410.0 248.18h1.0v11.40h-1.0zM412.0 248.18h1.0v11.40h-1.0zM370.0 259.58h1.0v11.40h-1.0z"/><path fill="#69cd5a" d="M386.0 65.71h1.0v11.40h-1.0zM397.0 65.71h2.0v11.40h-2.0zM412.0 65.71h1.0v11.40h-1.0zM417.0 65.71h1.0v11.40h-1.0z"/><path fill="#4bc369" d="M396.0 65.71h1.0v11.40h-1.0zM403.0 65.71h1.0v11.40h-1.0zM377.0 77.11h1.0v11.40h-1.0zM423.0 77.11h1.0v11.40h-1.0zM415.0 293.79h1.0v11.40h-1.0z"/><path fill="#28af7d" d="M404.0 65.71h1.0v11.40h-1.0zM328.0 77.11h1.0v11.40h-1.0zM351.0 77.11h1.0v11.40h-1.0zM366.0 77.11h1.0v11.40h-1.0zM279.0 99.92h1.0v11.40h-1.0zM237.0 122.73h1.0v11.40h-1.0zM353.0 156.94h2.0v11.40h-2.0zM348.0 179.75h1.0v11.40h-1.0zM231.0 259.58h1.0v11.40h-1.0zM396.0 293.79h1.0v11.40h-1.0z"/><path fill="#41b973" d="M435.0 65.71h1.0v11.40h-1.0z"/><path fill="#4b4173" d="M215.0 77.11h1.0v11.40h-1.0z"/><path fill="#4b3273" d="M218.0 77.11h1.0v11.40h-1.0zM227.0 77.11h1.0v11.40h-1.0zM230.0 77.11h1.0v11.40h-1.0zM288.0 77.11h1.0v11.40h-1.0zM291.0 77.11h1.0v11.40h-1.0z"/><path fill="#461e73" d="M224.0 77.11h3.0v11.40h-3.0zM231.0 77.11h3.0v11.40h-3.0zM405.0 293.79h1.0v11.40h-1.0z"/><path fill="#2d917d" d="M235.0 77.11h1.0v11.40h-1.0z"/><path fill="#504169" d="M236.0 77.11h1.0v11.40h-1.0z"/><path fill="#b4b92d" d="M237.0 77.11h1.0v11.40h-1.0z"/><path fill="#50375f" d="M238.0 77.11h1.0v11.40h-1.0zM240.0 77.11h1.0v11.40h-1.0z"/><path fill="#329178" d="M239.0 77.11h1.0v11.40h-1.0z"/><path fill="#b4cd28" d="M241.0 77.11h1.0v11.40h-1.0z"/><path fill="#b4cd2d" d="M242.0 77.11h1.0v11.40h-1.0zM314.0 168.35h1.0v11.40h-1.0z"/><path fill="#55376e" d="M243.0 77.11h1.0v11.40h-1.0zM317.0 293.79h1.0v11.40h-1.0z"/><path fill="#46af6e" d="M245.0 77.11h2.0v11.40h-2.0zM253.0 77.11h2.0v11.40h-2.0zM276.0 77.11h1.0v11.40h-1.0zM294.0 77.11h2.0v11.40h-2.0zM246.0 293.79h1.0v11.40h-1.0zM248.0 293.79h1.0v11.40h-1.0z"/><path fill="#463773" d="M255.0 77.11h1.0v11.40h-1.0z"/><path fill="#288287" d="M257.0 77.11h1.0v11.40h-1.0zM323.0 77.11h1.0v11.40h-1.0zM260.0 156.94h1.0v11.40h-1.0zM257.0 293.79h1.0v11.40h-1.0zM297.0 293.79h1.0v11.40h-1.0zM354.0 293.79h1.0v11.40h-1.0zM439.0 293.79h1.0v11.40h-1.0z"/><path fill="#46a06e" d="M285.0 77.11h1.0v11.40h-1.0z"/><path fill="#461e69" d="M322.0 77.11h1.0v11.40h-1.0z"/><path fill="#2daa82" d="M357.0 77.11h1.0v11.40h-1.0zM347.0 179.75h1.0v11.40h-1.0z"/><path fill="#2da57d" d="M370.0 77.11h1.0v11.40h-1.0zM370.0 111.33h1.0v11.40h-1.0zM363.0 134.13h2.0v11.40h-2.0zM244.0 156.94h1.0v11.40h-1.0zM237.0 168.35h1.0v11.40h-1.0zM308.0 168.35h2.0v11.40h-2.0zM333.0 305.20h1.0v11.40h-1.0z"/><path fill="#41507d" d="M371.0 77.11h1.0v11.40h-1.0z"/><path fill="#23a087" d="M396.0 77.11h1.0v11.40h-1.0zM281.0 99.92h1.0v11.40h-1.0zM257.0 111.33h1.0v11.40h-1.0zM259.0 111.33h1.0v11.40h-1.0zM387.0 111.33h1.0v11.40h-1.0zM428.0 122.73h1.0v11.40h-1.0zM292.0 134.13h1.0v11.40h-1.0zM294.0 156.94h1.0v11.40h-1.0zM435.0 168.35h1.0v11.40h-1.0zM253.0 191.15h1.0v11.40h-1.0zM402.0 213.96h2.0v11.40h-2.0zM248.0 225.37h1.0v11.40h-1.0zM355.0 225.37h1.0v11.40h-1.0zM359.0 225.37h1.0v11.40h-1.0zM384.0 225.37h1.0v11.40h-1.0zM386.0 225.37h1.0v11.40h-1.0zM388.0 225.37h2.0v11.40h-2.0zM243.0 236.77h2.0v11.40h-2.0zM254.0 248.18h2.0v11.40h-2.0zM309.0 248.18h2.0v11.40h-2.0zM427.0 248.18h2.0v11.40h-2.0zM440.0 248.18h2.0v11.40h-2.0z"/><path fill="#69be5f" d="M418.0 77.11h1.0v11.40h-1.0z"/><path fill="#4b4673" d="M419.0 77.11h1.0v11.40h-1.0zM355.0 293.79h1.0v11.40h-1.0z"/><path fill="#46b473" d="M427.0 77.11h1.0v11.40h-1.0zM342.0 99.92h1.0v11.40h-1.0zM269.0 145.54h1.0v11.40h-1.0zM272.0 145.54h1.0v11.40h-1.0zM258.0 248.18h1.0v11.40h-1.0zM210.0 305.20h1.0v11.40h-1.0zM212.0 305.20h1.0v11.40h-1.0zM431.0 305.20h1.0v11.40h-1.0z"/><path fill="#413c82" d="M193.0 88.52h13.0v11.40h-13.0zM304.0 88.52h5.0v11.40h-5.0zM275.0 122.73h1.0v11.40h-1.0zM388.0 122.73h2.0v11.40h-2.0zM348.0 145.54h1.0v11.40h-1.0zM234.0 168.35h1.0v11.40h-1.0zM305.0 168.35h1.0v11.40h-1.0zM389.0 168.35h1.0v11.40h-1.0zM264.0 202.56h1.0v11.40h-1.0zM269.0 202.56h1.0v11.40h-1.0zM271.0 259.58h2.0v11.40h-2.0zM234.0 305.20h1.0v11.40h-1.0zM306.0 305.20h3.0v11.40h-3.0z"/><path fill="#413c87" d="M206.0 88.52h1.0v11.40h-1.0zM214.0 88.52h1.0v11.40h-1.0zM233.0 88.52h1.0v11.40h-1.0zM250.0 88.52h2.0v11.40h-2.0zM193.0 122.73h5.0v11.40h-5.0zM271.0 122.73h1.0v11.40h-1.0zM276.0 122.73h1.0v11.40h-1.0zM390.0 122.73h1.0v11.40h-1.0zM282.0 168.35h2.0v11.40h-2.0zM287.0 168.35h1.0v11.40h-1.0zM293.0 168.35h1.0v11.40h-1.0zM213.0 202.56h2.0v11.40h-2.0zM224.0 202.56h3.0v11.40h-3.0zM239.0 259.58h1.0v11.40h-1.0zM251.0 259.58h5.0v11.40h-5.0zM273.0 259.58h1.0v11.40h-1.0zM316.0 259.58h3.0v11.40h-3.0zM327.0 259.58h1.0v11.40h-1.0zM202.0 305.20h1.0v11.40h-1.0z"/><path fill="#414687" d="M207.0 88.52h2.0v11.40h-2.0zM215.0 88.52h1.0v11.40h-1.0zM222.0 88.52h1.0v11.40h-1.0zM226.0 88.52h1.0v11.40h-1.0zM232.0 88.52h1.0v11.40h-1.0zM234.0 88.52h1.0v11.40h-1.0zM252.0 88.52h1.0v11.40h-1.0zM255.0 88.52h1.0v11.40h-1.0zM277.0 88.52h4.0v11.40h-4.0zM344.0 88.52h1.0v11.40h-1.0zM348.0 88.52h1.0v11.40h-1.0zM352.0 88.52h1.0v11.40h-1.0zM433.0 88.52h3.0v11.40h-3.0zM267.0 111.33h5.0v11.40h-5.0zM343.0 111.33h1.0v11.40h-1.0zM400.0 111.33h3.0v11.40h-3.0zM406.0 111.33h8.0v11.40h-8.0zM198.0 122.73h1.0v11.40h-1.0zM202.0 122.73h6.0v11.40h-6.0zM227.0 122.73h1.0v11.40h-1.0zM232.0 122.73h3.0v11.40h-3.0zM256.0 122.73h1.0v11.40h-1.0zM258.0 122.73h1.0v11.40h-1.0zM277.0 122.73h2.0v11.40h-2.0zM283.0 122.73h1.0v11.40h-1.0zM299.0 122.73h1.0v11.40h-1.0zM311.0 122.73h1.0v11.40h-1.0zM339.0 122.73h2.0v11.40h-2.0zM372.0 122.73h1.0v11.40h-1.0zM391.0 122.73h1.0v11.40h-1.0zM397.0 122.73h1.0v11.40h-1.0zM442.0 122.73h0.6v11.40h-0.6zM202.0 145.54h1.0v11.40h-1.0zM331.0 145.54h2.0v11.40h-2.0zM382.0 145.54h3.0v11.40h-3.0zM389.0 145.54h4.0v11.40h-4.0zM409.0 145.54h8.0v11.40h-8.0zM203.0 168.35h1.0v11.40h-1.0zM222.0 168.35h2.0v11.40h-2.0zM247.0 168.35h4.0v11.40h-4.0zM306.0 168.35h1.0v11.40h-1.0zM311.0 168.35h1.0v11.40h-1.0zM317.0 168.35h1.0v11.40h-1.0zM334.0 168.35h1.0v11.40h-1.0zM344.0 168.35h2.0v11.40h-2.0zM367.0 168.35h1.0v11.40h-1.0zM369.0 168.35h1.0v11.40h-1.0zM409.0 168.35h4.0v11.40h-4.0zM417.0 168.35h9.0v11.40h-9.0zM428.0 168.35h1.0v11.40h-1.0zM437.0 168.35h1.0v11.40h-1.0zM439.0 168.35h1.0v11.40h-1.0zM442.0 168.35h0.6v11.40h-0.6zM193.0 202.56h4.0v11.40h-4.0zM215.0 202.56h1.0v11.40h-1.0zM235.0 202.56h1.0v11.40h-1.0zM250.0 202.56h3.0v11.40h-3.0zM270.0 202.56h2.0v11.40h-2.0zM276.0 202.56h2.0v11.40h-2.0zM317.0 202.56h4.0v11.40h-4.0zM341.0 202.56h1.0v11.40h-1.0zM357.0 202.56h1.0v11.40h-1.0zM361.0 202.56h4.0v11.40h-4.0zM381.0 202.56h1.0v11.40h-1.0zM410.0 202.56h6.0v11.40h-6.0zM435.0 202.56h1.0v11.40h-1.0zM442.0 202.56h0.6v11.40h-0.6zM193.0 213.96h2.0v11.40h-2.0zM289.0 213.96h4.0v11.40h-4.0zM327.0 213.96h1.0v11.40h-1.0zM389.0 213.96h2.0v11.40h-2.0zM406.0 213.96h11.0v11.40h-11.0zM425.0 213.96h1.0v11.40h-1.0zM432.0 213.96h1.0v11.40h-1.0zM222.0 259.58h2.0v11.40h-2.0zM244.0 259.58h1.0v11.40h-1.0zM250.0 259.58h1.0v11.40h-1.0zM256.0 259.58h1.0v11.40h-1.0zM311.0 259.58h4.0v11.40h-4.0zM348.0 259.58h1.0v11.40h-1.0zM413.0 259.58h6.0v11.40h-6.0zM428.0 259.58h1.0v11.40h-1.0zM442.0 259.58h0.6v11.40h-0.6zM198.0 282.39h7.0v11.40h-7.0zM246.0 282.39h5.0v11.40h-5.0zM254.0 282.39h2.0v11.40h-2.0zM277.0 282.39h10.0v11.40h-10.0zM290.0 282.39h2.0v11.40h-2.0zM303.0 282.39h4.0v11.40h-4.0zM312.0 282.39h4.0v11.40h-4.0zM337.0 282.39h1.0v11.40h-1.0zM341.0 282.39h5.0v11.40h-5.0zM352.0 282.39h7.0v11.40h-7.0zM411.0 282.39h6.0v11.40h-6.0zM429.0 282.39h1.0v11.40h-1.0zM203.0 305.20h1.0v11.40h-1.0zM205.0 305.20h1.0v11.40h-1.0zM233.0 305.20h1.0v11.40h-1.0zM246.0 305.20h3.0v11.40h-3.0zM257.0 305.20h7.0v11.40h-7.0zM266.0 305.20h1.0v11.40h-1.0zM268.0 305.20h1.0v11.40h-1.0zM270.0 305.20h1.0v11.40h-1.0zM299.0 305.20h1.0v11.40h-1.0zM321.0 305.20h1.0v11.40h-1.0zM351.0 305.20h3.0v11.40h-3.0zM357.0 305.20h1.0v11.40h-1.0zM381.0 305.20h2.0v11.40h-2.0zM436.0 305.20h3.0v11.40h-3.0z"/><path fill="#3c5087" d="M209.0 88.52h1.0v11.40h-1.0zM229.0 88.52h1.0v11.40h-1.0zM361.0 88.52h1.0v11.40h-1.0zM367.0 88.52h1.0v11.40h-1.0zM432.0 88.52h1.0v11.40h-1.0zM266.0 111.33h1.0v11.40h-1.0zM344.0 111.33h1.0v11.40h-1.0zM393.0 111.33h1.0v11.40h-1.0zM231.0 122.73h1.0v11.40h-1.0zM235.0 122.73h1.0v11.40h-1.0zM284.0 122.73h1.0v11.40h-1.0zM370.0 122.73h1.0v11.40h-1.0zM393.0 122.73h1.0v11.40h-1.0zM406.0 122.73h1.0v11.40h-1.0zM408.0 122.73h1.0v11.40h-1.0zM413.0 122.73h1.0v11.40h-1.0zM415.0 122.73h1.0v11.40h-1.0zM441.0 122.73h1.0v11.40h-1.0zM203.0 145.54h1.0v11.40h-1.0zM209.0 145.54h2.0v11.40h-2.0zM231.0 145.54h1.0v11.40h-1.0zM286.0 145.54h1.0v11.40h-1.0zM299.0 145.54h1.0v11.40h-1.0zM381.0 145.54h1.0v11.40h-1.0zM393.0 145.54h1.0v11.40h-1.0zM373.0 156.94h1.0v11.40h-1.0zM378.0 156.94h1.0v11.40h-1.0zM204.0 168.35h1.0v11.40h-1.0zM217.0 168.35h1.0v11.40h-1.0zM343.0 168.35h1.0v11.40h-1.0zM401.0 168.35h1.0v11.40h-1.0zM404.0 168.35h1.0v11.40h-1.0zM416.0 168.35h1.0v11.40h-1.0zM426.0 168.35h1.0v11.40h-1.0zM197.0 202.56h1.0v11.40h-1.0zM200.0 202.56h1.0v11.40h-1.0zM272.0 202.56h1.0v11.40h-1.0zM275.0 202.56h1.0v11.40h-1.0zM434.0 202.56h1.0v11.40h-1.0zM436.0 202.56h1.0v11.40h-1.0zM441.0 202.56h1.0v11.40h-1.0zM195.0 213.96h1.0v11.40h-1.0zM341.0 213.96h1.0v11.40h-1.0zM349.0 213.96h1.0v11.40h-1.0zM391.0 213.96h1.0v11.40h-1.0zM426.0 213.96h1.0v11.40h-1.0zM295.0 259.58h1.0v11.40h-1.0zM433.0 259.58h1.0v11.40h-1.0zM437.0 259.58h2.0v11.40h-2.0zM219.0 305.20h1.0v11.40h-1.0zM227.0 305.20h1.0v11.40h-1.0zM264.0 305.20h1.0v11.40h-1.0zM316.0 305.20h1.0v11.40h-1.0zM383.0 305.20h1.0v11.40h-1.0zM386.0 305.20h1.0v11.40h-1.0zM439.0 305.20h1.0v11.40h-1.0zM442.0 305.20h0.6v11.40h-0.6z"/><path fill="#505a78" d="M211.0 88.52h1.0v11.40h-1.0zM244.0 122.73h1.0v11.40h-1.0zM351.0 259.58h1.0v11.40h-1.0z"/><path fill="#afbe32" d="M212.0 88.52h1.0v11.40h-1.0z"/><path fill="#505078" d="M213.0 88.52h1.0v11.40h-1.0zM284.0 168.35h1.0v11.40h-1.0zM286.0 168.35h1.0v11.40h-1.0zM220.0 202.56h1.0v11.40h-1.0z"/><path fill="#287d8c" d="M220.0 88.52h1.0v11.40h-1.0zM236.0 88.52h1.0v11.40h-1.0zM228.0 122.73h1.0v11.40h-1.0zM257.0 122.73h1.0v11.40h-1.0zM341.0 122.73h1.0v11.40h-1.0zM371.0 122.73h1.0v11.40h-1.0zM220.0 145.54h1.0v11.40h-1.0zM216.0 202.56h1.0v11.40h-1.0zM340.0 213.96h1.0v11.40h-1.0zM350.0 293.79h1.0v11.40h-1.0zM265.0 305.20h1.0v11.40h-1.0zM269.0 305.20h1.0v11.40h-1.0z"/><path fill="#415087" d="M223.0 88.52h1.0v11.40h-1.0zM225.0 88.52h1.0v11.40h-1.0zM398.0 122.73h1.0v11.40h-1.0zM230.0 145.54h1.0v11.40h-1.0zM280.0 145.54h1.0v11.40h-1.0zM312.0 145.54h1.0v11.40h-1.0zM330.0 145.54h1.0v11.40h-1.0zM364.0 145.54h1.0v11.40h-1.0zM385.0 145.54h1.0v11.40h-1.0zM388.0 145.54h1.0v11.40h-1.0zM413.0 168.35h1.0v11.40h-1.0zM231.0 202.56h1.0v11.40h-1.0zM234.0 202.56h1.0v11.40h-1.0zM256.0 202.56h1.0v11.40h-1.0zM380.0 202.56h1.0v11.40h-1.0zM198.0 259.58h1.0v11.40h-1.0zM407.0 259.58h1.0v11.40h-1.0zM322.0 305.20h1.0v11.40h-1.0z"/><path fill="#3ca578" d="M224.0 88.52h1.0v11.40h-1.0zM363.0 145.54h1.0v11.40h-1.0zM242.0 168.35h1.0v11.40h-1.0zM353.0 168.35h1.0v11.40h-1.0zM417.0 202.56h1.0v11.40h-1.0zM273.0 213.96h1.0v11.40h-1.0zM325.0 213.96h1.0v11.40h-1.0z"/><path fill="#4b5582" d="M238.0 88.52h1.0v11.40h-1.0zM368.0 88.52h1.0v11.40h-1.0zM365.0 111.33h1.0v11.40h-1.0zM403.0 111.33h1.0v11.40h-1.0zM405.0 111.33h1.0v11.40h-1.0zM221.0 168.35h1.0v11.40h-1.0zM358.0 202.56h1.0v11.40h-1.0zM360.0 202.56h1.0v11.40h-1.0zM409.0 202.56h1.0v11.40h-1.0z"/><path fill="#87b94b" d="M239.0 88.52h1.0v11.40h-1.0z"/><path fill="#556478" d="M240.0 88.52h1.0v11.40h-1.0z"/><path fill="#96cd41" d="M241.0 88.52h1.0v11.40h-1.0zM406.0 99.92h2.0v11.40h-2.0zM336.0 134.13h2.0v11.40h-2.0z"/><path fill="#96c841" d="M242.0 88.52h1.0v11.40h-1.0zM295.0 122.73h2.0v11.40h-2.0zM381.0 270.98h1.0v11.40h-1.0z"/><path fill="#50467d" d="M243.0 88.52h1.0v11.40h-1.0z"/><path fill="#504678" d="M244.0 88.52h1.0v11.40h-1.0zM246.0 88.52h1.0v11.40h-1.0z"/><path fill="#9bbe41" d="M245.0 88.52h1.0v11.40h-1.0zM275.0 282.39h1.0v11.40h-1.0z"/><path fill="#464b82" d="M256.0 88.52h1.0v11.40h-1.0zM258.0 88.52h1.0v11.40h-1.0zM272.0 88.52h1.0v11.40h-1.0zM290.0 88.52h1.0v11.40h-1.0zM309.0 88.52h1.0v11.40h-1.0zM223.0 122.73h1.0v11.40h-1.0zM362.0 168.35h1.0v11.40h-1.0zM366.0 168.35h1.0v11.40h-1.0zM370.0 168.35h1.0v11.40h-1.0zM374.0 168.35h1.0v11.40h-1.0zM385.0 168.35h1.0v11.40h-1.0zM388.0 168.35h1.0v11.40h-1.0zM430.0 168.35h1.0v11.40h-1.0zM227.0 202.56h1.0v11.40h-1.0zM337.0 202.56h1.0v11.40h-1.0zM326.0 259.58h1.0v11.40h-1.0zM309.0 305.20h1.0v11.40h-1.0z"/><path fill="#55aa6e" d="M257.0 88.52h1.0v11.40h-1.0z"/><path fill="#414187" d="M259.0 88.52h1.0v11.40h-1.0zM343.0 88.52h1.0v11.40h-1.0zM382.0 88.52h1.0v11.40h-1.0zM403.0 88.52h5.0v11.40h-5.0zM259.0 122.73h1.0v11.40h-1.0zM298.0 122.73h1.0v11.40h-1.0zM303.0 122.73h1.0v11.40h-1.0zM312.0 122.73h2.0v11.40h-2.0zM317.0 122.73h5.0v11.40h-5.0zM325.0 122.73h1.0v11.40h-1.0zM387.0 122.73h1.0v11.40h-1.0zM274.0 145.54h6.0v11.40h-6.0zM339.0 145.54h1.0v11.40h-1.0zM202.0 168.35h1.0v11.40h-1.0zM271.0 168.35h1.0v11.40h-1.0zM277.0 168.35h1.0v11.40h-1.0zM316.0 168.35h1.0v11.40h-1.0zM357.0 168.35h1.0v11.40h-1.0zM361.0 168.35h1.0v11.40h-1.0zM429.0 168.35h1.0v11.40h-1.0zM438.0 168.35h1.0v11.40h-1.0zM208.0 202.56h1.0v11.40h-1.0zM193.0 259.58h5.0v11.40h-5.0zM224.0 259.58h1.0v11.40h-1.0zM243.0 259.58h1.0v11.40h-1.0zM263.0 259.58h2.0v11.40h-2.0zM315.0 259.58h1.0v11.40h-1.0zM336.0 259.58h3.0v11.40h-3.0zM398.0 259.58h1.0v11.40h-1.0zM408.0 259.58h2.0v11.40h-2.0zM419.0 259.58h4.0v11.40h-4.0zM427.0 259.58h1.0v11.40h-1.0zM206.0 305.20h1.0v11.40h-1.0zM214.0 305.20h1.0v11.40h-1.0zM256.0 305.20h1.0v11.40h-1.0zM267.0 305.20h1.0v11.40h-1.0zM271.0 305.20h1.0v11.40h-1.0zM275.0 305.20h5.0v11.40h-5.0zM300.0 305.20h6.0v11.40h-6.0zM327.0 305.20h1.0v11.40h-1.0zM331.0 305.20h1.0v11.40h-1.0zM373.0 305.20h2.0v11.40h-2.0z"/><path fill="#463c82" d="M264.0 88.52h1.0v11.40h-1.0zM270.0 88.52h2.0v11.40h-2.0zM281.0 88.52h1.0v11.40h-1.0zM337.0 88.52h1.0v11.40h-1.0zM342.0 88.52h1.0v11.40h-1.0zM381.0 88.52h1.0v11.40h-1.0zM408.0 88.52h1.0v11.40h-1.0zM414.0 88.52h1.0v11.40h-1.0zM224.0 122.73h3.0v11.40h-3.0zM343.0 122.73h6.0v11.40h-6.0zM340.0 145.54h8.0v11.40h-8.0zM231.0 168.35h3.0v11.40h-3.0zM269.0 168.35h2.0v11.40h-2.0zM298.0 168.35h1.0v11.40h-1.0zM303.0 168.35h2.0v11.40h-2.0zM381.0 168.35h1.0v11.40h-1.0zM390.0 168.35h3.0v11.40h-3.0zM249.0 202.56h1.0v11.40h-1.0zM265.0 202.56h4.0v11.40h-4.0zM302.0 202.56h1.0v11.40h-1.0zM307.0 202.56h1.0v11.40h-1.0zM371.0 202.56h1.0v11.40h-1.0zM390.0 202.56h1.0v11.40h-1.0zM225.0 259.58h2.0v11.40h-2.0zM238.0 259.58h1.0v11.40h-1.0zM235.0 305.20h1.0v11.40h-1.0zM293.0 305.20h1.0v11.40h-1.0zM397.0 305.20h5.0v11.40h-5.0zM429.0 305.20h1.0v11.40h-1.0z"/><path fill="#504b78" d="M265.0 88.52h1.0v11.40h-1.0zM268.0 88.52h1.0v11.40h-1.0zM284.0 88.52h1.0v11.40h-1.0zM286.0 88.52h1.0v11.40h-1.0zM272.0 122.73h1.0v11.40h-1.0zM274.0 122.73h1.0v11.40h-1.0zM198.0 168.35h1.0v11.40h-1.0zM200.0 168.35h1.0v11.40h-1.0zM382.0 168.35h1.0v11.40h-1.0zM281.0 202.56h1.0v11.40h-1.0zM236.0 305.20h1.0v11.40h-1.0zM292.0 305.20h1.0v11.40h-1.0zM358.0 305.20h1.0v11.40h-1.0zM363.0 305.20h1.0v11.40h-1.0z"/><path fill="#a5cd37" d="M266.0 88.52h2.0v11.40h-2.0zM381.0 99.92h2.0v11.40h-2.0z"/><path fill="#415587" d="M276.0 88.52h1.0v11.40h-1.0zM422.0 88.52h1.0v11.40h-1.0zM424.0 88.52h1.0v11.40h-1.0zM272.0 111.33h1.0v11.40h-1.0zM330.0 122.73h2.0v11.40h-2.0zM335.0 122.73h1.0v11.40h-1.0zM268.0 145.54h1.0v11.40h-1.0zM251.0 168.35h1.0v11.40h-1.0zM405.0 168.35h1.0v11.40h-1.0zM230.0 202.56h1.0v11.40h-1.0zM331.0 213.96h1.0v11.40h-1.0zM432.0 259.58h1.0v11.40h-1.0zM193.0 282.39h1.0v11.40h-1.0zM197.0 282.39h1.0v11.40h-1.0zM251.0 282.39h1.0v11.40h-1.0zM253.0 282.39h1.0v11.40h-1.0zM417.0 282.39h1.0v11.40h-1.0zM437.0 282.39h1.0v11.40h-1.0zM442.0 282.39h0.6v11.40h-0.6zM294.0 305.20h1.0v11.40h-1.0zM347.0 305.20h1.0v11.40h-1.0zM350.0 305.20h1.0v11.40h-1.0zM354.0 305.20h1.0v11.40h-1.0zM356.0 305.20h1.0v11.40h-1.0zM387.0 305.20h1.0v11.40h-1.0zM430.0 305.20h1.0v11.40h-1.0z"/><path fill="#a0be3c" d="M285.0 88.52h1.0v11.40h-1.0zM273.0 168.35h1.0v11.40h-1.0zM359.0 168.35h1.0v11.40h-1.0zM334.0 259.58h1.0v11.40h-1.0zM257.0 282.39h1.0v11.40h-1.0zM345.0 305.20h1.0v11.40h-1.0z"/><path fill="#464682" d="M288.0 88.52h1.0v11.40h-1.0zM409.0 88.52h1.0v11.40h-1.0zM411.0 88.52h1.0v11.40h-1.0zM442.0 88.52h0.6v11.40h-0.6zM299.0 168.35h1.0v11.40h-1.0zM302.0 168.35h1.0v11.40h-1.0zM400.0 202.56h1.0v11.40h-1.0zM233.0 259.58h1.0v11.40h-1.0zM408.0 305.20h1.0v11.40h-1.0z"/><path fill="#4ba573" d="M289.0 88.52h1.0v11.40h-1.0z"/><path fill="#414b82" d="M303.0 88.52h1.0v11.40h-1.0zM290.0 122.73h1.0v11.40h-1.0zM273.0 145.54h1.0v11.40h-1.0zM243.0 168.35h1.0v11.40h-1.0zM288.0 168.35h1.0v11.40h-1.0zM292.0 168.35h1.0v11.40h-1.0zM375.0 168.35h1.0v11.40h-1.0zM209.0 202.56h1.0v11.40h-1.0zM212.0 202.56h1.0v11.40h-1.0zM240.0 259.58h1.0v11.40h-1.0zM242.0 259.58h1.0v11.40h-1.0zM322.0 259.58h1.0v11.40h-1.0zM349.0 259.58h1.0v11.40h-1.0zM213.0 305.20h1.0v11.40h-1.0zM255.0 305.20h1.0v11.40h-1.0z"/><path fill="#5abe64" d="M312.0 88.52h1.0v11.40h-1.0zM292.0 99.92h1.0v11.40h-1.0zM294.0 99.92h1.0v11.40h-1.0zM336.0 145.54h2.0v11.40h-2.0zM273.0 179.75h2.0v11.40h-2.0zM395.0 191.15h1.0v11.40h-1.0zM397.0 191.15h1.0v11.40h-1.0zM241.0 213.96h2.0v11.40h-2.0z"/><path fill="#465a82" d="M331.0 88.52h1.0v11.40h-1.0zM360.0 88.52h1.0v11.40h-1.0zM426.0 88.52h1.0v11.40h-1.0zM245.0 111.33h1.0v11.40h-1.0zM439.0 111.33h1.0v11.40h-1.0zM442.0 111.33h0.6v11.40h-0.6zM379.0 122.73h1.0v11.40h-1.0zM382.0 122.73h1.0v11.40h-1.0zM402.0 122.73h1.0v11.40h-1.0zM423.0 202.56h1.0v11.40h-1.0zM426.0 202.56h1.0v11.40h-1.0zM224.0 213.96h1.0v11.40h-1.0zM385.0 282.39h1.0v11.40h-1.0zM410.0 282.39h1.0v11.40h-1.0zM229.0 305.20h1.0v11.40h-1.0zM435.0 305.20h1.0v11.40h-1.0z"/><path fill="#50647d" d="M334.0 88.52h1.0v11.40h-1.0z"/><path fill="#82b950" d="M335.0 88.52h1.0v11.40h-1.0zM427.0 88.52h1.0v11.40h-1.0zM404.0 111.33h1.0v11.40h-1.0zM339.0 282.39h1.0v11.40h-1.0z"/><path fill="#465582" d="M336.0 88.52h1.0v11.40h-1.0zM436.0 88.52h1.0v11.40h-1.0zM361.0 111.33h1.0v11.40h-1.0zM336.0 122.73h1.0v11.40h-1.0zM338.0 122.73h1.0v11.40h-1.0zM338.0 282.39h1.0v11.40h-1.0zM340.0 282.39h1.0v11.40h-1.0zM430.0 282.39h1.0v11.40h-1.0zM232.0 305.20h1.0v11.40h-1.0zM393.0 305.20h1.0v11.40h-1.0z"/><path fill="#4b557d" d="M345.0 88.52h1.0v11.40h-1.0zM347.0 88.52h1.0v11.40h-1.0zM370.0 88.52h1.0v11.40h-1.0zM342.0 111.33h1.0v11.40h-1.0zM226.0 168.35h1.0v11.40h-1.0zM312.0 168.35h1.0v11.40h-1.0zM239.0 202.56h1.0v11.40h-1.0zM278.0 202.56h1.0v11.40h-1.0zM286.0 213.96h1.0v11.40h-1.0zM288.0 213.96h1.0v11.40h-1.0zM431.0 213.96h1.0v11.40h-1.0zM256.0 282.39h1.0v11.40h-1.0zM258.0 282.39h1.0v11.40h-1.0zM276.0 282.39h1.0v11.40h-1.0zM351.0 282.39h1.0v11.40h-1.0z"/><path fill="#289187" d="M350.0 88.52h1.0v11.40h-1.0zM265.0 111.33h1.0v11.40h-1.0zM315.0 122.73h1.0v11.40h-1.0zM323.0 122.73h1.0v11.40h-1.0zM283.0 134.13h1.0v11.40h-1.0zM310.0 145.54h1.0v11.40h-1.0zM334.0 145.54h1.0v11.40h-1.0zM215.0 168.35h1.0v11.40h-1.0zM218.0 168.35h1.0v11.40h-1.0zM427.0 213.96h1.0v11.40h-1.0zM362.0 259.58h1.0v11.40h-1.0zM366.0 259.58h1.0v11.40h-1.0z"/><path fill="#28828c" d="M355.0 88.52h1.0v11.40h-1.0zM345.0 111.33h1.0v11.40h-1.0zM432.0 122.73h1.0v11.40h-1.0zM366.0 134.13h1.0v11.40h-1.0zM369.0 134.13h1.0v11.40h-1.0zM418.0 145.54h1.0v11.40h-1.0zM232.0 156.94h1.0v11.40h-1.0zM291.0 156.94h1.0v11.40h-1.0zM327.0 156.94h1.0v11.40h-1.0zM275.0 168.35h1.0v11.40h-1.0zM427.0 168.35h1.0v11.40h-1.0zM383.0 202.56h1.0v11.40h-1.0zM241.0 248.18h1.0v11.40h-1.0zM245.0 259.58h1.0v11.40h-1.0zM359.0 259.58h1.0v11.40h-1.0zM292.0 293.79h1.0v11.40h-1.0z"/><path fill="#375f87" d="M356.0 88.52h1.0v11.40h-1.0zM237.0 111.33h1.0v11.40h-1.0zM352.0 134.13h1.0v11.40h-1.0zM336.0 213.96h1.0v11.40h-1.0z"/><path fill="#416482" d="M358.0 88.52h1.0v11.40h-1.0zM226.0 145.54h1.0v11.40h-1.0zM331.0 282.39h1.0v11.40h-1.0zM333.0 282.39h1.0v11.40h-1.0zM439.0 282.39h1.0v11.40h-1.0z"/><path fill="#7db955" d="M359.0 88.52h1.0v11.40h-1.0zM334.0 202.56h1.0v11.40h-1.0z"/><path fill="#91b946" d="M369.0 88.52h1.0v11.40h-1.0z"/><path fill="#414182" d="M372.0 88.52h1.0v11.40h-1.0zM342.0 122.73h1.0v11.40h-1.0zM349.0 122.73h1.0v11.40h-1.0zM268.0 168.35h1.0v11.40h-1.0zM287.0 202.56h1.0v11.40h-1.0zM213.0 259.58h1.0v11.40h-1.0zM215.0 259.58h1.0v11.40h-1.0zM342.0 259.58h1.0v11.40h-1.0zM379.0 259.58h1.0v11.40h-1.0zM402.0 305.20h1.0v11.40h-1.0zM409.0 305.20h1.0v11.40h-1.0zM413.0 305.20h1.0v11.40h-1.0z"/><path fill="#504b7d" d="M375.0 88.52h1.0v11.40h-1.0zM378.0 88.52h1.0v11.40h-1.0zM224.0 168.35h1.0v11.40h-1.0zM384.0 168.35h1.0v11.40h-1.0zM406.0 202.56h1.0v11.40h-1.0z"/><path fill="#a0cd3c" d="M376.0 88.52h2.0v11.40h-2.0z"/><path fill="#aacd37" d="M388.0 88.52h2.0v11.40h-2.0z"/><path fill="#1e9b87" d="M397.0 88.52h1.0v11.40h-1.0zM230.0 111.33h1.0v11.40h-1.0zM301.0 145.54h1.0v11.40h-1.0zM396.0 145.54h1.0v11.40h-1.0zM247.0 156.94h1.0v11.40h-1.0zM298.0 156.94h3.0v11.40h-3.0zM307.0 156.94h1.0v11.40h-1.0zM342.0 156.94h1.0v11.40h-1.0zM397.0 156.94h1.0v11.40h-1.0zM239.0 168.35h1.0v11.40h-1.0zM314.0 202.56h1.0v11.40h-1.0zM330.0 236.77h1.0v11.40h-1.0zM210.0 259.58h1.0v11.40h-1.0zM294.0 293.79h1.0v11.40h-1.0zM334.0 293.79h1.0v11.40h-1.0zM314.0 305.20h1.0v11.40h-1.0z"/><path fill="#414b87" d="M399.0 88.52h2.0v11.40h-2.0zM402.0 88.52h1.0v11.40h-1.0zM415.0 88.52h1.0v11.40h-1.0zM429.0 88.52h1.0v11.40h-1.0zM260.0 122.73h1.0v11.40h-1.0zM270.0 122.73h1.0v11.40h-1.0zM291.0 122.73h1.0v11.40h-1.0zM293.0 122.73h1.0v11.40h-1.0zM302.0 122.73h1.0v11.40h-1.0zM304.0 122.73h1.0v11.40h-1.0zM314.0 122.73h1.0v11.40h-1.0zM386.0 122.73h1.0v11.40h-1.0zM201.0 145.54h1.0v11.40h-1.0zM323.0 168.35h2.0v11.40h-2.0zM400.0 168.35h1.0v11.40h-1.0zM308.0 202.56h1.0v11.40h-1.0zM424.0 213.96h1.0v11.40h-1.0zM354.0 259.58h1.0v11.40h-1.0zM410.0 259.58h1.0v11.40h-1.0zM412.0 259.58h1.0v11.40h-1.0zM423.0 259.58h1.0v11.40h-1.0zM426.0 259.58h1.0v11.40h-1.0zM359.0 282.39h1.0v11.40h-1.0zM428.0 282.39h1.0v11.40h-1.0zM215.0 305.20h1.0v11.40h-1.0zM332.0 305.20h1.0v11.40h-1.0zM372.0 305.20h1.0v11.40h-1.0zM375.0 305.20h1.0v11.40h-1.0z"/><path fill="#50aa6e" d="M410.0 88.52h1.0v11.40h-1.0zM423.0 88.52h1.0v11.40h-1.0zM334.0 122.73h1.0v11.40h-1.0zM366.0 122.73h1.0v11.40h-1.0zM239.0 305.20h1.0v11.40h-1.0z"/><path fill="#4b507d" d="M428.0 88.52h1.0v11.40h-1.0zM294.0 122.73h1.0v11.40h-1.0zM297.0 122.73h1.0v11.40h-1.0zM326.0 122.73h1.0v11.40h-1.0zM244.0 168.35h1.0v11.40h-1.0zM246.0 168.35h1.0v11.40h-1.0zM272.0 168.35h1.0v11.40h-1.0zM221.0 202.56h1.0v11.40h-1.0zM223.0 202.56h1.0v11.40h-1.0zM333.0 259.58h1.0v11.40h-1.0zM335.0 259.58h1.0v11.40h-1.0zM207.0 305.20h1.0v11.40h-1.0zM272.0 305.20h1.0v11.40h-1.0zM274.0 305.20h1.0v11.40h-1.0z"/><path fill="#91c846" d="M437.0 88.52h2.0v11.40h-2.0zM440.0 111.33h2.0v11.40h-2.0z"/><path fill="#5ab969" d="M441.0 88.52h1.0v11.40h-1.0zM300.0 168.35h2.0v11.40h-2.0zM347.0 168.35h1.0v11.40h-1.0zM407.0 168.35h1.0v11.40h-1.0z"/><path fill="#55be69" d="M308.0 99.92h1.0v11.40h-1.0zM310.0 99.92h1.0v11.40h-1.0zM238.0 191.15h1.0v11.40h-1.0zM240.0 191.15h1.0v11.40h-1.0zM440.0 191.15h2.0v11.40h-2.0zM313.0 213.96h2.0v11.40h-2.0zM378.0 248.18h2.0v11.40h-2.0z"/><path fill="#d2d223" d="M323.0 99.92h1.0v11.40h-1.0zM394.0 202.56h2.0v11.40h-2.0z"/><path fill="#d2d723" d="M324.0 99.92h1.0v11.40h-1.0zM198.0 179.75h2.0v11.40h-2.0zM332.0 191.15h2.0v11.40h-2.0zM325.0 202.56h2.0v11.40h-2.0z"/><path fill="#50b96e" d="M327.0 99.92h1.0v11.40h-1.0zM240.0 122.73h1.0v11.40h-1.0zM327.0 282.39h2.0v11.40h-2.0z"/><path fill="#37af7d" d="M331.0 99.92h1.0v11.40h-1.0zM427.0 145.54h1.0v11.40h-1.0zM323.0 282.39h1.0v11.40h-1.0zM325.0 282.39h1.0v11.40h-1.0z"/><path fill="#46b973" d="M343.0 99.92h1.0v11.40h-1.0zM219.0 236.77h1.0v11.40h-1.0zM221.0 236.77h1.0v11.40h-1.0zM257.0 248.18h1.0v11.40h-1.0z"/><path fill="#5a7378" d="M351.0 99.92h1.0v11.40h-1.0z"/><path fill="#aac337" d="M352.0 99.92h1.0v11.40h-1.0zM341.0 111.33h1.0v11.40h-1.0zM431.0 111.33h1.0v11.40h-1.0zM440.0 145.54h1.0v11.40h-1.0zM397.0 179.75h1.0v11.40h-1.0zM350.0 282.39h1.0v11.40h-1.0z"/><path fill="#37648c" d="M358.0 99.92h1.0v11.40h-1.0zM356.0 111.33h1.0v11.40h-1.0zM287.0 134.13h1.0v11.40h-1.0zM203.0 179.75h1.0v11.40h-1.0zM219.0 179.75h1.0v11.40h-1.0zM256.0 179.75h1.0v11.40h-1.0zM258.0 179.75h1.0v11.40h-1.0zM226.0 191.15h1.0v11.40h-1.0zM228.0 191.15h2.0v11.40h-2.0zM231.0 191.15h1.0v11.40h-1.0zM235.0 191.15h1.0v11.40h-1.0zM355.0 191.15h1.0v11.40h-1.0zM357.0 191.15h1.0v11.40h-1.0zM233.0 213.96h1.0v11.40h-1.0zM235.0 213.96h1.0v11.40h-1.0zM354.0 225.37h1.0v11.40h-1.0zM240.0 236.77h1.0v11.40h-1.0zM259.0 248.18h1.0v11.40h-1.0z"/><path fill="#4b7878" d="M372.0 99.92h1.0v11.40h-1.0z"/><path fill="#82be50" d="M373.0 99.92h1.0v11.40h-1.0zM310.0 213.96h1.0v11.40h-1.0zM197.0 225.37h1.0v11.40h-1.0zM243.0 225.37h1.0v11.40h-1.0zM350.0 248.18h1.0v11.40h-1.0z"/><path fill="#e1d728" d="M377.0 99.92h1.0v11.40h-1.0z"/><path fill="#5a6e73" d="M378.0 99.92h1.0v11.40h-1.0z"/><path fill="#556e78" d="M380.0 99.92h1.0v11.40h-1.0z"/><path fill="#afc332" d="M427.0 99.92h1.0v11.40h-1.0zM363.0 111.33h1.0v11.40h-1.0zM332.0 202.56h1.0v11.40h-1.0zM341.0 236.77h1.0v11.40h-1.0z"/><path fill="#55b469" d="M440.0 99.92h1.0v11.40h-1.0zM350.0 191.15h1.0v11.40h-1.0zM388.0 191.15h1.0v11.40h-1.0zM333.0 236.77h1.0v11.40h-1.0z"/><path fill="#4b5a82" d="M199.0 111.33h1.0v11.40h-1.0zM201.0 111.33h1.0v11.40h-1.0zM358.0 122.73h1.0v11.40h-1.0zM360.0 122.73h1.0v11.40h-1.0zM405.0 145.54h1.0v11.40h-1.0zM408.0 145.54h1.0v11.40h-1.0zM349.0 202.56h1.0v11.40h-1.0zM351.0 202.56h1.0v11.40h-1.0zM379.0 213.96h1.0v11.40h-1.0zM381.0 213.96h1.0v11.40h-1.0zM421.0 213.96h1.0v11.40h-1.0zM423.0 213.96h1.0v11.40h-1.0zM296.0 259.58h1.0v11.40h-1.0zM298.0 259.58h1.0v11.40h-1.0z"/><path fill="#96be41" d="M200.0 111.33h1.0v11.40h-1.0zM359.0 122.73h1.0v11.40h-1.0zM245.0 168.35h1.0v11.40h-1.0zM222.0 202.56h1.0v11.40h-1.0zM297.0 259.58h1.0v11.40h-1.0zM273.0 305.20h1.0v11.40h-1.0z"/><path fill="#8cc84b" d="M216.0 111.33h2.0v11.40h-2.0zM431.0 282.39h2.0v11.40h-2.0z"/><path fill="#41b473" d="M273.0 111.33h1.0v11.40h-1.0zM275.0 111.33h1.0v11.40h-1.0zM227.0 145.54h1.0v11.40h-1.0zM229.0 145.54h1.0v11.40h-1.0zM203.0 259.58h1.0v11.40h-1.0zM432.0 305.20h1.0v11.40h-1.0z"/><path fill="#8cbe46" d="M280.0 111.33h1.0v11.40h-1.0z"/><path fill="#55af6e" d="M289.0 111.33h1.0v11.40h-1.0zM329.0 122.73h1.0v11.40h-1.0zM355.0 305.20h1.0v11.40h-1.0z"/><path fill="#55af69" d="M292.0 111.33h1.0v11.40h-1.0zM371.0 213.96h1.0v11.40h-1.0zM396.0 259.58h1.0v11.40h-1.0zM438.0 282.39h1.0v11.40h-1.0z"/><path fill="#91cd46" d="M313.0 111.33h2.0v11.40h-2.0zM224.0 134.13h2.0v11.40h-2.0zM220.0 225.37h2.0v11.40h-2.0z"/><path fill="#28878c" d="M317.0 111.33h1.0v11.40h-1.0zM440.0 168.35h1.0v11.40h-1.0zM342.0 202.56h1.0v11.40h-1.0z"/><path fill="#c3d228" d="M336.0 111.33h2.0v11.40h-2.0zM218.0 202.56h2.0v11.40h-2.0zM434.0 282.39h2.0v11.40h-2.0z"/><path fill="#506e78" d="M349.0 111.33h1.0v11.40h-1.0zM351.0 111.33h1.0v11.40h-1.0z"/><path fill="#87be4b" d="M350.0 111.33h1.0v11.40h-1.0zM368.0 111.33h1.0v11.40h-1.0zM215.0 134.13h1.0v11.40h-1.0zM220.0 168.35h1.0v11.40h-1.0zM218.0 248.18h1.0v11.40h-1.0zM332.0 282.39h1.0v11.40h-1.0z"/><path fill="#aad237" d="M352.0 111.33h2.0v11.40h-2.0zM384.0 236.77h2.0v11.40h-2.0z"/><path fill="#37a578" d="M355.0 111.33h1.0v11.40h-1.0zM414.0 293.79h1.0v11.40h-1.0z"/><path fill="#50557d" d="M362.0 111.33h1.0v11.40h-1.0zM364.0 111.33h1.0v11.40h-1.0zM217.0 202.56h1.0v11.40h-1.0zM287.0 282.39h1.0v11.40h-1.0zM289.0 282.39h1.0v11.40h-1.0zM436.0 282.39h1.0v11.40h-1.0z"/><path fill="#506478" d="M367.0 111.33h1.0v11.40h-1.0zM338.0 168.35h1.0v11.40h-1.0z"/><path fill="#415582" d="M221.0 122.73h1.0v11.40h-1.0zM242.0 122.73h1.0v11.40h-1.0zM252.0 122.73h1.0v11.40h-1.0zM367.0 122.73h1.0v11.40h-1.0zM346.0 168.35h1.0v11.40h-1.0zM433.0 168.35h1.0v11.40h-1.0zM430.0 259.58h1.0v11.40h-1.0z"/><path fill="#55aa69" d="M222.0 122.73h1.0v11.40h-1.0z"/><path fill="#50b46e" d="M241.0 122.73h1.0v11.40h-1.0zM382.0 179.75h1.0v11.40h-1.0zM230.0 225.37h1.0v11.40h-1.0zM436.0 248.18h1.0v11.40h-1.0z"/><path fill="#2d9682" d="M243.0 122.73h1.0v11.40h-1.0zM411.0 259.58h1.0v11.40h-1.0z"/><path fill="#c8c32d" d="M245.0 122.73h1.0v11.40h-1.0zM320.0 259.58h1.0v11.40h-1.0zM352.0 259.58h1.0v11.40h-1.0z"/><path fill="#505578" d="M246.0 122.73h1.0v11.40h-1.0zM375.0 259.58h1.0v11.40h-1.0zM383.0 259.58h1.0v11.40h-1.0zM289.0 305.20h1.0v11.40h-1.0z"/><path fill="#465082" d="M255.0 122.73h1.0v11.40h-1.0zM338.0 145.54h1.0v11.40h-1.0zM397.0 259.58h1.0v11.40h-1.0z"/><path fill="#8cb94b" d="M327.0 122.73h1.0v11.40h-1.0z"/><path fill="#46aa73" d="M332.0 122.73h1.0v11.40h-1.0zM279.0 134.13h1.0v11.40h-1.0zM319.0 145.54h1.0v11.40h-1.0zM241.0 236.77h1.0v11.40h-1.0zM325.0 305.20h1.0v11.40h-1.0z"/><path fill="#415f82" d="M333.0 122.73h1.0v11.40h-1.0zM430.0 134.13h1.0v11.40h-1.0zM260.0 202.56h1.0v11.40h-1.0zM383.0 282.39h1.0v11.40h-1.0z"/><path fill="#7db950" d="M337.0 122.73h1.0v11.40h-1.0z"/><path fill="#239b82" d="M368.0 122.73h2.0v11.40h-2.0zM231.0 293.79h1.0v11.40h-1.0zM302.0 293.79h1.0v11.40h-1.0z"/><path fill="#8cc846" d="M380.0 122.73h2.0v11.40h-2.0zM225.0 213.96h1.0v11.40h-1.0z"/><path fill="#4baa73" d="M399.0 122.73h1.0v11.40h-1.0zM431.0 259.58h1.0v11.40h-1.0zM418.0 282.39h1.0v11.40h-1.0z"/><path fill="#505f7d" d="M421.0 122.73h1.0v11.40h-1.0zM332.0 168.35h1.0v11.40h-1.0z"/><path fill="#375a87" d="M429.0 122.73h1.0v11.40h-1.0zM206.0 145.54h1.0v11.40h-1.0zM214.0 168.35h1.0v11.40h-1.0zM339.0 213.96h1.0v11.40h-1.0zM378.0 305.20h1.0v11.40h-1.0z"/><path fill="#37aa7d" d="M434.0 122.73h1.0v11.40h-1.0zM436.0 122.73h1.0v11.40h-1.0zM281.0 145.54h1.0v11.40h-1.0zM414.0 168.35h2.0v11.40h-2.0z"/><path fill="#9bc341" d="M207.0 134.13h1.0v11.40h-1.0zM427.0 191.15h1.0v11.40h-1.0zM291.0 236.77h1.0v11.40h-1.0z"/><path fill="#c3cd32" d="M249.0 134.13h1.0v11.40h-1.0z"/><path fill="#8cbe4b" d="M257.0 134.13h1.0v11.40h-1.0zM359.0 202.56h1.0v11.40h-1.0zM207.0 282.39h1.0v11.40h-1.0z"/><path fill="#37a57d" d="M323.0 134.13h1.0v11.40h-1.0zM339.0 134.13h1.0v11.40h-1.0zM210.0 236.77h1.0v11.40h-1.0zM228.0 236.77h1.0v11.40h-1.0zM336.0 236.77h1.0v11.40h-1.0zM263.0 282.39h1.0v11.40h-1.0z"/><path fill="#1e918c" d="M355.0 134.13h1.0v11.40h-1.0zM302.0 145.54h1.0v11.40h-1.0zM423.0 145.54h1.0v11.40h-1.0zM205.0 156.94h1.0v11.40h-1.0zM207.0 156.94h1.0v11.40h-1.0zM257.0 156.94h1.0v11.40h-1.0zM399.0 156.94h1.0v11.40h-1.0zM417.0 156.94h1.0v11.40h-1.0zM197.0 293.79h1.0v11.40h-1.0zM199.0 293.79h1.0v11.40h-1.0z"/><path fill="#96c346" d="M389.0 134.13h1.0v11.40h-1.0zM427.0 134.13h1.0v11.40h-1.0zM388.0 236.77h1.0v11.40h-1.0z"/><path fill="#4b697d" d="M393.0 134.13h1.0v11.40h-1.0z"/><path fill="#cdc832" d="M394.0 134.13h1.0v11.40h-1.0zM331.0 168.35h1.0v11.40h-1.0zM359.0 236.77h1.0v11.40h-1.0z"/><path fill="#4b5f82" d="M395.0 134.13h1.0v11.40h-1.0zM354.0 145.54h1.0v11.40h-1.0zM356.0 145.54h1.0v11.40h-1.0zM439.0 145.54h1.0v11.40h-1.0zM441.0 145.54h1.0v11.40h-1.0z"/><path fill="#bec832" d="M420.0 134.13h1.0v11.40h-1.0zM260.0 179.75h1.0v11.40h-1.0zM289.0 191.15h1.0v11.40h-1.0z"/><path fill="#289687" d="M439.0 134.13h1.0v11.40h-1.0zM355.0 168.35h1.0v11.40h-1.0zM264.0 213.96h1.0v11.40h-1.0zM270.0 213.96h1.0v11.40h-1.0zM301.0 213.96h1.0v11.40h-1.0zM225.0 248.18h1.0v11.40h-1.0z"/><path fill="#3c5582" d="M234.0 145.54h1.0v11.40h-1.0zM241.0 168.35h1.0v11.40h-1.0z"/><path fill="#3c5a8c" d="M241.0 145.54h1.0v11.40h-1.0z"/><path fill="#415a82" d="M291.0 145.54h1.0v11.40h-1.0zM318.0 145.54h1.0v11.40h-1.0zM335.0 145.54h1.0v11.40h-1.0zM349.0 168.35h1.0v11.40h-1.0zM324.0 305.20h1.0v11.40h-1.0z"/><path fill="#37a07d" d="M329.0 145.54h1.0v11.40h-1.0zM204.0 202.56h1.0v11.40h-1.0zM220.0 213.96h1.0v11.40h-1.0zM254.0 305.20h1.0v11.40h-1.0zM323.0 305.20h1.0v11.40h-1.0z"/><path fill="#a5c33c" d="M355.0 145.54h1.0v11.40h-1.0zM380.0 213.96h1.0v11.40h-1.0z"/><path fill="#afd232" d="M406.0 145.54h2.0v11.40h-2.0zM439.0 270.98h2.0v11.40h-2.0z"/><path fill="#239182" d="M201.0 156.94h1.0v11.40h-1.0zM227.0 156.94h1.0v11.40h-1.0zM343.0 156.94h1.0v11.40h-1.0zM348.0 156.94h1.0v11.40h-1.0zM391.0 156.94h1.0v11.40h-1.0z"/><path fill="#2da078" d="M219.0 156.94h1.0v11.40h-1.0z"/><path fill="#501955" d="M223.0 156.94h1.0v11.40h-1.0z"/><path fill="#a5c332" d="M224.0 156.94h1.0v11.40h-1.0z"/><path fill="#3c235f" d="M228.0 156.94h1.0v11.40h-1.0z"/><path fill="#462d78" d="M233.0 156.94h1.0v11.40h-1.0zM321.0 293.79h1.0v11.40h-1.0zM349.0 293.79h1.0v11.40h-1.0zM380.0 293.79h1.0v11.40h-1.0z"/><path fill="#9bc83c" d="M243.0 156.94h1.0v11.40h-1.0zM289.0 248.18h1.0v11.40h-1.0z"/><path fill="#28788c" d="M249.0 156.94h1.0v11.40h-1.0z"/><path fill="#412d78" d="M250.0 156.94h1.0v11.40h-1.0z"/><path fill="#461e64" d="M268.0 156.94h1.0v11.40h-1.0z"/><path fill="#2daf82" d="M270.0 156.94h1.0v11.40h-1.0z"/><path fill="#287d87" d="M274.0 156.94h1.0v11.40h-1.0zM276.0 156.94h1.0v11.40h-1.0zM323.0 293.79h1.0v11.40h-1.0z"/><path fill="#412364" d="M275.0 156.94h1.0v11.40h-1.0z"/><path fill="#237d87" d="M326.0 156.94h1.0v11.40h-1.0z"/><path fill="#412369" d="M367.0 156.94h1.0v11.40h-1.0z"/><path fill="#325a87" d="M368.0 156.94h1.0v11.40h-1.0z"/><path fill="#410f5f" d="M408.0 156.94h1.0v11.40h-1.0z"/><path fill="#2d788c" d="M432.0 156.94h1.0v11.40h-1.0z"/><path fill="#554b78" d="M195.0 168.35h1.0v11.40h-1.0zM197.0 168.35h1.0v11.40h-1.0zM244.0 202.56h1.0v11.40h-1.0zM247.0 202.56h1.0v11.40h-1.0zM393.0 202.56h1.0v11.40h-1.0zM377.0 259.58h1.0v11.40h-1.0zM282.0 305.20h1.0v11.40h-1.0zM285.0 305.20h1.0v11.40h-1.0z"/><path fill="#c3c32d" d="M196.0 168.35h1.0v11.40h-1.0zM384.0 259.58h1.0v11.40h-1.0zM336.0 305.20h1.0v11.40h-1.0z"/><path fill="#b4be32" d="M199.0 168.35h1.0v11.40h-1.0zM376.0 259.58h1.0v11.40h-1.0zM237.0 305.20h1.0v11.40h-1.0z"/><path fill="#329b7d" d="M205.0 168.35h1.0v11.40h-1.0zM241.0 259.58h1.0v11.40h-1.0zM350.0 259.58h1.0v11.40h-1.0z"/><path fill="#96b941" d="M225.0 168.35h1.0v11.40h-1.0z"/><path fill="#3c5082" d="M228.0 168.35h1.0v11.40h-1.0zM262.0 168.35h1.0v11.40h-1.0zM264.0 168.35h1.0v11.40h-1.0z"/><path fill="#41a578" d="M252.0 168.35h1.0v11.40h-1.0zM308.0 213.96h1.0v11.40h-1.0z"/><path fill="#50507d" d="M278.0 168.35h1.0v11.40h-1.0zM281.0 168.35h1.0v11.40h-1.0zM315.0 168.35h1.0v11.40h-1.0zM358.0 168.35h1.0v11.40h-1.0zM360.0 168.35h1.0v11.40h-1.0zM328.0 305.20h1.0v11.40h-1.0zM330.0 305.20h1.0v11.40h-1.0z"/><path fill="#bec32d" d="M285.0 168.35h1.0v11.40h-1.0z"/><path fill="#415082" d="M335.0 168.35h1.0v11.40h-1.0zM408.0 168.35h1.0v11.40h-1.0zM263.0 202.56h1.0v11.40h-1.0zM395.0 259.58h1.0v11.40h-1.0zM399.0 259.58h1.0v11.40h-1.0zM402.0 259.58h1.0v11.40h-1.0zM307.0 282.39h1.0v11.40h-1.0zM311.0 282.39h1.0v11.40h-1.0zM326.0 305.20h1.0v11.40h-1.0zM406.0 305.20h1.0v11.40h-1.0z"/><path fill="#50b969" d="M336.0 168.35h2.0v11.40h-2.0zM388.0 179.75h1.0v11.40h-1.0zM390.0 179.75h1.0v11.40h-1.0zM397.0 202.56h1.0v11.40h-1.0zM399.0 202.56h1.0v11.40h-1.0zM249.0 213.96h1.0v11.40h-1.0zM251.0 213.96h1.0v11.40h-1.0zM440.0 282.39h2.0v11.40h-2.0zM310.0 305.20h2.0v11.40h-2.0z"/><path fill="#46b46e" d="M371.0 168.35h1.0v11.40h-1.0zM373.0 168.35h1.0v11.40h-1.0zM278.0 259.58h2.0v11.40h-2.0z"/><path fill="#aabe37" d="M383.0 168.35h1.0v11.40h-1.0z"/><path fill="#5fbe64" d="M386.0 168.35h2.0v11.40h-2.0zM257.0 213.96h1.0v11.40h-1.0zM259.0 213.96h1.0v11.40h-1.0z"/><path fill="#4b6e7d" d="M200.0 179.75h1.0v11.40h-1.0zM439.0 213.96h1.0v11.40h-1.0z"/><path fill="#32af7d" d="M216.0 179.75h1.0v11.40h-1.0zM218.0 179.75h1.0v11.40h-1.0zM402.0 236.77h1.0v11.40h-1.0zM198.0 248.18h1.0v11.40h-1.0zM200.0 248.18h1.0v11.40h-1.0z"/><path fill="#91c346" d="M241.0 179.75h1.0v11.40h-1.0zM265.0 179.75h1.0v11.40h-1.0zM383.0 191.15h1.0v11.40h-1.0zM399.0 191.15h1.0v11.40h-1.0zM418.0 225.37h1.0v11.40h-1.0zM290.0 270.98h1.0v11.40h-1.0z"/><path fill="#289b87" d="M281.0 179.75h1.0v11.40h-1.0zM275.0 225.37h1.0v11.40h-1.0z"/><path fill="#a5c337" d="M309.0 179.75h1.0v11.40h-1.0zM261.0 248.18h1.0v11.40h-1.0zM381.0 282.39h1.0v11.40h-1.0z"/><path fill="#c8d223" d="M352.0 179.75h2.0v11.40h-2.0z"/><path fill="#c3d728" d="M364.0 179.75h2.0v11.40h-2.0zM413.0 270.98h2.0v11.40h-2.0z"/><path fill="#377387" d="M370.0 179.75h1.0v11.40h-1.0zM375.0 191.15h1.0v11.40h-1.0zM279.0 236.77h1.0v11.40h-1.0z"/><path fill="#46737d" d="M383.0 179.75h1.0v11.40h-1.0z"/><path fill="#32a57d" d="M227.0 191.15h1.0v11.40h-1.0zM236.0 191.15h1.0v11.40h-1.0zM386.0 191.15h1.0v11.40h-1.0zM310.0 225.37h1.0v11.40h-1.0zM280.0 236.77h1.0v11.40h-1.0zM244.0 293.79h1.0v11.40h-1.0zM325.0 293.79h1.0v11.40h-1.0zM366.0 293.79h1.0v11.40h-1.0zM394.0 293.79h1.0v11.40h-1.0z"/><path fill="#327d87" d="M237.0 191.15h1.0v11.40h-1.0z"/><path fill="#376e8c" d="M249.0 191.15h1.0v11.40h-1.0zM375.0 236.77h1.0v11.40h-1.0zM377.0 236.77h1.0v11.40h-1.0zM294.0 248.18h1.0v11.40h-1.0zM296.0 248.18h1.0v11.40h-1.0zM298.0 248.18h1.0v11.40h-1.0zM301.0 248.18h1.0v11.40h-1.0zM407.0 270.98h1.0v11.40h-1.0z"/><path fill="#50be6e" d="M250.0 191.15h1.0v11.40h-1.0z"/><path fill="#327887" d="M252.0 191.15h1.0v11.40h-1.0z"/><path fill="#82cd4b" d="M376.0 191.15h2.0v11.40h-2.0z"/><path fill="#3c7887" d="M382.0 191.15h1.0v11.40h-1.0zM365.0 225.37h1.0v11.40h-1.0zM368.0 225.37h1.0v11.40h-1.0zM370.0 225.37h1.0v11.40h-1.0zM382.0 270.98h1.0v11.40h-1.0z"/><path fill="#466e7d" d="M398.0 191.15h1.0v11.40h-1.0z"/><path fill="#3c7387" d="M407.0 191.15h1.0v11.40h-1.0zM409.0 191.15h1.0v11.40h-1.0zM233.0 225.37h1.0v11.40h-1.0zM325.0 225.37h1.0v11.40h-1.0zM327.0 225.37h1.0v11.40h-1.0zM291.0 248.18h1.0v11.40h-1.0zM358.0 248.18h1.0v11.40h-1.0zM235.0 270.98h1.0v11.40h-1.0zM238.0 270.98h1.0v11.40h-1.0z"/><path fill="#4b4b7d" d="M236.0 202.56h1.0v11.40h-1.0zM338.0 202.56h1.0v11.40h-1.0zM340.0 202.56h1.0v11.40h-1.0zM396.0 305.20h1.0v11.40h-1.0z"/><path fill="#379b7d" d="M240.0 202.56h1.0v11.40h-1.0z"/><path fill="#d7d223" d="M245.0 202.56h2.0v11.40h-2.0z"/><path fill="#aacd32" d="M279.0 202.56h2.0v11.40h-2.0z"/><path fill="#556978" d="M333.0 202.56h1.0v11.40h-1.0zM433.0 282.39h1.0v11.40h-1.0z"/><path fill="#5aaf69" d="M336.0 202.56h1.0v11.40h-1.0z"/><path fill="#8cb946" d="M339.0 202.56h1.0v11.40h-1.0z"/><path fill="#96be46" d="M350.0 202.56h1.0v11.40h-1.0z"/><path fill="#555a73" d="M396.0 202.56h1.0v11.40h-1.0z"/><path fill="#9bcd3c" d="M407.0 202.56h2.0v11.40h-2.0zM424.0 202.56h2.0v11.40h-2.0z"/><path fill="#8ccd46" d="M226.0 213.96h1.0v11.40h-1.0zM371.0 225.37h2.0v11.40h-2.0zM236.0 270.98h2.0v11.40h-2.0z"/><path fill="#c8c332" d="M329.0 213.96h1.0v11.40h-1.0zM309.0 259.58h1.0v11.40h-1.0zM288.0 282.39h1.0v11.40h-1.0z"/><path fill="#415f87" d="M358.0 213.96h1.0v11.40h-1.0zM360.0 213.96h1.0v11.40h-1.0z"/><path fill="#5ab469" d="M359.0 213.96h1.0v11.40h-1.0zM211.0 225.37h1.0v11.40h-1.0zM395.0 236.77h1.0v11.40h-1.0z"/><path fill="#cdd723" d="M440.0 213.96h2.0v11.40h-2.0zM333.0 225.37h2.0v11.40h-2.0z"/><path fill="#416987" d="M222.0 225.37h1.0v11.40h-1.0zM215.0 236.77h1.0v11.40h-1.0zM217.0 236.77h1.0v11.40h-1.0zM209.0 248.18h1.0v11.40h-1.0z"/><path fill="#417d82" d="M231.0 225.37h1.0v11.40h-1.0z"/><path fill="#87c34b" d="M232.0 225.37h1.0v11.40h-1.0zM292.0 248.18h1.0v11.40h-1.0z"/><path fill="#4b737d" d="M242.0 225.37h1.0v11.40h-1.0z"/><path fill="#557d78" d="M271.0 225.37h1.0v11.40h-1.0zM370.0 270.98h1.0v11.40h-1.0z"/><path fill="#8cc34b" d="M326.0 225.37h1.0v11.40h-1.0zM216.0 236.77h1.0v11.40h-1.0z"/><path fill="#9bd23c" d="M366.0 225.37h2.0v11.40h-2.0z"/><path fill="#78be55" d="M430.0 225.37h1.0v11.40h-1.0zM305.0 236.77h1.0v11.40h-1.0zM381.0 236.77h1.0v11.40h-1.0zM440.0 236.77h1.0v11.40h-1.0zM366.0 248.18h1.0v11.40h-1.0zM333.0 270.98h1.0v11.40h-1.0z"/><path fill="#cdcd32" d="M438.0 236.77h1.0v11.40h-1.0zM330.0 270.98h1.0v11.40h-1.0z"/><path fill="#50787d" d="M439.0 236.77h1.0v11.40h-1.0z"/><path fill="#50737d" d="M217.0 248.18h1.0v11.40h-1.0z"/><path fill="#32788c" d="M256.0 248.18h1.0v11.40h-1.0zM380.0 248.18h1.0v11.40h-1.0z"/><path fill="#a5d237" d="M281.0 248.18h2.0v11.40h-2.0zM216.0 270.98h2.0v11.40h-2.0z"/><path fill="#a0c83c" d="M287.0 248.18h1.0v11.40h-1.0z"/><path fill="#4b7d78" d="M288.0 248.18h1.0v11.40h-1.0z"/><path fill="#4b827d" d="M355.0 248.18h1.0v11.40h-1.0z"/><path fill="#555078" d="M319.0 259.58h1.0v11.40h-1.0zM321.0 259.58h1.0v11.40h-1.0zM353.0 259.58h1.0v11.40h-1.0z"/><path fill="#c8cd32" d="M286.0 270.98h1.0v11.40h-1.0zM336.0 270.98h1.0v11.40h-1.0z"/><path fill="#467d7d" d="M287.0 270.98h1.0v11.40h-1.0z"/><path fill="#41af78" d="M288.0 270.98h1.0v11.40h-1.0z"/><path fill="#b9d228" d="M371.0 270.98h2.0v11.40h-2.0z"/><path fill="#a0d23c" d="M434.0 270.98h2.0v11.40h-2.0z"/><path fill="#4baa6e" d="M252.0 282.39h1.0v11.40h-1.0z"/><path fill="#7dbe50" d="M384.0 282.39h1.0v11.40h-1.0z"/><path fill="#3c9b73" d="M204.0 293.79h1.0v11.40h-1.0zM427.0 293.79h1.0v11.40h-1.0z"/><path fill="#462d7d" d="M206.0 293.79h3.0v11.40h-3.0zM299.0 293.79h2.0v11.40h-2.0zM306.0 293.79h1.0v11.40h-1.0zM372.0 293.79h8.0v11.40h-8.0z"/><path fill="#463c78" d="M209.0 293.79h1.0v11.40h-1.0z"/><path fill="#50a56e" d="M210.0 293.79h1.0v11.40h-1.0z"/><path fill="#46467d" d="M211.0 293.79h1.0v11.40h-1.0z"/><path fill="#41467d" d="M217.0 293.79h1.0v11.40h-1.0zM324.0 293.79h1.0v11.40h-1.0z"/><path fill="#2d967d" d="M218.0 293.79h1.0v11.40h-1.0z"/><path fill="#32967d" d="M220.0 293.79h1.0v11.40h-1.0z"/><path fill="#4b3778" d="M224.0 293.79h1.0v11.40h-1.0zM227.0 293.79h1.0v11.40h-1.0z"/><path fill="#464178" d="M237.0 293.79h1.0v11.40h-1.0z"/><path fill="#55a569" d="M238.0 293.79h1.0v11.40h-1.0zM337.0 293.79h1.0v11.40h-1.0z"/><path fill="#464673" d="M249.0 293.79h1.0v11.40h-1.0z"/><path fill="#4ba06e" d="M250.0 293.79h1.0v11.40h-1.0z"/><path fill="#288c7d" d="M265.0 293.79h1.0v11.40h-1.0z"/><path fill="#46376e" d="M278.0 293.79h1.0v11.40h-1.0z"/><path fill="#4ba069" d="M279.0 293.79h1.0v11.40h-1.0z"/><path fill="#503c69" d="M280.0 293.79h1.0v11.40h-1.0z"/><path fill="#7daf50" d="M281.0 293.79h1.0v11.40h-1.0z"/><path fill="#502d69" d="M282.0 293.79h1.0v11.40h-1.0z"/><path fill="#5aaa64" d="M285.0 293.79h1.0v11.40h-1.0z"/><path fill="#41377d" d="M287.0 293.79h1.0v11.40h-1.0zM322.0 293.79h1.0v11.40h-1.0z"/><path fill="#413778" d="M291.0 293.79h1.0v11.40h-1.0zM353.0 293.79h1.0v11.40h-1.0z"/><path fill="#41417d" d="M296.0 293.79h1.0v11.40h-1.0z"/><path fill="#413c7d" d="M298.0 293.79h1.0v11.40h-1.0zM301.0 293.79h1.0v11.40h-1.0zM305.0 293.79h1.0v11.40h-1.0zM371.0 293.79h1.0v11.40h-1.0z"/><path fill="#23828c" d="M310.0 293.79h2.0v11.40h-2.0zM352.0 293.79h1.0v11.40h-1.0zM250.0 305.20h1.0v11.40h-1.0z"/><path fill="#553c73" d="M320.0 293.79h1.0v11.40h-1.0z"/><path fill="#464678" d="M336.0 293.79h1.0v11.40h-1.0zM338.0 293.79h1.0v11.40h-1.0z"/><path fill="#87b44b" d="M356.0 293.79h1.0v11.40h-1.0z"/><path fill="#504b73" d="M357.0 293.79h1.0v11.40h-1.0z"/><path fill="#4ba56e" d="M358.0 293.79h1.0v11.40h-1.0z"/><path fill="#413c73" d="M413.0 293.79h1.0v11.40h-1.0zM426.0 293.79h1.0v11.40h-1.0z"/><path fill="#50326e" d="M430.0 293.79h1.0v11.40h-1.0z"/><path fill="#4b416e" d="M433.0 293.79h1.0v11.40h-1.0z"/><path fill="#87b950" d="M208.0 305.20h1.0v11.40h-1.0z"/><path fill="#82c84b" d="M230.0 305.20h2.0v11.40h-2.0zM394.0 305.20h2.0v11.40h-2.0z"/><path fill="#555a78" d="M238.0 305.20h1.0v11.40h-1.0z"/><path fill="#b9cd2d" d="M290.0 305.20h2.0v11.40h-2.0z"/><path fill="#b9c32d" d="M329.0 305.20h1.0v11.40h-1.0z"/><path fill="#a5be37" d="M359.0 305.20h1.0v11.40h-1.0z"/><path fill="#5f5a6e" d="M360.0 305.20h1.0v11.40h-1.0z"/><path fill="#41a573" d="M388.0 305.20h1.0v11.40h-1.0zM407.0 305.20h1.0v11.40h-1.0z"/><path fill="#46647d" d="M433.0 305.20h1.0v11.40h-1.0z"/></g>
<g class="gl"><text transform="translate(444.8 41.8) scale(1.13 1)">Cxcl9</text><text transform="translate(444.8 53.1) scale(1.13 1)">Igtp</text><text transform="translate(444.8 64.5) scale(1.13 1)">H2.Ab1</text><text transform="translate(444.8 75.9) scale(1.13 1)">Cd74</text><text transform="translate(444.8 87.2) scale(1.13 1)">H2.Aa</text><text transform="translate(444.8 98.6) scale(1.13 1)">Irgm1</text><text transform="translate(444.8 110.0) scale(1.13 1)">Iigp1</text><text transform="translate(444.8 121.3) scale(1.13 1)">Ccl20</text><text transform="translate(444.8 132.7) scale(1.13 1)">Tm4sf1</text><text transform="translate(444.8 144.1) scale(1.13 1)">Pmaip1</text><text transform="translate(444.8 155.4) scale(1.13 1)">Nipal1</text><text transform="translate(444.8 166.8) scale(1.13 1)">Mmp7</text><text transform="translate(444.8 178.2) scale(1.13 1)">Gpnmb</text><text transform="translate(444.8 189.5) scale(1.13 1)">Nupr1</text><text transform="translate(444.8 200.9) scale(1.13 1)">Il1rn</text><text transform="translate(444.8 212.2) scale(1.13 1)">Dapl1</text><text transform="translate(444.8 223.6) scale(1.13 1)">Krt6a</text><text transform="translate(444.8 235.0) scale(1.13 1)">Il1a</text><text transform="translate(444.8 246.3) scale(1.13 1)">Adam8</text><text transform="translate(444.8 257.7) scale(1.13 1)">Slc14a1</text><text transform="translate(444.8 269.1) scale(1.13 1)">Smad3</text><text transform="translate(444.8 280.4) scale(1.13 1)">Cyp2b10</text><text transform="translate(444.8 291.8) scale(1.13 1)">Ido1</text><text transform="translate(444.8 303.2) scale(1.13 1)">Tspan8</text><text transform="translate(444.8 314.5) scale(1.13 1)">Calcb</text></g>
<defs><linearGradient id="cb" x1="0" y1="0" x2="0" y2="1"><stop offset="0.000" stop-color="#fde725"/><stop offset="0.083" stop-color="#d8e219"/><stop offset="0.174" stop-color="#a2da37"/><stop offset="0.259" stop-color="#75d054"/><stop offset="0.347" stop-color="#4ec36b"/><stop offset="0.435" stop-color="#32b67a"/><stop offset="0.520" stop-color="#22a884"/><stop offset="0.606" stop-color="#1f978b"/><stop offset="0.694" stop-color="#24868e"/><stop offset="0.777" stop-color="#2b758e"/><stop offset="0.865" stop-color="#33628d"/><stop offset="0.933" stop-color="#414487"/><stop offset="1.000" stop-color="#440154"/></linearGradient></defs>
<rect x="483" y="34" width="6" height="96.5" fill="url(#cb)"/>
<g style="font-size:6.4px">
<text x="491.5" y="36.2">5</text><text x="491.5" y="52.9">4</text><text x="491.5" y="69.6">3</text>
<text x="491.5" y="86.3">2</text><text x="491.5" y="103">1</text><text x="491.5" y="119.7">0</text>
</g>
<path d="M475.3 197.1L486.3 191.2L484 195.2H495.8V198.9H484L486.3 202.9Z" fill="#000"/>
<path d="M475.3 231.3L486.3 225.4L484 229.4H495.8V233.1H484L486.3 237.1Z" fill="#000"/>
<text class="b" x="501.3" y="14.2" style="font-size:20px">B</text><path d="M529.5 11.0V94.5" fill="none" stroke="#333" stroke-width="1.2"/><path d="M528.9 94.5H683.6" fill="none" stroke="#555" stroke-width="1.5"/><path d="M527.3 15.9H529.5" stroke="#333" stroke-width="1"/><text x="526.3" y="19.7" text-anchor="end" style="font-size:10.4px;font-weight:bold">9</text><text x="533.8" y="21.5" class="bi" style="font-size:15.6px">Il1rn</text><path d="M539.9 90.5H603" stroke="#444" stroke-width="1"/><path d="M571.6 78.4V90.5" stroke="#333" stroke-width="0.9"/><path d="M641.90 19.20L641.89 20.22L641.87 21.70L641.86 23.41L641.85 25.17L641.86 26.77L641.90 28.00L641.97 28.84L642.06 29.43L642.17 29.86L642.30 30.21L642.45 30.57L642.60 31.00L642.80 31.50L643.05 32.00L643.32 32.50L643.56 33.00L643.73 33.50L643.80 34.00L643.73 34.50L643.56 35.00L643.32 35.50L643.05 36.00L642.80 36.50L642.60 37.00L642.45 37.49L642.30 37.96L642.17 38.44L642.06 38.93L641.96 39.44L641.90 40.00L641.86 40.62L641.84 41.30L641.84 42.00L641.87 42.70L641.92 43.38L642.00 44.00L642.14 44.56L642.34 45.07L642.57 45.56L642.78 46.04L642.94 46.51L643.00 47.00L642.94 47.42L642.78 47.74L642.57 48.06L642.34 48.48L642.14 49.09L642.00 50.00L641.93 51.23L641.90 52.70L641.89 54.38L641.89 56.19L641.90 58.08L641.90 60.00L641.89 62.12L641.87 64.51L641.86 66.98L641.86 69.35L641.87 71.42L641.90 73.00L641.96 74.00L642.06 74.56L642.17 74.82L642.28 74.94L642.36 75.05L642.40 75.30L642.37 75.68L642.30 76.05L642.19 76.42L642.09 76.79L642.02 77.15L642.00 77.50L642.02 77.83L642.07 78.15L642.14 78.46L642.25 78.76L642.40 79.08L642.60 79.40L642.87 79.73L643.20 80.07L643.57 80.41L643.97 80.76L644.35 81.12L644.70 81.50L645.04 81.90L645.39 82.32L645.74 82.76L646.05 83.19L646.31 83.61L646.50 84.00L646.59 84.37L646.61 84.73L646.57 85.08L646.51 85.40L646.44 85.71L646.40 86.00L646.33 86.26L646.21 86.50L646.09 86.71L646.02 86.91L646.04 87.11L646.20 87.30L646.43 87.48L646.69 87.66L647.04 87.82L647.56 87.98L648.32 88.14L649.40 88.30L650.93 88.47L652.86 88.64L655.04 88.81L657.30 88.97L659.47 89.14L661.40 89.30L663.15 89.46L664.87 89.61L666.51 89.77L668.01 89.92L669.32 90.06L670.40 90.20L671.20 90.34L671.75 90.47L672.11 90.61L672.35 90.73L672.53 90.83L672.70 90.90L610.10 90.90L610.27 90.83L610.45 90.73L610.69 90.61L611.05 90.47L611.60 90.34L612.40 90.20L613.48 90.06L614.79 89.92L616.29 89.77L617.93 89.61L619.65 89.46L621.40 89.30L623.33 89.14L625.50 88.97L627.76 88.81L629.94 88.64L631.87 88.47L633.40 88.30L634.48 88.14L635.24 87.98L635.76 87.82L636.11 87.66L636.37 87.48L636.60 87.30L636.76 87.11L636.78 86.91L636.71 86.71L636.59 86.50L636.47 86.26L636.40 86.00L636.36 85.71L636.29 85.40L636.23 85.08L636.19 84.73L636.21 84.37L636.30 84.00L636.49 83.61L636.75 83.19L637.06 82.76L637.41 82.32L637.76 81.90L638.10 81.50L638.45 81.12L638.83 80.76L639.23 80.41L639.60 80.07L639.93 79.73L640.20 79.40L640.40 79.08L640.55 78.76L640.66 78.46L640.73 78.15L640.78 77.83L640.80 77.50L640.78 77.15L640.71 76.79L640.61 76.42L640.50 76.05L640.43 75.68L640.40 75.30L640.44 75.05L640.52 74.94L640.62 74.82L640.74 74.56L640.84 74.00L640.90 73.00L640.93 71.42L640.94 69.35L640.94 66.98L640.93 64.51L640.91 62.12L640.90 60.00L640.90 58.08L640.91 56.19L640.91 54.38L640.90 52.70L640.87 51.23L640.80 50.00L640.66 49.09L640.46 48.48L640.23 48.06L640.02 47.74L639.86 47.42L639.80 47.00L639.86 46.51L640.02 46.04L640.23 45.56L640.46 45.07L640.66 44.56L640.80 44.00L640.88 43.38L640.93 42.70L640.96 42.00L640.96 41.30L640.94 40.62L640.90 40.00L640.84 39.44L640.74 38.93L640.63 38.44L640.50 37.96L640.35 37.49L640.20 37.00L640.00 36.50L639.75 36.00L639.48 35.50L639.24 35.00L639.07 34.50L639.00 34.00L639.07 33.50L639.24 33.00L639.48 32.50L639.75 32.00L640.00 31.50L640.20 31.00L640.35 30.57L640.50 30.21L640.62 29.86L640.74 29.43L640.83 28.84L640.90 28.00L640.94 26.77L640.95 25.17L640.94 23.41L640.93 21.70L640.91 20.22L640.90 19.20Z" fill="#ff7000" stroke="#333" stroke-width="0.8"/><path d="M529.5 103.0V186.2" fill="none" stroke="#333" stroke-width="1.2"/><path d="M528.9 186.2H683.6" fill="none" stroke="#555" stroke-width="1.5"/><path d="M527.3 106.1H529.5" stroke="#333" stroke-width="1"/><text x="526.3" y="109.9" text-anchor="end" style="font-size:10.4px;font-weight:bold">8</text><text x="533.8" y="112.5" class="bi" style="font-size:15.6px">Il1a</text><path d="M539.9 182.4H603" stroke="#444" stroke-width="1"/><path d="M571.6 172.7V182.4" stroke="#333" stroke-width="0.9"/><path d="M642.20 110.50L642.31 110.66L642.47 110.87L642.66 111.12L642.83 111.41L642.96 111.70L643.00 112.00L642.94 112.26L642.80 112.48L642.61 112.72L642.40 113.02L642.22 113.43L642.10 114.00L642.03 114.78L641.99 115.74L641.97 116.81L641.97 117.93L641.98 119.01L642.00 120.00L642.05 120.89L642.13 121.74L642.22 122.56L642.31 123.37L642.37 124.18L642.40 125.00L642.38 125.78L642.31 126.48L642.23 127.19L642.13 127.96L642.05 128.88L642.00 130.00L641.97 131.44L641.96 133.15L641.96 135.00L641.96 136.85L641.98 138.56L642.00 140.00L642.04 141.12L642.10 142.04L642.17 142.81L642.23 143.52L642.28 144.22L642.30 145.00L642.28 145.78L642.24 146.48L642.17 147.19L642.11 147.96L642.05 148.88L642.00 150.00L641.97 151.42L641.94 153.11L641.91 154.94L641.90 156.78L641.89 158.51L641.90 160.00L641.92 161.28L641.96 162.44L642.00 163.50L642.06 164.44L642.12 165.28L642.20 166.00L642.28 166.55L642.36 166.93L642.45 167.19L642.56 167.41L642.71 167.66L642.90 168.00L643.16 168.44L643.48 168.93L643.84 169.44L644.20 169.96L644.53 170.49L644.80 171.00L645.02 171.51L645.20 172.04L645.36 172.56L645.50 173.07L645.61 173.56L645.70 174.00L645.77 174.39L645.82 174.74L645.84 175.06L645.85 175.37L645.83 175.68L645.80 176.00L645.71 176.34L645.55 176.69L645.37 177.03L645.22 177.37L645.15 177.70L645.20 178.00L645.29 178.28L645.36 178.55L645.51 178.81L645.84 179.05L646.43 179.28L647.40 179.50L648.86 179.71L650.75 179.90L652.91 180.08L655.19 180.26L657.40 180.43L659.40 180.60L661.26 180.77L663.13 180.94L664.94 181.11L666.64 181.28L668.14 181.44L669.40 181.60L670.38 181.77L671.12 181.94L671.67 182.11L672.09 182.27L672.42 182.40L672.70 182.50L610.10 182.50L610.38 182.40L610.71 182.27L611.12 182.11L611.68 181.94L612.42 181.77L613.40 181.60L614.66 181.44L616.16 181.28L617.86 181.11L619.67 180.94L621.54 180.77L623.40 180.60L625.40 180.43L627.61 180.26L629.89 180.08L632.05 179.90L633.94 179.71L635.40 179.50L636.37 179.28L636.96 179.05L637.29 178.81L637.44 178.55L637.51 178.28L637.60 178.00L637.65 177.70L637.58 177.37L637.43 177.03L637.25 176.69L637.09 176.34L637.00 176.00L636.97 175.68L636.95 175.37L636.96 175.06L636.98 174.74L637.03 174.39L637.10 174.00L637.19 173.56L637.30 173.07L637.44 172.56L637.60 172.04L637.78 171.51L638.00 171.00L638.27 170.49L638.60 169.96L638.96 169.44L639.32 168.93L639.64 168.44L639.90 168.00L640.09 167.66L640.24 167.41L640.35 167.19L640.44 166.93L640.52 166.55L640.60 166.00L640.68 165.28L640.74 164.44L640.80 163.50L640.84 162.44L640.88 161.28L640.90 160.00L640.91 158.51L640.90 156.78L640.89 154.94L640.86 153.11L640.83 151.42L640.80 150.00L640.75 148.88L640.69 147.96L640.62 147.19L640.56 146.48L640.52 145.78L640.50 145.00L640.52 144.22L640.57 143.52L640.63 142.81L640.70 142.04L640.76 141.12L640.80 140.00L640.82 138.56L640.84 136.85L640.84 135.00L640.84 133.15L640.83 131.44L640.80 130.00L640.75 128.88L640.67 127.96L640.57 127.19L640.49 126.48L640.42 125.78L640.40 125.00L640.43 124.18L640.49 123.37L640.58 122.56L640.67 121.74L640.75 120.89L640.80 120.00L640.82 119.01L640.83 117.93L640.83 116.81L640.81 115.74L640.77 114.78L640.70 114.00L640.58 113.43L640.40 113.02L640.19 112.72L640.00 112.48L639.86 112.26L639.80 112.00L639.84 111.70L639.97 111.41L640.14 111.12L640.33 110.87L640.49 110.66L640.60 110.50Z" fill="#ff7000" stroke="#333" stroke-width="0.8"/><path d="M529.5 193.5V276.6" fill="none" stroke="#333" stroke-width="1.2"/><path d="M528.9 276.6H683.6" fill="none" stroke="#555" stroke-width="1.5"/><path d="M527.3 196.9H529.5" stroke="#333" stroke-width="1"/><text x="526.3" y="200.7" text-anchor="end" style="font-size:10.4px;font-weight:bold">7</text><text x="533.8" y="202.2" class="bi" style="font-size:15.6px">Il1r1</text><path d="M539.9 273.3H603" stroke="#444" stroke-width="1"/><path d="M571.6 209.4V273.3" stroke="#333" stroke-width="0.9"/><path d="M647.00 198.80L647.17 199.12L647.40 199.54L647.68 200.06L647.96 200.64L648.21 201.30L648.40 202.00L648.53 202.78L648.63 203.66L648.70 204.61L648.74 205.58L648.74 206.56L648.70 207.50L648.62 208.36L648.50 209.14L648.34 209.92L648.15 210.78L647.93 211.78L647.70 213.00L647.43 214.50L647.12 216.23L646.79 218.11L646.44 220.04L646.11 221.94L645.80 223.70L645.51 225.34L645.21 226.94L644.93 228.51L644.66 230.03L644.42 231.53L644.20 233.00L644.01 234.48L643.83 235.98L643.67 237.44L643.55 238.83L643.45 240.10L643.40 241.20L643.39 242.10L643.43 242.83L643.51 243.43L643.60 243.96L643.70 244.47L643.80 245.00L643.89 245.54L643.97 246.04L644.07 246.53L644.18 246.99L644.32 247.44L644.50 247.90L644.71 248.35L644.94 248.78L645.21 249.21L645.50 249.63L645.83 250.06L646.20 250.50L646.60 250.95L647.01 251.40L647.47 251.86L647.97 252.33L648.55 252.81L649.20 253.30L649.95 253.81L650.79 254.33L651.69 254.86L652.64 255.40L653.62 255.94L654.60 256.50L655.62 257.07L656.70 257.66L657.81 258.26L658.90 258.86L659.94 259.44L660.90 260.00L661.76 260.53L662.57 261.03L663.32 261.53L664.03 262.01L664.72 262.50L665.40 263.00L666.05 263.51L666.67 264.01L667.27 264.52L667.85 265.04L668.42 265.56L669.00 266.10L669.61 266.67L670.25 267.26L670.89 267.87L671.48 268.46L672.00 269.01L672.40 269.50L672.67 269.92L672.84 270.29L672.92 270.63L672.96 270.93L672.98 271.22L673.00 271.50L673.01 271.78L672.99 272.06L672.94 272.32L672.88 272.56L672.83 272.75L672.80 272.90L610.00 272.90L609.97 272.75L609.92 272.56L609.86 272.32L609.81 272.06L609.79 271.78L609.80 271.50L609.82 271.22L609.84 270.93L609.88 270.63L609.96 270.29L610.13 269.92L610.40 269.50L610.80 269.01L611.32 268.46L611.91 267.87L612.55 267.26L613.19 266.67L613.80 266.10L614.38 265.56L614.95 265.04L615.53 264.52L616.13 264.01L616.75 263.51L617.40 263.00L618.08 262.50L618.77 262.01L619.48 261.53L620.23 261.03L621.04 260.53L621.90 260.00L622.86 259.44L623.90 258.86L624.99 258.26L626.10 257.66L627.18 257.07L628.20 256.50L629.18 255.94L630.16 255.40L631.11 254.86L632.01 254.33L632.85 253.81L633.60 253.30L634.25 252.81L634.83 252.33L635.33 251.86L635.79 251.40L636.20 250.95L636.60 250.50L636.97 250.06L637.30 249.63L637.59 249.21L637.86 248.78L638.09 248.35L638.30 247.90L638.48 247.44L638.62 246.99L638.73 246.53L638.83 246.04L638.91 245.54L639.00 245.00L639.10 244.47L639.20 243.96L639.29 243.43L639.37 242.83L639.41 242.10L639.40 241.20L639.35 240.10L639.25 238.83L639.12 237.44L638.97 235.98L638.79 234.48L638.60 233.00L638.38 231.53L638.14 230.03L637.87 228.51L637.59 226.94L637.29 225.34L637.00 223.70L636.69 221.94L636.36 220.04L636.01 218.11L635.68 216.23L635.37 214.50L635.10 213.00L634.87 211.78L634.65 210.78L634.46 209.92L634.30 209.14L634.18 208.36L634.10 207.50L634.06 206.56L634.06 205.58L634.10 204.61L634.17 203.66L634.27 202.78L634.40 202.00L634.59 201.30L634.84 200.64L635.12 200.06L635.40 199.54L635.63 199.12L635.80 198.80Z" fill="#ff7000" stroke="#333" stroke-width="0.8"/><path d="M571.6 276.6V279.5M641.4 276.6V279.5" stroke="#333" stroke-width="1"/><text class="xl" transform="translate(578.4 291.3) scale(1.05 1) rotate(-45)" text-anchor="end" style="font-size:15.2px">Naïve</text><text class="xl" transform="translate(647.5 291.3) scale(1.05 1) rotate(-45)" text-anchor="end" style="font-size:15.2px">Inflamed</text>
<text class="b" x="-1" y="354.9" style="font-size:20px">C</text><text class="bi" transform="translate(170.90 356.80) scale(1.060 1)" text-anchor="middle" style="font-size:15.20px">Il1rn</text><path d="M107.3 363.6H236.5" stroke="#000" stroke-width="1.7"/><text class="bi" transform="translate(70.80 379.70) scale(1.060 1)" text-anchor="start" style="font-size:15.00px">soluble</text><text class="bi" transform="translate(214 380) scale(1.013 1)" style="font-size:15px">intracellular</text><text class="bi" transform="translate(421.60 357.00) scale(1.060 1)" text-anchor="middle" style="font-size:15.60px">Il1a</text><text class="b" x="513.6" y="366" style="font-size:19.6px">D</text><path d="M54.2 406.4V602.4H143.6" fill="none" stroke="#000" stroke-width="2"/><path d="M46.7 407.4H54.2" stroke="#000" stroke-width="2"/><text class="tk" transform="translate(44.90 412.10) scale(1.060 1)" text-anchor="end">80</text><path d="M46.7 456.1H54.2" stroke="#000" stroke-width="2"/><text class="tk" transform="translate(44.90 460.85) scale(1.060 1)" text-anchor="end">60</text><path d="M46.7 504.9H54.2" stroke="#000" stroke-width="2"/><text class="tk" transform="translate(44.90 509.60) scale(1.060 1)" text-anchor="end">40</text><path d="M46.7 553.6H54.2" stroke="#000" stroke-width="2"/><text class="tk" transform="translate(44.90 558.35) scale(1.060 1)" text-anchor="end">20</text><path d="M46.7 602.4H54.2" stroke="#000" stroke-width="2"/><text class="tk" transform="translate(44.90 607.10) scale(1.060 1)" text-anchor="end">0</text><path d="M79.3 602.4V610.6" stroke="#000" stroke-width="2"/><path d="M117.3 602.4V610.6" stroke="#000" stroke-width="2"/><path d="M106.0 602.4V472.5H129.7V602.4" fill="none" stroke="#1a1af8" stroke-width="2"/><path d="M117.9 427.8V516.5M111.9 427.8H123.9M111.9 516.5H123.9" fill="none" stroke="#1a1af8" stroke-width="2"/><circle cx="69.8" cy="601.8" r="3.9" fill="#fff" stroke="#f51515" stroke-width="2.1"/><circle cx="79.3" cy="597.5" r="3.9" fill="#fff" stroke="#f51515" stroke-width="2.1"/><circle cx="88.2" cy="601.8" r="3.9" fill="#fff" stroke="#f51515" stroke-width="2.1"/><circle cx="117.9" cy="458.0" r="3.9" fill="#fff" stroke="#1a1af8" stroke-width="2.1"/><circle cx="117.9" cy="495.7" r="3.9" fill="#fff" stroke="#1a1af8" stroke-width="2.1"/><circle cx="117.9" cy="574.6" r="3.9" fill="#fff" stroke="#1a1af8" stroke-width="2.1"/><path d="M79.6 419.8V410.0H117.6V419.8" fill="none" stroke="#000" stroke-width="1.7"/><text class="pv" transform="translate(98.80 407.10) scale(1.1 1)" text-anchor="middle">0.0631</text><text class="yl" transform="translate(21.6 504.3) rotate(-90)" text-anchor="middle" textLength="220.0" lengthAdjust="spacingAndGlyphs">Fold change_mRNA expression</text><text class="xl" transform="translate(85.2 622.6) scale(1.060 1) rotate(-45)" text-anchor="end" style="font-size:15.2px">Naïve</text><text class="xl" transform="translate(125.3 625.5) scale(1.060 1) rotate(-45)" text-anchor="end">Inflamed</text><path d="M216.0 406.2V602.4H305.0" fill="none" stroke="#000" stroke-width="2"/><path d="M208.5 407.2H216.0" stroke="#000" stroke-width="2"/><text class="tk" transform="translate(206.70 411.90) scale(1.060 1)" text-anchor="end">80</text><path d="M208.5 456.0H216.0" stroke="#000" stroke-width="2"/><text class="tk" transform="translate(206.70 460.70) scale(1.060 1)" text-anchor="end">60</text><path d="M208.5 504.8H216.0" stroke="#000" stroke-width="2"/><text class="tk" transform="translate(206.70 509.50) scale(1.060 1)" text-anchor="end">40</text><path d="M208.5 553.6H216.0" stroke="#000" stroke-width="2"/><text class="tk" transform="translate(206.70 558.30) scale(1.060 1)" text-anchor="end">20</text><path d="M208.5 602.4H216.0" stroke="#000" stroke-width="2"/><text class="tk" transform="translate(206.70 607.10) scale(1.060 1)" text-anchor="end">0</text><path d="M240.6 602.4V610.6" stroke="#000" stroke-width="2"/><path d="M278.9 602.4V610.6" stroke="#000" stroke-width="2"/><path d="M267.0 602.4V510.1H291.0V602.4" fill="none" stroke="#1a1af8" stroke-width="2"/><path d="M278.9 485.8V532.7M272.4 485.8H285.4M272.4 532.7H285.4" fill="none" stroke="#1a1af8" stroke-width="2"/><circle cx="231.0" cy="602.4" r="3.9" fill="#fff" stroke="#f51515" stroke-width="2.1"/><circle cx="240.6" cy="600.5" r="3.9" fill="#fff" stroke="#f51515" stroke-width="2.1"/><circle cx="250.0" cy="595.1" r="3.9" fill="#fff" stroke="#f51515" stroke-width="2.1"/><circle cx="250.0" cy="602.4" r="3.9" fill="#fff" stroke="#f51515" stroke-width="2.1"/><circle cx="278.7" cy="461.5" r="3.9" fill="#fff" stroke="#1a1af8" stroke-width="2.1"/><circle cx="278.7" cy="495.4" r="3.9" fill="#fff" stroke="#1a1af8" stroke-width="2.1"/><circle cx="278.9" cy="508.0" r="3.9" fill="#fff" stroke="#1a1af8" stroke-width="2.1"/><circle cx="278.9" cy="573.5" r="3.9" fill="#fff" stroke="#1a1af8" stroke-width="2.1"/><path d="M241.0 450.3V439.7H278.7V450.3" fill="none" stroke="#000" stroke-width="1.7"/><text class="pv" transform="translate(260.05 436.80) scale(1.1 1)" text-anchor="middle">0.0305</text><text class="yl" transform="translate(182.7 504.6) rotate(-90)" text-anchor="middle" textLength="220.0" lengthAdjust="spacingAndGlyphs">Fold change_mRNA expression</text><text class="xl" transform="translate(247.5 621.6) scale(1.060 1) rotate(-45)" text-anchor="end" style="font-size:15.2px">Naïve</text><text class="xl" transform="translate(285.2 624.5) scale(1.060 1) rotate(-45)" text-anchor="end">Inflamed</text><path d="M383.3 404.2V603.0H473.5" fill="none" stroke="#000" stroke-width="2"/><path d="M375.8 405.2H383.3" stroke="#000" stroke-width="2"/><text class="tk" transform="translate(374.00 409.90) scale(1.060 1)" text-anchor="end">60</text><path d="M375.8 471.1H383.3" stroke="#000" stroke-width="2"/><text class="tk" transform="translate(374.00 475.83) scale(1.060 1)" text-anchor="end">40</text><path d="M375.8 537.1H383.3" stroke="#000" stroke-width="2"/><text class="tk" transform="translate(374.00 541.77) scale(1.060 1)" text-anchor="end">20</text><path d="M375.8 603.0H383.3" stroke="#000" stroke-width="2"/><text class="tk" transform="translate(374.00 607.70) scale(1.060 1)" text-anchor="end">0</text><path d="M408.2 603.0V611.2" stroke="#000" stroke-width="2"/><path d="M446.8 603.0V611.2" stroke="#000" stroke-width="2"/><path d="M434.7 603.0V540.0H458.9V603.0" fill="none" stroke="#1a1af8" stroke-width="2"/><path d="M446.8 516.6V562.2M440.8 516.6H452.8M440.8 562.2H452.8" fill="none" stroke="#1a1af8" stroke-width="2"/><circle cx="399.5" cy="603.0" r="3.9" fill="#fff" stroke="#f51515" stroke-width="2.1"/><circle cx="408.8" cy="595.4" r="3.9" fill="#fff" stroke="#f51515" stroke-width="2.1"/><circle cx="417.8" cy="601.6" r="3.9" fill="#fff" stroke="#f51515" stroke-width="2.1"/><circle cx="447.0" cy="430.7" r="3.9" fill="#fff" stroke="#1a1af8" stroke-width="2.1"/><circle cx="447.0" cy="484.0" r="3.9" fill="#fff" stroke="#1a1af8" stroke-width="2.1"/><circle cx="447.0" cy="502.5" r="3.9" fill="#fff" stroke="#1a1af8" stroke-width="2.1"/><circle cx="447.0" cy="521.4" r="3.9" fill="#fff" stroke="#1a1af8" stroke-width="2.1"/><circle cx="447.0" cy="586.4" r="3.9" fill="#fff" stroke="#1a1af8" stroke-width="2.1"/><circle cx="447.0" cy="594.5" r="3.9" fill="#fff" stroke="#1a1af8" stroke-width="2.1"/><circle cx="437.8" cy="599.0" r="3.9" fill="#fff" stroke="#1a1af8" stroke-width="2.1"/><circle cx="456.1" cy="597.4" r="3.9" fill="#fff" stroke="#1a1af8" stroke-width="2.1"/><path d="M408.5 420.0V409.4H447.0V420.0" fill="none" stroke="#000" stroke-width="1.7"/><text class="pv" transform="translate(427.95 406.50) scale(1.1 1)" text-anchor="middle">0.0323</text><text class="yl" transform="translate(350.4 504.0) rotate(-90)" text-anchor="middle" textLength="222.0" lengthAdjust="spacingAndGlyphs">Fold change_mRNA expression</text><text class="xl" transform="translate(412.0 624.0) scale(1.060 1) rotate(-45)" text-anchor="end" style="font-size:15.2px">Naïve</text><text class="xl" transform="translate(454.7 626.9) scale(1.060 1) rotate(-45)" text-anchor="end">Inflamed</text><path d="M564.8 404.6V602.5H654.3" fill="none" stroke="#000" stroke-width="2"/><path d="M557.3 405.6H564.8" stroke="#000" stroke-width="2"/><text class="tk" transform="translate(555.50 410.30) scale(1.060 1)" text-anchor="end">6</text><path d="M557.3 471.2H564.8" stroke="#000" stroke-width="2"/><text class="tk" transform="translate(555.50 475.93) scale(1.060 1)" text-anchor="end">4</text><path d="M557.3 536.9H564.8" stroke="#000" stroke-width="2"/><text class="tk" transform="translate(555.50 541.57) scale(1.060 1)" text-anchor="end">2</text><path d="M557.3 602.5H564.8" stroke="#000" stroke-width="2"/><text class="tk" transform="translate(555.50 607.20) scale(1.060 1)" text-anchor="end">0</text><path d="M589.6 602.5V610.7" stroke="#000" stroke-width="2"/><path d="M628.1 602.5V610.7" stroke="#000" stroke-width="2"/><path d="M616.3 602.5V508.7H640.2V602.5" fill="none" stroke="#1a1af8" stroke-width="2"/><path d="M628.5 484.2V532.1M622.5 484.2H634.5M622.5 532.1H634.5" fill="none" stroke="#1a1af8" stroke-width="2"/><circle cx="581.1" cy="602.5" r="3.9" fill="#fff" stroke="#f51515" stroke-width="2.1"/><circle cx="587.3" cy="602.5" r="3.9" fill="#fff" stroke="#f51515" stroke-width="2.1"/><circle cx="593.5" cy="602.5" r="3.9" fill="#fff" stroke="#f51515" stroke-width="2.1"/><circle cx="599.1" cy="602.5" r="3.9" fill="#fff" stroke="#f51515" stroke-width="2.1"/><circle cx="628.3" cy="436.7" r="3.9" fill="#fff" stroke="#1a1af8" stroke-width="2.1"/><circle cx="619.1" cy="522.8" r="3.9" fill="#fff" stroke="#1a1af8" stroke-width="2.1"/><circle cx="637.4" cy="527.9" r="3.9" fill="#fff" stroke="#1a1af8" stroke-width="2.1"/><circle cx="628.1" cy="544.8" r="3.9" fill="#fff" stroke="#1a1af8" stroke-width="2.1"/><path d="M590.0 425.9V415.9H628.3V425.9" fill="none" stroke="#000" stroke-width="1.7"/><text class="pv" transform="translate(609.35 413.00) scale(1.1 1)" text-anchor="middle">0.0298</text><text class="yl" transform="translate(533.2 502.7) rotate(-90)" text-anchor="middle" textLength="199.5" lengthAdjust="spacingAndGlyphs">IL-1RA/total protein (ng/mg)</text><text class="xl" transform="translate(596.7 621.3) scale(1.060 1) rotate(-45)" text-anchor="end" style="font-size:15.2px">Naïve</text><text class="xl" transform="translate(635.2 624.2) scale(1.060 1) rotate(-45)" text-anchor="end">Inflamed</text>
</svg>
</body></html>
